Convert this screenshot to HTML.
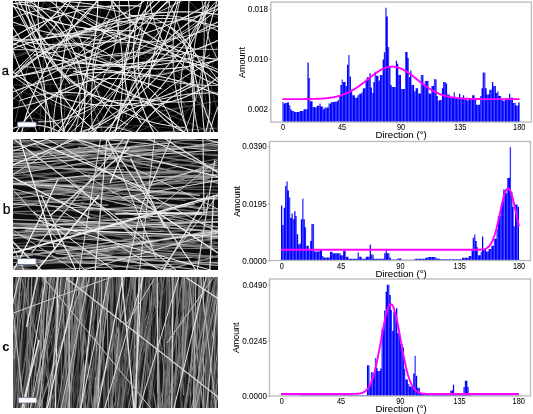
<!DOCTYPE html><html><head><meta charset="utf-8"><style>html,body{margin:0;padding:0;background:#fff;width:533px;height:414px;overflow:hidden;position:relative}.lbl{position:absolute;font-family:"Liberation Sans", sans-serif;font-size:13px;color:#000;line-height:1}svg{display:block}</style></head><body>
<svg style="position:absolute;left:13px;top:1px" width="205" height="131" viewBox="0 0 205 131"><defs><filter id="blr" x="-5%" y="-5%" width="110%" height="110%"><feGaussianBlur stdDeviation="0.7"/></filter><filter id="blr2" x="-5%" y="-5%" width="110%" height="110%"><feGaussianBlur stdDeviation="0.35"/></filter></defs><rect width="205" height="131" fill="#030303"/>
<g filter="url(#blr)">
<line x1="127.7" y1="64.9" x2="57.8" y2="81.8" stroke="rgb(77,77,77)" stroke-width="0.9"/>
<line x1="35.7" y1="62.8" x2="42.2" y2="147.8" stroke="rgb(56,56,56)" stroke-width="0.6"/>
<line x1="100.4" y1="-14.1" x2="24" y2="37.9" stroke="rgb(47,47,47)" stroke-width="0.8"/>
<line x1="111.4" y1="27" x2="51" y2="91.7" stroke="rgb(84,84,84)" stroke-width="0.6"/>
<line x1="86.9" y1="-6.8" x2="129.7" y2="22.4" stroke="rgb(46,46,46)" stroke-width="0.9"/>
<line x1="46" y1="62.7" x2="87.7" y2="92.1" stroke="rgb(63,63,63)" stroke-width="0.8"/>
<line x1="97.4" y1="14" x2="174.2" y2="105.8" stroke="rgb(98,98,98)" stroke-width="0.6"/>
<line x1="52.7" y1="83" x2="51.4" y2="115.6" stroke="rgb(81,81,81)" stroke-width="0.9"/>
<line x1="61.8" y1="56.4" x2="102.4" y2="165.4" stroke="rgb(99,99,99)" stroke-width="0.9"/>
<line x1="12.3" y1="116.2" x2="75.2" y2="126.7" stroke="rgb(90,90,90)" stroke-width="0.8"/>
<line x1="35.8" y1="65.1" x2="-5.9" y2="99.9" stroke="rgb(50,50,50)" stroke-width="0.7"/>
<line x1="23.5" y1="48.7" x2="-17.3" y2="58.8" stroke="rgb(90,90,90)" stroke-width="0.6"/>
<line x1="-21.8" y1="83.1" x2="46.3" y2="125.7" stroke="rgb(73,73,73)" stroke-width="0.8"/>
<line x1="193.9" y1="69.6" x2="210.1" y2="132" stroke="rgb(70,70,70)" stroke-width="0.8"/>
<line x1="94.6" y1="30.7" x2="-7.3" y2="40" stroke="rgb(64,64,64)" stroke-width="1.0"/>
<line x1="46.1" y1="24" x2="-38.1" y2="25.1" stroke="rgb(81,81,81)" stroke-width="0.6"/>
<line x1="168.5" y1="-8.2" x2="237.1" y2="64" stroke="rgb(66,66,66)" stroke-width="0.9"/>
<line x1="44.6" y1="-16.9" x2="113.8" y2="36.3" stroke="rgb(45,45,45)" stroke-width="0.8"/>
<line x1="112.7" y1="54.7" x2="39.7" y2="64.1" stroke="rgb(81,81,81)" stroke-width="0.7"/>
<line x1="65" y1="61.2" x2="93.3" y2="103.1" stroke="rgb(84,84,84)" stroke-width="0.7"/>
<line x1="62.3" y1="92.4" x2="15.5" y2="101.3" stroke="rgb(69,69,69)" stroke-width="1.0"/>
<line x1="107.9" y1="49.8" x2="139.6" y2="60.6" stroke="rgb(61,61,61)" stroke-width="0.7"/>
<line x1="180" y1="11.7" x2="108.9" y2="55.7" stroke="rgb(63,63,63)" stroke-width="0.8"/>
<line x1="156.8" y1="113.9" x2="224.2" y2="142.2" stroke="rgb(86,86,86)" stroke-width="0.9"/>
<line x1="149.3" y1="30.5" x2="102.6" y2="42.9" stroke="rgb(46,46,46)" stroke-width="0.6"/>
<line x1="57" y1="28.6" x2="111.7" y2="36.7" stroke="rgb(78,78,78)" stroke-width="0.8"/>
<line x1="82.7" y1="27.6" x2="-28.7" y2="67.3" stroke="rgb(87,87,87)" stroke-width="0.9"/>
<line x1="122.8" y1="69.7" x2="91.2" y2="178.4" stroke="rgb(75,75,75)" stroke-width="1.0"/>
<line x1="100.2" y1="123.2" x2="187.2" y2="129" stroke="rgb(75,75,75)" stroke-width="0.6"/>
<line x1="29.3" y1="9.9" x2="98.2" y2="25.9" stroke="rgb(68,68,68)" stroke-width="0.9"/>
<line x1="214.8" y1="55.9" x2="154.3" y2="137.2" stroke="rgb(66,66,66)" stroke-width="0.7"/>
<line x1="171.5" y1="104.7" x2="109.4" y2="131.3" stroke="rgb(95,95,95)" stroke-width="0.6"/>
<line x1="118.1" y1="-26.1" x2="86.8" y2="29.9" stroke="rgb(45,45,45)" stroke-width="0.8"/>
<line x1="71" y1="82.6" x2="-38.1" y2="84.9" stroke="rgb(91,91,91)" stroke-width="0.7"/>
<line x1="186.8" y1="55.4" x2="196.3" y2="126.4" stroke="rgb(79,79,79)" stroke-width="0.6"/>
<line x1="165.3" y1="-30.9" x2="142.3" y2="38.7" stroke="rgb(59,59,59)" stroke-width="1.0"/>
<line x1="40.9" y1="69.9" x2="5.4" y2="134.5" stroke="rgb(45,45,45)" stroke-width="0.7"/>
<line x1="32.2" y1="31.3" x2="26.5" y2="129" stroke="rgb(66,66,66)" stroke-width="0.9"/>
<line x1="67.3" y1="78.3" x2="113.9" y2="155.3" stroke="rgb(57,57,57)" stroke-width="0.9"/>
<line x1="144.8" y1="84.4" x2="184.7" y2="113.4" stroke="rgb(59,59,59)" stroke-width="0.8"/>
<line x1="64.3" y1="-34.8" x2="65.5" y2="70.5" stroke="rgb(99,99,99)" stroke-width="0.6"/>
<line x1="30.2" y1="117.8" x2="-3.9" y2="139.1" stroke="rgb(75,75,75)" stroke-width="0.7"/>
<line x1="58.2" y1="19.9" x2="29.6" y2="88.6" stroke="rgb(65,65,65)" stroke-width="0.9"/>
<line x1="144.6" y1="37.7" x2="200.6" y2="126" stroke="rgb(62,62,62)" stroke-width="0.9"/>
<line x1="14.9" y1="64.6" x2="2.1" y2="121" stroke="rgb(95,95,95)" stroke-width="0.8"/>
<line x1="90.4" y1="25.2" x2="172.4" y2="81" stroke="rgb(62,62,62)" stroke-width="0.7"/>
<line x1="42.7" y1="-26.1" x2="15" y2="38.4" stroke="rgb(85,85,85)" stroke-width="0.8"/>
<line x1="108" y1="42.5" x2="154.4" y2="54.1" stroke="rgb(97,97,97)" stroke-width="0.8"/>
<line x1="32.5" y1="-45.5" x2="40.7" y2="48.4" stroke="rgb(56,56,56)" stroke-width="0.7"/>
<line x1="196.6" y1="64.5" x2="122.6" y2="76.9" stroke="rgb(93,93,93)" stroke-width="0.7"/>
<line x1="148.5" y1="70" x2="199.5" y2="113.3" stroke="rgb(91,91,91)" stroke-width="0.8"/>
<line x1="106.7" y1="20.5" x2="78" y2="31.1" stroke="rgb(80,80,80)" stroke-width="0.8"/>
<line x1="215.6" y1="98.1" x2="144.9" y2="110.6" stroke="rgb(86,86,86)" stroke-width="1.0"/>
<line x1="65.9" y1="80" x2="-25.3" y2="147" stroke="rgb(52,52,52)" stroke-width="0.7"/>
<line x1="223.6" y1="125.7" x2="145.4" y2="131.2" stroke="rgb(95,95,95)" stroke-width="1.0"/>
<line x1="16" y1="92.2" x2="91.4" y2="95.9" stroke="rgb(47,47,47)" stroke-width="0.8"/>
<line x1="112.2" y1="84.4" x2="113.5" y2="116.9" stroke="rgb(96,96,96)" stroke-width="0.9"/>
<line x1="92.7" y1="-41" x2="83.2" y2="50.2" stroke="rgb(53,53,53)" stroke-width="0.8"/>
<line x1="207.6" y1="72.5" x2="202.4" y2="163.4" stroke="rgb(73,73,73)" stroke-width="1.0"/>
<line x1="76.9" y1="117.7" x2="125" y2="131" stroke="rgb(78,78,78)" stroke-width="0.8"/>
<line x1="137.2" y1="54.7" x2="203.6" y2="92.4" stroke="rgb(80,80,80)" stroke-width="0.7"/>
<line x1="176.6" y1="108.2" x2="98.7" y2="141.9" stroke="rgb(64,64,64)" stroke-width="0.9"/>
<line x1="204" y1="45.3" x2="193.1" y2="92.1" stroke="rgb(79,79,79)" stroke-width="0.6"/>
<line x1="3.1" y1="32.5" x2="-1" y2="66.2" stroke="rgb(70,70,70)" stroke-width="0.8"/>
<line x1="181.3" y1="9.5" x2="224.4" y2="22.5" stroke="rgb(79,79,79)" stroke-width="0.8"/>
<line x1="181" y1="79.9" x2="196.5" y2="129.8" stroke="rgb(76,76,76)" stroke-width="0.7"/>
<line x1="123.6" y1="95.7" x2="54.2" y2="118.1" stroke="rgb(65,65,65)" stroke-width="0.6"/>
<line x1="54.1" y1="-30.1" x2="117.9" y2="37.8" stroke="rgb(46,46,46)" stroke-width="0.6"/>
<line x1="2" y1="-35.5" x2="61.7" y2="38.6" stroke="rgb(60,60,60)" stroke-width="0.8"/>
<line x1="-13.7" y1="81.5" x2="56.7" y2="110" stroke="rgb(61,61,61)" stroke-width="0.9"/>
</g>
<path d="M11.9 -9.4 13.1 -3.7 14.4 1.9 16 7.5 17.7 13 19.5 18.5 21.6 23.9 23.7 29.2 26 34.5 28.5 39.7 31.1 44.9 33.9 49.9 36.8 54.9 39.9 59.8 43.1 64.6 46.4 69.4 49.9 74 53.5 78.5 57.2 82.9" fill="none" stroke="rgb(217,217,217)" stroke-width="1.14"/>
<path d="M214.1 -49.2 212.6 -43.4 210.9 -37.7 209.1 -32 207.2 -26.3 205.2 -20.7 203 -15.1 200.7 -9.5 198.3 -4 195.8 1.4 193.2 6.8 190.5 12.1 187.6 17.4 184.7 22.6 181.6 27.7 178.4 32.8 175.1 37.8 171.7 42.8 168.3 47.6 164.6 52.4 160.9 57.1 157.1 61.7 153.2 66.3 149.2 70.7 145.2 75.1 141 79.4 136.7 83.6 132.3 87.7 127.9 91.7 123.4 95.6 118.7 99.4 114 103.1 109.3 106.8 104.4 110.3 99.5 113.7 94.5 117 89.4 120.2 84.3 123.3 79.1 126.2 73.9 129.1 68.5 131.9 63.2 134.5 57.7 137 52.2 139.4 46.7 141.7 41.1 143.9 35.5 145.9 29.8 147.8" fill="none" stroke="rgb(221,221,221)" stroke-width="1.01"/>
<path d="M73.7 -26.5 70.6 -21.5 67.4 -16.7 64 -11.9 60.5 -7.3 56.9 -2.7 53.1 1.7 49.2 6 45.2 10.2 41 14.3 36.7 18.3 32.3 22.1 27.8 25.7 23.2 29.3 18.4 32.7 13.6 35.9 8.7 39 3.7 42 -1.4 44.8 -6.6 47.4 -11.9 49.9 -17.2 52.3 -22.7 54.4 -28.1 56.4 -33.7 58.3 -39.2 59.9 -44.9 61.4 -50.5 62.7" fill="none" stroke="rgb(252,252,252)" stroke-width="1.19"/>
<path d="M208.3 14 202.3 13.1 196.4 12.4 190.4 11.8 184.5 11.3 178.5 11 172.5 10.9 166.5 10.8 160.5 10.9 154.5 11.2 148.5 11.6 142.6 12.1 136.6 12.8 130.7 13.6 124.8 14.6 118.9 15.7 113 16.9 107.2 18.3 101.4 19.8 95.6 21.4 89.9 23.2 84.2 25.1 78.6 27.2 73 29.4 67.5 31.7 62 34.1 56.6 36.7 51.3 39.4 46 42.2 40.8 45.2 35.6 48.3 30.6 51.5 25.6 54.8 20.6 58.2 15.8 61.7 11.1 65.4 6.4 69.2 1.8 73" fill="none" stroke="rgb(236,236,236)" stroke-width="1.15"/>
<path d="M129.3 26.2 128.7 32.1 127.8 38 126.5 43.9 124.9 49.6 122.9 55.3 120.6 60.8 118 66.2 115.1 71.4 111.9 76.4 108.4 81.3 104.6 85.9 100.5 90.3 96.2 94.4 91.7 98.3 86.9 101.9 82 105.3 76.8 108.3 71.5 111 66 113.4 60.4 115.5 54.7 117.3 48.9 118.7 43 119.7 37.1 120.5 31.1 120.8 25.1 120.8" fill="none" stroke="rgb(236,236,236)" stroke-width="0.92"/>
<path d="M255.2 141.2 256 135.3 256.6 129.4 256.8 123.4 256.7 117.4 256.2 111.4 255.4 105.5 254.3 99.6 252.9 93.8 251.1 88 249.1 82.4 246.7 76.9 244 71.6 241 66.4 237.8 61.3 234.3 56.5 230.5 51.9 226.4 47.4 222.1 43.2 217.6 39.3 212.9 35.6 208 32.2 202.9 29 197.6 26.2 192.2 23.6 186.7 21.4 181 19.4 175.2 17.8 169.4 16.5 163.5 15.5 157.5 14.9 151.6 14.5 145.6 14.5 139.6 14.9 133.6 15.6 127.7 16.6 121.9 17.9 116.1 19.5 110.5 21.5 104.9 23.8 99.5 26.4 94.3 29.2 89.2 32.4 84.3 35.8 79.6 39.6 75.1 43.5 70.8 47.7 66.8 52.2 63 56.8 59.5 61.7 56.3 66.7 53.3 71.9 50.7 77.3 48.3 82.8 46.3 88.4 44.5 94.2 43.1 100 42 105.9 41.3 111.8 40.8 117.8 40.7 123.8 41 129.8 41.5 135.7 42.4 141.6 43.7 147.5" fill="none" stroke="rgb(234,234,234)" stroke-width="0.94"/>
<path d="M86.4 -76.4 89.7 -71.4 92.7 -66.4 95.6 -61.2 98.4 -55.9 100.9 -50.5 103.3 -45.1 105.5 -39.6 107.5 -34 109.3 -28.4 110.9 -22.6 112.4 -16.9 113.6 -11.1 114.7 -5.2 115.5 0.6 116.2 6.5 116.6 12.4 116.9 18.4 117 24.3 116.9 30.2 116.5 36.2 116 42.1 115.3 48 114.4 53.8 113.3 59.7 112 65.5 110.5 71.2 108.8 76.9 107 82.5 104.9 88.1 102.7 93.6 100.3 99 97.7 104.4 94.9 109.6 92 114.8 88.8 119.8 85.6 124.8 82.1 129.6 78.5 134.3 74.8 138.9 70.9 143.4 66.8 147.7 62.6 151.9" fill="none" stroke="rgb(228,228,228)" stroke-width="1.08"/>
<path d="M12.6 42.5 18 45 23.4 47.4 28.8 49.6 34.3 51.7 39.9 53.6 45.5 55.4 51.2 57.1 56.9 58.6 62.6 60 68.4 61.2 74.2 62.3 80 63.2 85.9 64 91.7 64.7 97.6 65.2 103.5 65.5 109.4 65.7 115.3 65.8 121.2 65.7 127.1 65.4 133 65 138.9 64.5 144.7 63.8 150.6 63 156.4 62 162.2 60.9 167.9 59.6 173.6 58.2 179.3 56.6 185 54.9" fill="none" stroke="rgb(240,240,240)" stroke-width="1.00"/>
<path d="M42.7 177.4 42.6 171.4 42.8 165.4 43.3 159.4 44.2 153.5 45.3 147.6 46.8 141.8 48.6 136.1 50.7 130.4 53 124.9 55.7 119.6 58.7 114.3 61.9 109.3 65.4 104.4 69.1 99.7 73.1 95.3 77.3 91 81.8 87 86.4 83.2 91.2 79.6 96.3 76.4 101.4 73.4 106.8 70.6 112.3 68.2 117.9 66.1 123.6 64.2 129.4 62.7 135.2 61.5 141.2 60.6 147.1 60 153.1 59.7 159.1 59.7 165.1 60.1 171 60.8 177 61.8 182.8 63.1 188.6 64.7 194.3 66.6 199.8 68.8 205.3 71.4 210.6 74.2 215.7 77.2 220.7 80.6 225.5 84.2 230.1 88 234.4 92.1 238.6 96.5 242.5 101 246.2 105.7 249.6 110.7 252.8 115.8 255.6 121 258.2 126.4 260.5 132 262.5 137.6 264.2 143.4 265.6 149.2 266.7 155.1 267.4 161 267.9 167 268 173 267.8 179 267.3 185" fill="none" stroke="rgb(250,250,250)" stroke-width="1.02"/>
<path d="M215.8 29 210.2 27.2 204.5 25.5 198.8 23.9 193 22.5 187.3 21.3 181.4 20.2 175.6 19.3 169.7 18.6 163.9 18 158 17.6 152 17.4 146.1 17.4 140.2 17.5 134.3 17.7 128.4 18.2 122.5 18.8 116.7 19.5 110.8 20.4 105 21.5 99.3 22.8 93.5 24.2 87.8 25.8 82.2 27.5 76.6 29.4 71 31.5 65.6 33.7 60.1 36.1 54.8 38.6 49.5 41.3 44.3 44.1 39.2 47.1 34.2 50.2 29.2 53.4 24.4 56.8 19.6 60.3 15 64 10.5 67.7 6 71.7 1.7 75.7 -2.5 79.8 -6.6 84.1 -10.6 88.5 -14.4 93 -18.1 97.6 -21.7 102.3 -25.1 107.1 -28.5 112 -31.6 117 -34.7 122.1 -37.5 127.2 -40.3 132.4 -42.9 137.8 -45.3 143.1 -47.6 148.6 -49.7 154.1 -51.7 159.7 -53.5 165.3 -55.2 171" fill="none" stroke="rgb(219,219,219)" stroke-width="1.02"/>
<path d="M89.6 -107.9 84.8 -104.5 80.1 -100.9 75.5 -97.1 71.1 -93.1 66.9 -89 62.8 -84.6 58.9 -80.2 55.2 -75.5 51.7 -70.8 48.4 -65.9 45.3 -60.8 42.4 -55.7 39.7 -50.4 37.2 -45 35 -39.5 32.9 -34 31.1 -28.3 29.5 -22.6 28.2 -16.8 27.1 -11 26.2 -5.2 25.5 0.7 25.1 6.6 25 12.5 25.1 18.5 25.4 24.4 25.9 30.3 26.7 36.2 27.8 42 29 47.8 30.5 53.5 32.2 59.2 34.2 64.8 36.4 70.3 38.8 75.7 41.4 81 44.2 86.2 47.3 91.3 50.5 96.3 54 101.1 57.6 105.8 61.4 110.3 65.4 114.7 69.6 118.9 73.9 122.9 78.4 126.7 83.1 130.4 87.9 133.9 92.8 137.2 97.9 140.3 103 143.1 108.3 145.8 113.7 148.2 119.2 150.5 124.8 152.5 130.5 154.2 136.2 155.8 142 157.1 147.8 158.2 153.6 159 159.5 159.6 165.4 160 171.4 160.1 177.3 160 183.2 159.6 189.1 159" fill="none" stroke="rgb(246,246,246)" stroke-width="1.02"/>
<path d="M-20.5 -20.1 -16.4 -15.9 -12.4 -11.5 -8.6 -6.9 -4.9 -2.3 -1.3 2.5 2.1 7.4 5.3 12.4 8.4 17.5 11.2 22.7 14 27.9 16.5 33.3 18.9 38.8 21.1 44.3 23.1 49.9 24.9 55.5 26.5 61.3 28 67 29.2 72.8 30.3 78.7 31.2 84.6 31.9 90.5 32.4 96.4 32.7 102.3 32.8 108.3 32.7 114.2 32.4 120.1 31.9 126.1 31.2 132 30.4 137.8 29.3 143.7 28 149.5 26.6 155.3 25 161 23.2 166.6 21.2 172.2 19 177.8 16.6 183.2 14.1 188.6 11.4 193.9 8.5 199.1 5.5 204.2 2.2 209.2 -1.1 214.1 -4.7 218.9 -8.4 223.5 -12.2 228.1 -16.2 232.5" fill="none" stroke="rgb(238,238,238)" stroke-width="1.01"/>
<path d="M99.7 -58.5 105.6 -58.2 111.4 -57.3 117.2 -55.8 122.7 -53.7 128 -51.1 133 -47.9 137.6 -44.2 141.8 -40 145.6 -35.4 148.9 -30.5 151.6 -25.2 153.7 -19.7 155.3 -14 156.3 -8.2 156.7 -2.3 156.4 3.6 155.5 9.5 154 15.2 152 20.8 149.3 26.1 146.2 31.1 142.5 35.7 138.3 39.9 133.8 43.7 128.9 47 123.6 49.8 118.1 51.9 112.4 53.5 106.6 54.5 100.7 54.9 94.7 54.7 88.9 53.8 83.1 52.4 77.6 50.3 72.3 47.7 67.3 44.6 62.6 40.9 58.4 36.8 54.6 32.2 51.3 27.3 48.5 22.1 46.3 16.6 44.7 10.9 43.6 5.1 43.2 -0.8 43.4 -6.8 44.3 -12.6 45.7 -18.4 47.7 -23.9 50.3 -29.3 53.5 -34.3 57.1 -38.9 61.2 -43.2 65.7 -47 70.6 -50.3 75.9 -53.1" fill="none" stroke="rgb(252,252,252)" stroke-width="0.82"/>
<path d="M141.4 -22.5 144.5 -17.7 147.5 -12.8 150.4 -7.8 153.2 -2.8 155.8 2.3 158.4 7.5 160.8 12.7 163.1 18 165.2 23.3 167.2 28.7 169.1 34.2 170.8 39.6 172.5 45.2 173.9 50.7 175.3 56.3 176.5 61.9 177.6 67.6 178.5 73.3 179.3 79 180 84.7" fill="none" stroke="rgb(235,235,235)" stroke-width="0.83"/>
<path d="M107.4 17.1 102.6 20.6 98.2 24.5 94.2 28.8 90.7 33.5 87.6 38.5 85 43.8 82.9 49.3 81.4 55 80.4 60.8 79.9 66.6 80.1 72.5 80.8 78.4 82 84.1 83.8 89.7 86.1 95.1 89 100.3 92.3 105.2 96 109.7 100.2 113.8 104.8 117.6 109.7 120.8 114.9 123.6" fill="none" stroke="rgb(244,244,244)" stroke-width="0.86"/>
<path d="M216.1 16.6 210.6 18.7 205.1 21 199.7 23.4 194.4 26 189.1 28.7 184 31.5 178.9 34.6 173.9 37.7 169 41 164.2 44.5 159.4 48 154.8 51.8 150.3 55.6 145.9 59.6 141.7 63.7 137.5 67.9 133.5 72.2 129.6 76.7 125.8 81.2 122.2 85.9 118.7 90.7 115.3 95.5 112.1 100.5 109 105.5 106.1 110.7 103.3 115.9 100.6 121.2 98.2 126.6 95.8 132 93.7 137.5 91.6 143.1 89.8 148.7 88.1 154.4 86.6 160.1 85.2 165.8 84 171.6 83 177.5 82.1 183.3 81.4 189.2 80.9 195.1" fill="none" stroke="rgb(228,228,228)" stroke-width="1.14"/>
<path d="M-10.9 -47.4 -11.5 -41.5 -12 -35.6 -12.3 -29.7 -12.4 -23.8 -12.3 -17.9 -12.1 -12 -11.8 -6.1 -11.3 -0.2 -10.6 5.7 -9.7 11.6 -8.7 17.4 -7.6 23.2 -6.2 29 -4.8 34.7 -3.1 40.4 -1.3 46 0.6 51.6 2.7 57.1 4.9 62.6 7.3 68 9.8 73.4 12.5 78.7 15.4 83.9 18.3 89 21.4 94 24.7 99 28 103.8 31.5 108.6 35.2 113.3 38.9 117.8 42.8 122.3 46.8 126.6 50.9 130.9 55.2 135 59.5 139 64 142.9 68.5 146.7 73.2 150.4 77.9 153.9 82.8 157.3" fill="none" stroke="rgb(231,231,231)" stroke-width="1.06"/>
<path d="M253.1 41.1 247.4 42.6 241.7 44.3 236 46 230.4 47.9 224.8 49.9 219.3 52 213.8 54.2 208.3 56.5 202.9 59 197.6 61.5 192.3 64.2 187 66.9 181.8 69.8 176.7 72.8 171.6 75.9 166.6 79.1 161.7 82.4 156.8 85.8 152 89.3 147.3 92.8 142.7 96.5 138.1 100.3 133.6 104.2 129.2 108.2 124.9 112.2 120.6 116.4 116.5 120.6 112.4 124.9 108.4 129.3 104.5 133.8 100.8 138.3 97.1 143 93.5 147.7 89.9 152.5 86.5 157.3 83.2 162.3 80 167.2 76.9 172.3 73.9 177.4 71 182.6 68.3 187.8 65.6 193.1 63 198.5 60.6 203.9 58.2 209.3 56 214.8 53.9 220.4 51.9 225.9 50 231.6 48.2 237.2 46.6 242.9 45 248.7 43.6 254.4 42.3 260.2" fill="none" stroke="rgb(230,230,230)" stroke-width="0.99"/>
<path d="M-0.4 -8.7 5 -6.2 10.2 -3.5 15.3 -0.6 20.2 2.6 25 6.1 29.6 9.8 34 13.7 38.2 17.8 42.2 22.1 46 26.7 49.6 31.4 52.9 36.2 56 41.3 58.8 46.4 61.3 51.7 63.6 57.2 65.6 62.7 67.4 68.3 68.8 74.1 70 79.8 70.9 85.7 71.5 91.5 71.8 97.4 71.8 103.3 71.5 109.2 71 115.1 70.1 120.9 68.9 126.7 67.5 132.4 65.8 138 63.8 143.6 61.5 149 59 154.3 56.2 159.5 53.1 164.6 49.8 169.4 46.3 174.1 42.5 178.7 38.5 183 34.3 187.2 29.9 191.1 25.3 194.8 20.6 198.2 15.6 201.5 10.5 204.5 5.3 207.2 -0 209.6 -5.5 211.8" fill="none" stroke="rgb(251,251,251)" stroke-width="1.08"/>
<path d="M-10.7 -78.7 -10.7 -72.8 -10.5 -66.9 -10.2 -61 -9.6 -55.1 -8.9 -49.2 -7.9 -43.4 -6.8 -37.6 -5.4 -31.8 -3.9 -26.1 -2.2 -20.5 -0.3 -14.9 1.8 -9.3 4.1 -3.9 6.6 1.5 9.3 6.8 12.1 12 15.1 17.1 18.3 22.1 21.6 27 25.1 31.8 28.8 36.4 32.6 40.9 36.5 45.3 40.6 49.6 44.9 53.7 49.3 57.7 53.8 61.5 58.4 65.1 63.2 68.6 68.1 72 73.1 75.2 78.2 78.2 83.4 81 88.7 83.7 94 86.1 99.5 88.4 105 90.5 110.6 92.5 116.3 94.2 122 95.7 127.8 97.1 133.6 98.2 139.4 99.2 145.3 100 151.2 100.5 157.1 100.9 163 101 168.9 101 174.8 100.8 180.7 100.3" fill="none" stroke="rgb(227,227,227)" stroke-width="1.15"/>
<path d="M114.7 14.9 120.6 14.4 126.4 14.6 132.3 15.3 138 16.7 143.5 18.6 148.8 21.1 153.8 24.1 158.5 27.6 162.8 31.6 166.7 36 170.1 40.8 172.9 45.9 175.3 51.3 177 56.9 178.2 62.6 178.8 68.4 178.8 74.3 178.2 80.1 176.9 85.8" fill="none" stroke="rgb(229,229,229)" stroke-width="1.02"/>
<path d="M159.3 43.7 154.2 46.6 149.2 49.7 144.3 52.9 139.4 56.2 134.7 59.7 130.1 63.4 125.5 67.1 121.1 71 116.8 75 112.6 79.1 108.5 83.4 104.5 87.7 100.7 92.2 97 96.8 93.4 101.4 90 106.2 86.7 111.1 83.5 116 80.5 121.1 77.6 126.2 74.8 131.4 72.3 136.7 69.8 142.1 67.5 147.5 65.4 153 63.4 158.6 61.6 164.2 60 169.8 58.5 175.5 57.2 181.2 56 187 55 192.8 54.2 198.6 53.5 204.5 53 210.4 52.6 216.2" fill="none" stroke="rgb(245,245,245)" stroke-width="0.94"/>
<path d="M-85.3 -62.4 -81.5 -57.9 -77.6 -53.5 -73.7 -49.2 -69.6 -44.9 -65.5 -40.8 -61.2 -36.8 -56.9 -32.9 -52.4 -29.1 -47.9 -25.3 -43.3 -21.7 -38.6 -18.2 -33.8 -14.8 -29 -11.6 -24.1 -8.4 -19.1 -5.3 -14 -2.4 -8.8 0.4 -3.6 3.1 1.6 5.7 6.9 8.1 12.3 10.4 17.7 12.6 23.2 14.7 28.7 16.6 34.3 18.4 39.9 20.1 45.6 21.6 51.2 23.1 57 24.3 62.7 25.5 68.5 26.5 74.3 27.4 80.1 28.1 85.9 28.7 91.7 29.2 97.6 29.5 103.4 29.7 109.3 29.8 115.1 29.7 121 29.5" fill="none" stroke="rgb(254,254,254)" stroke-width="1.14"/>
<path d="M72.1 -31.7 69.9 -26.3 67.7 -20.9 65.3 -15.5 62.8 -10.2 60.2 -5 57.5 0.2 54.6 5.3 51.6 10.3 48.5 15.3 45.3 20.2 42 25 38.6 29.7 35 34.4 31.4 39 27.6 43.5 23.8 47.9 19.8 52.2 15.8 56.4 11.6 60.5 7.4 64.6 3 68.5 -1.4 72.3 -5.9 76 -10.5 79.6 -15.2 83.2 -20 86.6 -24.8 89.8 -29.7 93 -34.7 96.1 -39.8 99 -44.9 101.9 -50.1 104.6 -55.3 107.1 -60.6 109.6 -66 112 -71.4 114.2" fill="none" stroke="rgb(253,253,253)" stroke-width="0.93"/>
<path d="M309.2 -11.4 305.4 -6.8 301.4 -2.3 297.4 2.1 293.2 6.3 288.9 10.4 284.5 14.4 280 18.3 275.3 22.1 270.6 25.7 265.8 29.2 260.9 32.6 255.8 35.8 250.7 38.8 245.5 41.8 240.3 44.6 234.9 47.2 229.5 49.7 224 52 218.5 54.2 212.9 56.2 207.2 58.1 201.5 59.8 195.7 61.3 189.9 62.7 184.1 64 178.3 65 172.4 65.9 166.4 66.6 160.5 67.2 154.6 67.6 148.6 67.8 142.6 67.9 136.7 67.8 130.7 67.5 124.8 67.1 118.9 66.5 112.9 65.8 107.1 64.8 101.2 63.7 95.4 62.5 89.6 61.1 83.8 59.5 78.1 57.8 72.5 55.9 66.9 53.8 61.4 51.6" fill="none" stroke="rgb(244,244,244)" stroke-width="1.15"/>
<path d="M182.1 -35.1 183.6 -29.3 185 -23.5 186.3 -17.7 187.4 -11.8 188.4 -5.9 189.2 0 189.9 5.9 190.4 11.9 190.8 17.8 191.1 23.8 191.2 29.8 191.2 35.8 191.1 41.7 190.8 47.7 190.4 53.7 189.8 59.6 189.1 65.6 188.2 71.5 187.2 77.4 186.1 83.2 184.8 89.1 183.4 94.9 181.9 100.7 180.2 106.4 178.4 112.1 176.5 117.7 174.4 123.3 172.2 128.9 169.8 134.4 167.4 139.8 164.8 145.2 162.1 150.5 159.2 155.8 156.3 161 153.2 166.1 150 171.1 146.6 176.1 143.2 181 139.6 185.8 136 190.5" fill="none" stroke="rgb(215,215,215)" stroke-width="0.83"/>
<path d="M-47.9 45 -43.3 41.3 -38.5 37.7 -33.5 34.3 -28.5 31.1 -23.3 28 -18.1 25.1 -12.8 22.4 -7.3 19.9 -1.8 17.6 3.8 15.5 9.5 13.5 15.2 11.8 21 10.3 26.8 8.9 32.7 7.8 38.6 6.8 44.5 6.1 50.5 5.6 56.5 5.3 62.5 5.2 68.4 5.2 74.4 5.5 80.4 6 86.3 6.8 92.3 7.7 98.1 8.8 104 10.1 109.8 11.6 115.5 13.3 121.2 15.3 126.8 17.4 132.3 19.7 137.7 22.2 143.1 24.8 148.4 27.7 153.5 30.7 158.6 33.9 163.5 37.3 168.3 40.9 173 44.6 177.6 48.5 182 52.5 186.3 56.7 190.4 61 194.4 65.5 198.2 70.1 201.9 74.8 205.4 79.7 208.7 84.7 211.9 89.7 214.9 94.9 217.7 100.2 220.3 105.6 222.7 111.1 224.9 116.6" fill="none" stroke="rgb(235,235,235)" stroke-width="0.91"/>
<path d="M196.1 3.4 193.9 9 191.7 14.5 189.3 20 186.8 25.4 184.2 30.8 181.5 36.1 178.7 41.3 175.8 46.5 172.7 51.6 169.5 56.7 166.3 61.7 162.9 66.6 159.4 71.4 155.8 76.2 152.1 80.9 148.4 85.5 144.5 90 140.5 94.4 136.4 98.8 132.2 103 128 107.2 123.6 111.3 119.2 115.3 114.7 119.1 110.1 122.9 105.4 126.6 100.6 130.2 95.8 133.7 90.9 137.1 85.9 140.3 80.8 143.5 75.7 146.6 70.5 149.5" fill="none" stroke="rgb(243,243,243)" stroke-width="1.03"/>
<path d="M312.3 -122.5 311 -116.7 309.5 -111 307.8 -105.3 305.9 -99.7 303.8 -94.1 301.6 -88.6 299.2 -83.2 296.6 -77.9 293.8 -72.6 290.9 -67.4 287.7 -62.4 284.5 -57.4 281 -52.6 277.5 -47.9 273.7 -43.2 269.8 -38.8 265.8 -34.4 261.6 -30.2 257.3 -26.1 252.9 -22.1 248.3 -18.3 243.7 -14.7 238.9 -11.2 234 -7.8 229 -4.7 223.8 -1.7 218.6 1.2 213.3 3.9 207.9 6.4 202.5 8.7 196.9 10.8 191.3 12.8 185.7 14.6 180 16.2 174.2 17.6 168.4 18.8 162.5 19.8 156.7 20.7 150.8 21.3 144.9 21.8 138.9 22 133 22.1 127.1 22 121.1 21.7 115.2 21.2 109.3 20.5 103.4 19.6 97.6 18.5 91.8 17.2 86.1 15.8 80.4 14.1 74.7 12.3 69.1 10.3 63.6 8.1 58.2 5.7 52.8 3.2 47.5 0.5 42.3 -2.4 37.3 -5.5 32.3 -8.7 27.4 -12.1 22.6 -15.6 18 -19.3 13.4 -23.2 9 -27.1 4.8 -31.3 0.6 -35.5" fill="none" stroke="rgb(244,244,244)" stroke-width="0.93"/>
<path d="M153.3 234.3 156.2 229.2 158.7 223.8 160.6 218.2 162.2 212.5 163.2 206.7 163.7 200.8 163.8 194.9 163.4 189 162.5 183.2 161.1 177.5 159.2 171.9 156.9 166.4 154.1 161.2 150.9 156.3 147.3 151.6 143.3 147.2 139 143.2 134.4 139.5 129.4 136.3 124.3 133.4 118.9 131 113.3 129.1 107.6 127.6 101.7 126.6 95.8 126.1 89.9 126.1 84.1 126.6 78.2 127.6 72.5 129 66.9 130.9 61.5 133.3 56.3 136.1 51.4 139.4 46.7 143 42.4 147 38.4 151.4 34.8 156 31.6 161 28.8 166.2 26.4 171.6 24.5 177.2 23.1 183 22.2 188.8 21.7 194.7 21.8 200.6 22.3 206.5 23.3 212.3 24.8 218 26.8 223.6 29.2 229 32.1 234.1 35.4 239 39 243.7 43.1 248 47.5 251.9 52.2 255.5 57.2 258.7 62.4 261.4 67.8 263.7" fill="none" stroke="rgb(216,216,216)" stroke-width="0.95"/>
<path d="M70.9 27.5 76.8 28.1 82.7 28.8 88.6 29.7 94.5 30.7 100.3 31.8 106.1 33.1 111.9 34.5 117.7 36.1 123.4 37.8 129.1 39.6 134.7 41.6 140.2 43.7 145.8 46 151.2 48.3 156.6 50.8 162 53.5 167.3 56.2 172.5 59.1 177.6 62.1 182.7 65.2 187.7 68.5 192.6 71.8 197.4 75.3 202.2 78.9 206.9 82.6 211.4 86.5 215.9 90.4 220.3 94.4 224.6 98.6 228.8 102.8 232.8 107.1 236.8 111.6 240.7 116.1 244.5 120.7 248.1 125.4 251.6 130.2 255.1 135.1 258.4 140.1 261.6 145.1 264.6 150.2 267.6 155.4 270.4 160.6 273.1 166 275.6 171.3" fill="none" stroke="rgb(252,252,252)" stroke-width="1.03"/>
<path d="M115.7 51.8 111.1 55.6 106.5 59.3 101.7 62.9 96.9 66.3 92 69.7 87 72.9 81.9 76 76.8 79 71.6 81.8 66.3 84.6 61 87.2 55.6 89.7 50.1 92.1 44.6 94.3 39.1 96.4 33.5 98.4 27.8 100.2 22.1 101.9 16.4 103.5 10.6 105 4.8 106.3 -1 107.4 -6.8 108.5 -12.7 109.4 -18.6 110.1 -24.5 110.7 -30.4 111.2 -36.4 111.5" fill="none" stroke="rgb(218,218,218)" stroke-width="1.02"/>
<path d="M38 -80.3 43.8 -79.8 49.6 -78.7 55.2 -77.2 60.7 -75.1 66 -72.6 71.1 -69.6 75.8 -66.2 80.3 -62.4 84.3 -58.1 88 -53.6 91.3 -48.7 94.1 -43.6 96.5 -38.2 98.4 -32.6 99.7 -26.9 100.6 -21.1 100.9 -15.3 100.8 -9.4 100.1 -3.6 98.8 2.1 97.1 7.8 94.9 13.2 92.2 18.4 89.1 23.4 85.5 28 81.6 32.3 77.2 36.3 72.6 39.9 67.6 43 62.4 45.7 57 47.9 51.3 49.6 45.6 50.8 39.8 51.5 33.9 51.6 28.1 51.3 22.3 50.4 16.6 49 11 47.2 5.6 44.8 0.5 42 -4.4 38.7 -8.9 35 -13.1 30.9 -17 26.5" fill="none" stroke="rgb(249,249,249)" stroke-width="0.83"/>
<path d="M61.3 218.1 65 213.5 68.2 208.6 70.9 203.3 73 197.8 74.6 192.1 75.5 186.2 75.8 180.3 75.5 174.4 74.5 168.6 73 162.8 70.9 157.3 68.2 152 64.9 147.1 61.2 142.5 57 138.3 52.4 134.6 47.4 131.4 42.1 128.7 36.6 126.6 30.9 125.1 25.1 124.2 19.1 123.9 13.2 124.2 7.4 125.1 1.7 126.7 -3.8 128.8 -9.1 131.5 -14.1 134.8 -18.7 138.5 -22.8 142.7 -26.5 147.3 -29.7 152.3 -32.4 157.6 -34.5 163.1 -36 168.8 -36.9 174.7 -37.2 180.6 -36.9 186.5 -35.9 192.4 -34.4 198.1 -32.2 203.6 -29.5 208.8 -26.3 213.8 -22.5 218.4 -18.3 222.5 -13.7 226.2 -8.7 229.4 -3.4 232.1 2.1 234.2 7.8 235.7" fill="none" stroke="rgb(221,221,221)" stroke-width="1.10"/>
<path d="M60.1 70 65.8 71.5 71.5 73.1 77.2 74.8 82.7 76.7 88.3 78.7 93.8 80.9 99.2 83.2 104.6 85.6 109.9 88.2 115.2 90.8 120.4 93.7 125.5 96.6 130.5 99.7 135.5 102.8 140.4 106.2 145.2 109.6 149.9 113.1 154.5 116.8 159.1 120.5 163.5 124.4 167.9 128.4 172.1 132.5 176.3 136.7 180.3 141 184.3 145.4 188.1 149.9 191.8 154.4 195.4 159.1 198.9 163.9 202.3 168.7 205.5 173.6 208.7 178.6 211.7 183.7 214.6 188.8 217.3 194.1 220 199.3 222.5 204.7" fill="none" stroke="rgb(236,236,236)" stroke-width="1.12"/>
<path d="M114.4 -68.9 110.3 -64.6 106.3 -60.3 102.3 -55.8 98.5 -51.2 94.8 -46.6 91.3 -41.8 87.8 -37 84.5 -32 81.3 -27 78.3 -21.9 75.4 -16.7 72.6 -11.5 70 -6.1 67.5 -0.7 65.1 4.7 62.9 10.2 60.8 15.8 58.9 21.4 57.1 27.1 55.5 32.8 54 38.6 52.7 44.4 51.5 50.2 50.5 56.1 49.7 61.9 49 67.8 48.4 73.8 48 79.7 47.8 85.6 47.7 91.6 47.7 97.5 48 103.5 48.3 109.4 48.9 115.3 49.6 121.2 50.4 127.1 51.4 133 52.5 138.8 53.8 144.6 55.3 150.4 56.9 156.1 58.7 161.8 60.6 167.4 62.6 173 64.8 178.5 67.1 184 69.6 189.4 72.2 194.7 75 200 77.9 205.2 80.9 210.3 84.1 215.3 87.4 220.2 90.8 225.1 94.4 229.9 98 234.5 101.8 239.1 105.7 243.6 109.8 248 113.9 252.2 118.2 256.4 122.5 260.4 127 264.4" fill="none" stroke="rgb(241,241,241)" stroke-width="1.10"/>
<path d="M-66.9 131.5 -62.3 127.7 -57.6 124.1 -52.9 120.6 -48 117.2 -43.1 113.8 -38.2 110.6 -33.1 107.6 -28 104.6 -22.8 101.8 -17.6 99 -12.3 96.4 -6.9 93.9 -1.5 91.6 4 89.3 9.5 87.2 15.1 85.2 20.7 83.4 26.3 81.6 32 80 37.8 78.6 43.5 77.2 49.3 76 55.1 75 61 74 66.8 73.2 72.7 72.5 78.6 72 84.5 71.6 90.4 71.3 96.3 71.2 102.2 71.2 108.1 71.4 114 71.6 119.9 72 125.8 72.6 131.7 73.3 137.5 74.1 143.4 75 149.2 76.1 155 77.3 160.7 78.7 166.5 80.1 172.1 81.7 177.8 83.5 183.4 85.3 189 87.3 194.5 89.5 200 91.7 205.4 94.1 210.7 96.6 216 99.2 221.3 101.9 226.5 104.8 231.6 107.8 236.6 110.8 241.6 114 246.5 117.4 251.3 120.8 256 124.3 260.7 128 265.3 131.7 269.8 135.6" fill="none" stroke="rgb(249,249,249)" stroke-width="1.06"/>
<path d="M219.5 -122.1 217.8 -116.4 215.9 -110.7 214 -105.1 211.9 -99.5 209.7 -94 207.4 -88.5 205 -83.1 202.4 -77.7 199.8 -72.4 197 -67.1 194.1 -61.9 191.1 -56.8 188.1 -51.7 184.9 -46.7 181.5 -41.8 178.1 -36.9 174.6 -32.1 171 -27.4 167.3 -22.7 163.5 -18.1 159.6 -13.7 155.6 -9.3 151.5 -5 147.3 -0.7 143 3.4 138.7 7.5 134.2 11.4 129.7 15.3 125.1 19 120.4 22.7 115.6 26.3 110.8 29.7 105.9 33.1 100.9 36.3 95.9 39.5 90.8 42.5 85.6 45.5 80.4 48.3 75.1 51 69.7 53.6 64.3 56.1 58.9 58.4 53.4 60.7 47.8 62.8 42.2 64.8 36.6 66.7 30.9 68.5 25.2 70.2 19.4 71.7 13.7 73.1 7.9 74.4 2 75.6 -3.8 76.6 -9.7 77.5 -15.6 78.3 -21.5 79 -27.4 79.6 -33.4 80 -39.3 80.3 -45.2 80.4 -51.2 80.5 -57.1 80.4 -63.1 80.2" fill="none" stroke="rgb(230,230,230)" stroke-width="1.10"/>
<path d="M72.1 -64.1 73.2 -58.3 74.5 -52.6 76 -46.9 77.8 -41.3 79.8 -35.8 82 -30.3 84.4 -25 87.1 -19.7 89.9 -14.6 93 -9.6 96.2 -4.7 99.6 0.1 103.3 4.7 107.1 9.2 111.1 13.5 115.2 17.7 119.5 21.7 124 25.5 128.6 29.1 133.4 32.6 138.3 35.8 143.3 38.9 148.5 41.8 153.7 44.4 159.1 46.8 164.5 49.1 170 51.1 175.6 52.8 181.3 54.4 187 55.7 192.8 56.8 198.6 57.7 204.5 58.3 210.3 58.7 216.2 58.9 222.1 58.8 228 58.5 233.8 57.9 239.7 57.2 245.4 56.2 251.2 54.9 256.9 53.5 262.5 51.8 268.1 49.9" fill="none" stroke="rgb(232,232,232)" stroke-width="1.19"/>
<path d="M-65.3 -16.5 -60.7 -12.9 -55.9 -9.3 -51.1 -5.9 -46.2 -2.6 -41.2 0.5 -36.1 3.6 -31 6.5 -25.8 9.3 -20.5 12 -15.2 14.6 -9.8 17 -4.3 19.3 1.2 21.4 6.8 23.4 12.4 25.3 18 27.1 23.7 28.7 29.5 30.2 35.2 31.5 41 32.7 46.8 33.7 52.7 34.7 58.6 35.4 64.4 36 70.3 36.5 76.2 36.9" fill="none" stroke="rgb(218,218,218)" stroke-width="1.10"/>
<path d="M93.6 -43.1 93.7 -37.1 93.4 -31.1 92.6 -25.2 91.4 -19.4 89.7 -13.6 87.6 -8.1 85.1 -2.7 82.1 2.5 78.7 7.5 75 12.2 70.9 16.5 66.6 20.6 61.9 24.3 56.9 27.6 51.7 30.5 46.2 33 40.7 35.1 34.9 36.7 29.1 37.9 23.1 38.7 17.2 38.9 11.2 38.7 5.2 38.1 -0.6 37 -6.4 35.4 -12 33.4" fill="none" stroke="rgb(228,228,228)" stroke-width="1.04"/>
<path d="M158.1 26.2 162.7 29.9 167.2 33.9 171.3 38.1 175.2 42.6 178.8 47.3 182.1 52.3 185.1 57.4 187.8 62.7 190.2 68.2 192.2 73.8 193.8 79.5 195.1 85.3 196.1 91.1 196.6 97.1 196.8 103 196.7 108.9 196.1 114.9 195.3 120.7 194 126.6 192.4 132.3 190.4 137.9 188.1 143.4 185.5 148.7 182.5 153.9 179.3 158.8 175.7 163.6 171.8 168.1 167.7 172.4 163.3 176.4 158.7 180.1 153.8 183.6" fill="none" stroke="rgb(226,226,226)" stroke-width="1.16"/>
<path d="M253.5 10.3 248.7 13.9 243.8 17.3 238.8 20.7 233.8 23.9 228.7 27 223.5 30 218.2 32.9 212.9 35.6 207.5 38.3 202.1 40.8 196.6 43.1 191.1 45.4 185.5 47.5 179.8 49.5 174.1 51.4 168.4 53.2 162.6 54.8 156.8 56.3 151 57.6 145.2 58.8 139.3 59.9 133.4 60.9 127.4 61.7 121.5 62.4 115.5 62.9 109.5 63.3 103.6 63.6 97.6 63.7 91.6 63.7 85.6 63.6 79.6 63.3 73.7 62.9 67.7 62.4 61.8 61.7 55.8 60.9 49.9 59.9 44 58.9 38.2 57.7 32.3 56.3 26.5 54.8 20.8 53.2" fill="none" stroke="rgb(240,240,240)" stroke-width="1.17"/>
<path d="M191.8 5.1 186.7 8.2 181.6 11.1 176.3 13.9 171 16.6 165.7 19.2 160.3 21.6 154.8 24 149.3 26.2 143.7 28.3 138.1 30.2 132.5 32 126.8 33.8 121 35.3 115.3 36.8 109.5 38.1 103.7 39.3 97.8 40.4 92 41.3 86.1 42.1 80.2 42.8 74.2 43.3 68.3 43.7 62.4 44 56.4 44.1 50.5 44.1 44.6 44 38.6 43.7 32.7 43.3 26.8 42.8 20.9 42.2 15 41.4 9.1 40.4 3.3 39.4 -2.5 38.2 -8.3 36.9 -14.1 35.4 -19.8 33.9" fill="none" stroke="rgb(228,228,228)" stroke-width="1.18"/>
<path d="M178.5 62.4 179.4 68.2 180 74 180.6 79.9 181 85.7 181.2 91.6 181.3 97.5 181.3 103.3 181.2 109.2 180.9 115.1 180.4 120.9 179.9 126.8 179.1 132.6 178.3 138.4 177.3 144.2 176.2 149.9 174.9 155.7 173.5 161.4 172 167 170.3 172.7 168.5 178.2" fill="none" stroke="rgb(230,230,230)" stroke-width="1.16"/>
<path d="M202.9 -24 200.3 -18.6 197.8 -13.1 195.5 -7.6 193.4 -2 191.3 3.6 189.5 9.3 187.8 15.1 186.2 20.9 184.8 26.7 183.5 32.6 182.4 38.5 181.5 44.4 180.7 50.3 180.1 56.3 179.6 62.3 179.3 68.3 179.1 74.2 179.1 80.2 179.3 86.2 179.6 92.2 180.1 98.2 180.7 104.2 181.5 110.1 182.4 116 183.5 121.9 184.7 127.8 186.1 133.6 187.7 139.4 189.4 145.2 191.3 150.9 193.3 156.5 195.4 162.1 197.7 167.6 200.2 173.1 202.7 178.5 205.5 183.9 208.3 189.1 211.3 194.3 214.5 199.4 217.8 204.5 221.2 209.4 224.7 214.2 228.3 219 232.1 223.7 236 228.2 240 232.7 244.2 237" fill="none" stroke="rgb(225,225,225)" stroke-width="0.97"/>
<path d="M327 136.2 322.3 132.6 317.5 129.2 312.5 125.8 307.5 122.7 302.4 119.6 297.2 116.8 291.9 114 286.6 111.5 281.2 109 275.7 106.8 270.1 104.6 264.5 102.7 258.9 100.9 253.2 99.3 247.4 97.8 241.6 96.5 235.8 95.3 229.9 94.4 224 93.5 218.1 92.9 212.2 92.4 206.3 92.1 200.4 92 194.4 92 188.5 92.2 182.5 92.6 176.6 93.1 170.7 93.8 164.9 94.7 159 95.7 153.2 96.9 147.4 98.3 141.7 99.8 136 101.5 130.3 103.3 124.8 105.3 119.2 107.5 113.8 109.8 108.4 112.3 103 115 97.8 117.7 92.6 120.7 87.5 123.7 82.5 127 77.7 130.3 72.8 133.8 68.1 137.4 63.6 141.2 59.1 145.1 54.7 149.1 50.4 153.3 46.3 157.5 42.3 161.9 38.4 166.4 34.6 171 31 175.7 27.5 180.5 24.1 185.4 20.9 190.4 17.8 195.4 14.9 200.6 12.1 205.9 9.5 211.2 7 216.6 4.7 222 2.5 227.6 0.5 233.2" fill="none" stroke="rgb(232,232,232)" stroke-width="1.01"/>
<path d="M-44.3 -127.2 -42.4 -121.5 -40.3 -115.9 -38.1 -110.3 -35.8 -104.8 -33.3 -99.3 -30.7 -93.9 -28 -88.6 -25.1 -83.3 -22.2 -78.1 -19.1 -72.9 -15.9 -67.9 -12.5 -62.9 -9.1 -57.9 -5.6 -53.1 -1.9 -48.4 1.9 -43.7 5.8 -39.2 9.8 -34.7 13.9 -30.3 18.1 -26 22.4 -21.8 26.8 -17.8 31.3 -13.8 35.8 -9.9 40.5 -6.2 45.3 -2.5 50.1 1 55 4.5 60.1 7.8 65.1 10.9 70.3 14 75.5 17 80.8 19.8 86.2 22.5 91.6 25 97.1 27.5 102.6 29.8 108.2 32 113.8 34 119.5 35.9 125.2 37.7 131 39.4 136.8 40.9 142.6 42.3 148.5 43.5 154.4 44.6 160.3 45.6 166.3 46.4 172.2 47.1 178.2 47.6 184.2 48 190.2 48.3 196.2 48.4 202.2 48.4 208.2 48.2 214.1 47.9 220.1 47.4 226.1 46.9 232 46.1" fill="none" stroke="rgb(223,223,223)" stroke-width="0.83"/>
<path d="M-14.8 1.5 -8.9 1.7 -3 2.1 3 2.7 8.9 3.4 14.7 4.2 20.6 5.2 26.4 6.4 32.2 7.7 38 9.2 43.7 10.9 49.4 12.6 55 14.6 60.6 16.7 66.1 18.9 71.5 21.3 76.9 23.8 82.2 26.5 87.4 29.3 92.6 32.2 97.7 35.3 102.7 38.5" fill="none" stroke="rgb(252,252,252)" stroke-width="1.02"/>
<path d="M-38 41.1 -34 45.3 -30 49.4 -25.8 53.4 -21.5 57.3 -17.2 61.1 -12.8 64.9 -8.3 68.5 -3.7 72.1 0.9 75.6 5.6 78.9 10.4 82.2 15.2 85.4 20.1 88.4 25.1 91.4 30.1 94.2 35.2 97 40.3 99.7 45.5 102.2 50.8 104.6 56.1 107 61.4 109.2 66.8 111.3" fill="none" stroke="rgb(243,243,243)" stroke-width="0.88"/>
<path d="M6.4 99.8 12.1 97.8 17.8 96.1 23.6 94.6 29.5 93.4 35.4 92.5 41.4 91.8 47.3 91.5 53.3 91.4 59.3 91.6 65.3 92 71.2 92.8 77.1 93.8 83 95.1 88.8 96.6 94.5 98.4 100.1 100.5 105.6 102.9 111 105.5 116.3 108.3 121.4 111.4 126.4 114.7 131.2 118.3 135.9 122 140.3 126 144.6 130.2 148.7 134.6 152.6 139.1 156.2 143.9 159.7 148.8 162.9 153.8 165.9 159.1 168.6 164.4 171.1 169.8 173.3 175.4 175.2 181.1 176.9 186.8 178.4 192.6" fill="none" stroke="rgb(250,250,250)" stroke-width="0.92"/>
<path d="M159.6 -2.8 154.8 0.6 150.3 4.4 146.1 8.6 142.2 13 138.7 17.7 135.5 22.7 132.8 27.9 130.4 33.4 128.5 38.9 127 44.6 126 50.5 125.4 56.3 125.3 62.2 125.6 68.1 126.4 74 127.6 79.7 129.3 85.4 131.4 90.9 133.9 96.2 136.8 101.4 140.1 106.2 143.8 110.9 147.8 115.2 152.1 119.2 156.8 122.8 161.7 126.1 166.8 129 172.2 131.5 177.7 133.5 183.4 135.2 189.1 136.4 195 137.1 200.9 137.4 206.8 137.2 212.6 136.6 218.4 135.6 224.1 134.1" fill="none" stroke="rgb(244,244,244)" stroke-width="1.10"/>
<path d="M-14.2 8.1 -10.5 12.6 -6.8 17.3 -3.3 22 0.1 26.9 3.4 31.8 6.5 36.8 9.6 41.9 12.4 47.1 15.2 52.3 17.8 57.6 20.3 63 22.6 68.4 24.8 73.9 26.8 79.5 28.8 85.1 30.5 90.7 32.1 96.4 33.6 102.1 34.9 107.9 36.1 113.7 37.1 119.5 37.9 125.4 38.6 131.3 39.2 137.2 39.6 143.1 39.8 149 39.9 154.9 39.9 160.8 39.7 166.7 39.3 172.6 38.8 178.5 38.1 184.4 37.3 190.3 36.3 196.1 35.2 201.9 33.9 207.7 32.5 213.4 30.9 219.1 29.2 224.8 27.3 230.4 25.3 236" fill="none" stroke="rgb(233,233,233)" stroke-width="1.03"/>
<path d="M102.1 7.8 96.4 6.5 90.7 5.3 85 4.3 79.2 3.3 73.5 2.5 67.7 1.8 61.9 1.2 56.1 0.7 50.3 0.4 44.5 0.2 38.6 0.1 32.8 0.1 27 0.3 21.2 0.5 15.3 0.9 9.5 1.5 3.8 2.1 -2 2.9 -7.8 3.8 -13.5 4.8 -19.2 5.9 -24.9 7.2 -30.6 8.5 -36.2 10 -41.8 11.6" fill="none" stroke="rgb(255,255,255)" stroke-width="0.95"/>
<path d="M-28.3 54.3 -24.1 58.1 -19.9 62.1 -16 66.2 -12.1 70.5 -8.4 74.8 -4.8 79.3 -1.3 83.9 2 88.5 5.2 93.3 8.2 98.2 11.1 103.1 13.8 108.2 16.4 113.3 18.8 118.5 21 123.8 23.1 129.1 25.1 134.5 26.8 139.9 28.4 145.4 29.9 151 31.1 156.6 32.2 162.2" fill="none" stroke="rgb(227,227,227)" stroke-width="0.88"/>
<path d="M250.1 0.6 245.2 3.9 240.3 7.1 235.2 10.1 230.1 13 225 15.7 219.7 18.4 214.4 20.9 209 23.2 203.6 25.5 198.1 27.5 192.6 29.5 187 31.3 181.4 32.9 175.7 34.5 170 35.8 164.3 37.1 158.5 38.1 152.7 39.1 146.9 39.9 141.1 40.5 135.2 41 129.4 41.3 123.5 41.5 117.6 41.6 111.8 41.5 105.9 41.2 100 40.8 94.2 40.3 88.4 39.6 82.6 38.7 76.8 37.7 71 36.6 65.3 35.3 59.6 33.9" fill="none" stroke="rgb(239,239,239)" stroke-width="0.84"/>
<path d="M220.6 -25.7 214.6 -26.4 208.7 -26.7 202.7 -26.7 196.8 -26.3 190.9 -25.5 185 -24.3 179.3 -22.8 173.6 -20.9 168.1 -18.6 162.7 -16.1 157.5 -13.2 152.5 -9.9 147.7 -6.4 143.1 -2.5 138.8 1.6 134.7 5.9 131 10.6 127.5 15.4 124.3 20.5 121.5 25.7 119 31.1 116.9 36.7 115.1 42.4 113.6 48.2 112.5 54 111.8 60 111.5 65.9 111.5 71.9 112 77.8 112.7 83.7 113.9 89.6 115.4 95.3 117.3 101 119.5 106.5 122.1 111.9 125 117.1 128.3 122.1" fill="none" stroke="rgb(244,244,244)" stroke-width="1.04"/>
<path d="M-61 -48.9 -60.7 -43 -60.1 -37.1 -59.4 -31.3 -58.5 -25.4 -57.3 -19.6 -55.9 -13.9 -54.3 -8.2 -52.5 -2.6 -50.4 3 -48.2 8.5 -45.8 13.9 -43.2 19.2 -40.3 24.4 -37.3 29.5 -34.1 34.4 -30.7 39.3 -27.1 44 -23.4 48.6 -19.5 53 -15.4 57.3 -11.2 61.4 -6.8 65.4 -2.3 69.2 2.4 72.9 7.2 76.3 12.1 79.6 17.2 82.7 22.3 85.6 27.6 88.3 33 90.8 38.4 93.1 43.9 95.2 49.6 97.1 55.2 98.8 61 100.2 66.7 101.5 72.6 102.5 78.4 103.4 84.3 104 90.2 104.3 96.1 104.5 102.1 104.4 108 104.1 113.9 103.6 119.7 102.9 125.6 102 131.4 100.8 137.1 99.4 142.8 97.8 148.5 96 154 94 159.5 91.8 164.9 89.4 170.2 86.8 175.4 84 180.5 80.9" fill="none" stroke="rgb(236,236,236)" stroke-width="1.17"/>
<path d="M96.1 -9.8 91.5 -6 87 -2 82.6 2.1 78.3 6.2 74.1 10.5 69.9 14.8 65.9 19.3 62 23.9 58.2 28.5 54.5 33.2 51 38 47.5 42.9 44.2 47.9 40.9 53 37.8 58.1 34.9 63.3 32 68.5 29.3 73.9 26.6 79.3 24.2 84.7 21.8 90.2 19.6 95.8 17.5 101.4 15.5 107.1 13.7 112.8 12 118.5 10.4 124.3 9 130.2 7.7 136 6.6 141.9 5.6 147.8 4.7 153.7 4 159.7 3.4 165.6 2.9 171.6 2.6 177.6" fill="none" stroke="rgb(236,236,236)" stroke-width="1.17"/>
<path d="M167.9 -137.5 169.1 -131.7 170.2 -125.9 171.2 -120.1 172 -114.2 172.8 -108.3 173.4 -102.5 173.9 -96.6 174.3 -90.7 174.5 -84.8 174.7 -78.9 174.7 -73 174.6 -67.1 174.4 -61.1 174.1 -55.2 173.7 -49.3 173.1 -43.5 172.4 -37.6 171.6 -31.7 170.7 -25.9 169.7 -20.1 168.5 -14.3 167.3 -8.5 165.9 -2.8 164.4 3 162.8 8.6 161.1 14.3 159.2 19.9 157.3 25.5 155.2 31 153.1 36.5 150.8 42 148.4 47.4 145.9 52.8 143.3 58.1 140.6 63.3 137.8 68.5 134.9 73.7 131.9 78.8 128.8 83.8 125.5 88.7 122.2 93.6 118.8 98.5 115.3 103.2 111.7 107.9 108 112.5 104.2 117.1 100.3 121.5 96.4 125.9 92.3 130.2 88.2 134.4 84 138.6 79.7 142.6 75.3 146.6 70.8 150.5 66.3 154.2 61.7 157.9 57 161.5" fill="none" stroke="rgb(253,253,253)" stroke-width="1.01"/>
<path d="M54.1 75.4 59.6 73.1 65.2 71.3 71 69.9 76.8 69 82.7 68.5 88.7 68.5 94.6 68.9 100.4 69.8 106.2 71.2 111.8 73 117.3 75.2 122.6 77.8 127.7 80.8 132.6 84.3 137.1 88 141.4 92.2 145.3 96.6 148.8 101.3 152 106.3 154.8 111.6 157.2 117 159.2 122.6 160.7 128.3 161.7 134.1 162.4 140 162.5 145.9 162.2 151.9 161.5 157.7 160.3 163.5 158.6 169.2 156.5 174.8 154 180.1 151.1 185.3 147.8 190.2 144.1 194.8 140.1 199.2" fill="none" stroke="rgb(247,247,247)" stroke-width="0.93"/>
<path d="M139.2 -73.6 139.7 -67.7 140.1 -61.7 140.3 -55.7 140.3 -49.7 140.2 -43.7 140 -37.8 139.6 -31.8 139.1 -25.8 138.4 -19.9 137.6 -14 136.6 -8.1 135.5 -2.2 134.2 3.7 132.8 9.5 131.3 15.3 129.6 21 127.8 26.7 125.8 32.3 123.7 37.9 121.4 43.5 119 49 116.5 54.4 113.9 59.7 111.1 65 108.2 70.3 105.1 75.4 101.9 80.5 98.6 85.5 95.2 90.4 91.7 95.2 88 99.9 84.2 104.6 80.4 109.1 76.4 113.6 72.2 117.9 68 122.2 63.7 126.3 59.3 130.3 54.8 134.2 50.2 138.1 45.4 141.7 40.7 145.3 35.8 148.8 30.8 152.1 25.8 155.3 20.6 158.4 15.4 161.4 10.1 164.2 4.8 166.9 -0.6 169.4 -6.1 171.9 -11.6 174.1 -17.2 176.3 -22.8 178.3 -28.5 180.2 -34.2 181.9 -40 183.5 -45.8 185 -51.6 186.3 -57.5 187.4 -63.4 188.4 -69.3 189.3" fill="none" stroke="rgb(250,250,250)" stroke-width="0.89"/>
<path d="M251.8 -89.2 248.2 -84.5 244.7 -79.7 241.3 -74.9 238 -69.9 234.7 -65 231.6 -59.9 228.6 -54.8 225.7 -49.6 222.9 -44.4 220.2 -39.1 217.6 -33.8 215.1 -28.4 212.8 -23 210.5 -17.5 208.3 -12 206.3 -6.5 204.4 -0.9 202.5 4.8 200.8 10.5 199.2 16.2 197.7 21.9 196.4 27.7 195.1 33.5 194 39.3 193 45.1 192.1 51 191.3 56.8 190.6 62.7 190.1 68.6 189.6 74.5 189.3 80.5 189.1 86.4 189 92.3 189.1 98.2 189.2 104.2 189.5 110.1 189.9 116 190.4 121.9 191 127.8 191.8 133.7 192.7 139.5 193.6 145.4 194.7 151.2" fill="none" stroke="rgb(227,227,227)" stroke-width="1.03"/>
<path d="M169.1 114.2 163.9 111.3 158.6 108.8 153.1 106.5 147.5 104.5 141.8 102.9 136 101.5 130.2 100.4 124.3 99.7 118.4 99.3 112.4 99.2 106.5 99.4 100.6 99.9 94.7 100.7 88.9 101.9 83.2 103.3 77.5 105.1 71.9 107.1 66.5 109.5 61.2 112.1 56 115.1 51 118.3 46.2 121.7 41.5 125.4 37.1 129.4 32.9 133.6 28.9 138 25.2 142.6 21.7 147.4 18.5 152.3 15.5 157.5 12.8 162.8 10.4 168.2 8.3 173.7 6.5 179.4 5 185.1 3.9 191 3 196.8 2.4 202.7 2.2 208.7 2.2 214.6 2.6 220.5 3.3 226.4 4.3 232.2 5.7 238 7.3 243.7 9.2 249.3" fill="none" stroke="rgb(236,236,236)" stroke-width="0.93"/>
<path d="M177.3 -71.3 172.9 -67.3 168.7 -63.2 164.5 -59 160.6 -54.6 156.8 -50.1 153.2 -45.4 149.7 -40.7 146.4 -35.8 143.3 -30.7 140.4 -25.6 137.6 -20.4 135.1 -15 132.7 -9.6 130.6 -4.1 128.6 1.5 126.9 7.1 125.4 12.8 124 18.6 122.9 24.3 122 30.2 121.3 36 120.8 41.9 120.5 47.8 120.5 53.7 120.6 59.6 121 65.5 121.5 71.4 122.3 77.3 123.3 83.1 124.5 88.9 126 94.6 127.6 100.3 129.4 105.9 131.5 111.4 133.7 116.9 136.1 122.3 138.7 127.6 141.6 132.8 144.6 137.9 147.7 142.8 151.1 147.7 154.6 152.4 158.3 157 162.2 161.5 166.2 165.8 170.4 170 174.7 174 179.2 177.9 183.8 181.6 188.6 185.1 193.4 188.4 198.4 191.6 203.5 194.6 208.7 197.4" fill="none" stroke="rgb(230,230,230)" stroke-width="1.16"/>
<path d="M-17.5 -18.4 -11.5 -18.2 -5.6 -17.6 0.4 -16.6 6.2 -15.3 11.9 -13.5 17.5 -11.4 23 -8.9 28.3 -6.1 33.4 -2.9 38.2 0.6 42.9 4.4 47.2 8.5 51.3 12.9 55.2 17.5 58.7 22.3 61.8 27.4 64.7 32.7 67.2 38.2 69.3 43.8 71.1 49.5 72.4 55.3 73.4 61.2 74.1 67.2 74.3 73.2 74.1 79.2 73.6 85.1 72.6 91.1 71.3 96.9 69.6 102.7 67.6 108.3 65.1 113.8 62.3 119.1 59.2 124.2 55.8 129.1 52 133.8 48 138.2 43.6 142.3 39 146.2 34.2 149.7 29.2 152.9 23.9 155.8 18.5 158.4 12.9 160.5 7.2 162.4 1.4 163.8 -4.5 164.9 -10.5 165.5 -16.5 165.8 -22.5 165.7 -28.4 165.2 -34.4 164.3 -40.2 163.1 -46 161.4 -51.6 159.4" fill="none" stroke="rgb(236,236,236)" stroke-width="1.04"/>
<path d="M-78.7 -6.5 -73.1 -8.3 -67.4 -9.7 -61.6 -10.9 -55.7 -11.7 -49.8 -12.2 -43.9 -12.4 -38 -12.3 -32.1 -11.8 -26.2 -11.1 -20.4 -10 -14.7 -8.6 -9 -6.9 -3.4 -4.9 2 -2.7 7.4 -0.1 12.5 2.8 17.6 5.9 22.4 9.3 27.1 13 31.5 16.8 35.7 21 39.7 25.3 43.5 29.9 47 34.6 50.3 39.6 53.3 44.7 56 49.9 58.4 55.3 60.6 60.8 62.4 66.5 63.9 72.2 65.1 78 66 83.8 66.6 89.7 66.9 95.6 66.9 101.5 66.5 107.4 65.9 113.3 64.9 119.1 63.6 124.9 62 130.6 60.1 136.2 57.9 141.7 55.4 147 52.6 152.2 49.5 157.3" fill="none" stroke="rgb(225,225,225)" stroke-width="0.87"/>
<path d="M11.8 -3.2 15.7 1.2 19.7 5.6 23.7 9.9 27.9 14.1 32.2 18.2 36.6 22.2 41 26.1 45.6 29.9 50.3 33.5 55 37.1 59.8 40.5 64.7 43.8 69.7 47 74.8 50.1 79.9 53.1 85.1 55.9 90.4 58.6 95.7 61.2 101.1 63.6 106.5 65.9 112 68.1 117.6 70.2 123.2 72.1 128.8 73.9 134.5 75.5 140.3 77 146 78.4 151.8 79.6 157.6 80.7 163.5 81.7 169.3 82.5 175.2 83.1 181.1 83.6 187 84 193 84.3 198.9 84.4 204.8 84.3 210.7 84.1 216.6 83.8 222.5 83.3 228.4 82.7 234.3 81.9 240.1 81 246 80 251.8 78.8 257.5 77.5 263.3 76 269 74.5 274.6 72.7 280.3 70.9 285.8 68.8 291.4 66.7 296.8 64.4 302.2 62 307.6 59.5 312.9 56.8 318.1 54.1 323.3 51.1 328.4 48.1 333.4 45 338.3 41.7 343.1 38.3 347.9 34.8 352.6 31.2" fill="none" stroke="rgb(223,223,223)" stroke-width="0.92"/>
<path d="M224.3 -56.6 220 -52.6 215.8 -48.5 212 -44 208.4 -39.3 205.2 -34.4 202.3 -29.3 199.8 -24 197.6 -18.5 195.7 -12.9 194.3 -7.2 193.2 -1.4 192.5 4.4 192.2 10.3 192.2 16.2 192.7 22 193.5 27.9 194.7 33.6 196.3 39.3 198.3 44.8 200.6 50.2 203.2 55.5 206.2 60.5 209.6 65.4 213.2 70 217.2 74.4 221.4 78.5 225.8 82.3 230.6 85.8 235.5 89 240.6 91.9 245.9 94.4 251.4 96.6 257 98.4 262.7 99.8 268.5 100.9 274.3 101.6 280.2 101.9 286.1 101.8" fill="none" stroke="rgb(217,217,217)" stroke-width="0.86"/>
<path d="M14.8 -57 14.1 -51.1 13.8 -45.2 13.7 -39.4 13.9 -33.5 14.4 -27.6 15.2 -21.8 16.3 -16 17.7 -10.3 19.4 -4.7 21.3 0.8 23.6 6.3 26.1 11.6 28.9 16.8 31.9 21.8 35.2 26.7 38.7 31.4 42.5 35.9 46.5 40.2 50.7 44.3 55.1 48.2 59.7 51.9 64.5 55.3 69.4 58.5 74.5 61.4 79.8 64 85.1 66.4 90.6 68.5 96.2 70.4 101.9 71.9 107.6 73.2 113.4 74.2 119.2 74.8 125.1 75.2 131 75.3 136.9 75.1 142.7 74.5 148.5 73.7 154.3 72.6 160 71.2 165.7 69.5 171.2 67.6 176.6 65.3 181.9 62.8 187.1 60 192.1 57 197 53.7" fill="none" stroke="rgb(236,236,236)" stroke-width="0.82"/>
<path d="M285.8 -97.6 283.3 -92.2 280.7 -86.8 278 -81.5 275.2 -76.2 272.2 -71 269.2 -65.9 266.1 -60.9 262.8 -55.8 259.5 -50.9 256.1 -46 252.5 -41.3 248.9 -36.5 245.2 -31.9 241.3 -27.3 237.4 -22.8 233.4 -18.4 229.3 -14.1 225.1 -9.9 220.8 -5.7 216.5 -1.7 212 2.3 207.5 6.2 202.9 10 198.2 13.6 193.5 17.2 188.6 20.7 183.7 24.1 178.8 27.4 173.7 30.6 168.6 33.7 163.5 36.7 158.3 39.5 153 42.3 147.7 45 142.3 47.5 136.8 49.9 131.3 52.3 125.8 54.5 120.2 56.6 114.6 58.5 109 60.4 103.3 62.2 97.5 63.8 91.8 65.3 86 66.7 80.2 68 74.3 69.1" fill="none" stroke="rgb(245,245,245)" stroke-width="0.94"/>
<path d="M73.2 -73.6 75 -67.9 76.6 -62.1 78.1 -56.3 79.5 -50.5 80.6 -44.6 81.7 -38.7 82.6 -32.8 83.3 -26.8 83.9 -20.9 84.3 -14.9 84.6 -8.9 84.8 -2.9 84.8 3.1 84.6 9.1 84.3 15.1 83.8 21 83.2 27 82.4 32.9 81.5 38.9 80.5 44.8 79.3 50.6 77.9 56.5 76.4 62.3 74.7 68 72.9 73.8 71 79.4 68.9 85 66.7 90.6 64.3 96.1 61.8 101.6 59.2 106.9 56.4 112.3 53.5 117.5 50.5 122.7 47.3 127.8 44 132.8 40.6 137.7 37.1 142.5 33.4 147.3 29.6 151.9 25.8 156.5" fill="none" stroke="rgb(244,244,244)" stroke-width="1.14"/>
<path d="M184.8 -55.5 183.3 -49.7 182 -43.8 180.8 -38 179.7 -32.1 178.7 -26.2 177.9 -20.2 177.2 -14.3 176.6 -8.3 176.2 -2.3 175.8 3.7 175.7 9.7 175.6 15.7 175.7 21.6 175.9 27.6 176.2 33.6 176.7 39.6 177.3 45.6 178 51.5 178.8 57.5 179.8 63.4 180.9 69.3 182.2 75.1 183.5 81 185 86.8 186.6 92.5 188.4 98.3 190.2 104 192.2 109.6 194.3 115.3 196.6 120.8 198.9 126.3 201.4 131.8 204 137.2 206.7 142.6 209.5 147.8 212.4 153.1 215.5 158.2 218.6 163.3 221.9 168.4 225.3 173.3 228.7 178.2 232.3 183 236 187.7" fill="none" stroke="rgb(248,248,248)" stroke-width="1.01"/>
<path d="M188.4 -48.9 185.6 -43.7 182.6 -38.5 179.5 -33.4 176.3 -28.4 173 -23.4 169.5 -18.6 165.9 -13.8 162.2 -9.1 158.3 -4.6 154.4 -0.1 150.3 4.3 146.1 8.5 141.8 12.7 137.4 16.7 132.9 20.6 128.3 24.4 123.6 28.1 118.8 31.7 114 35.1 109 38.4 104 41.6 98.8 44.7 93.6 47.6 88.3 50.4 83 53 77.6 55.5 72.1 57.9 66.6 60.1 61 62.2 55.3 64.1 49.6 65.9 43.9 67.5 38.1 69 32.3 70.4 26.4 71.6 20.6 72.6 14.7 73.5 8.7 74.2 2.8 74.8 -3.2 75.2 -9.1 75.5 -15.1 75.6 -21.1 75.6 -27 75.4 -33 75.1 -38.9 74.6 -44.9 73.9 -50.8 73.1 -56.7 72.2 -62.5 71.1 -68.4 69.8 -74.2 68.4 -79.9 66.9 -85.7 65.2 -91.3 63.3 -97 61.3 -102.5 59.2 -108 56.9 -113.5 54.5 -118.9 51.9 -124.2 49.2 -129.5 46.4" fill="none" stroke="rgb(239,239,239)" stroke-width="1.04"/>
<path d="M340.5 46.1 334.7 44.4 328.9 43 323 41.9 317 41.2 311.1 40.8 305.1 40.7 299.1 40.9 293.1 41.4 287.2 42.3 281.3 43.5 275.6 45 269.8 46.8 264.2 48.9 258.8 51.3 253.4 54 248.2 57 243.2 60.3 238.4 63.8 233.7 67.6 229.3 71.6 225.1 75.9 221.1 80.4 217.4 85.1 213.9 90 210.7 95 207.8 100.2 205.2 105.6 202.9 111.1 200.8 116.8 199.1 122.5 197.7 128.3 196.6 134.2 195.8 140.1 195.3 146.1 195.2 152.1 195.3 158.1 195.8 164 196.7 170 197.8 175.8 199.3 181.7 201 187.4 203.1 193 205.5 198.5 208.1 203.9 211.1 209.1 214.3 214.1 217.8 219 221.6 223.6 225.5 228.1 229.8 232.3 234.2 236.3 238.9 240.1 243.8 243.6 248.8 246.8 254 249.8 259.4 252.5 264.9 254.8 270.5 256.9 276.2 258.7" fill="none" stroke="rgb(230,230,230)" stroke-width="1.00"/>
<path d="M253.7 -10.4 247.8 -9.4 242 -8.2 236.3 -6.7 230.5 -5.1 224.9 -3.4 219.3 -1.4 213.7 0.7 208.2 3.1 202.9 5.5 197.5 8.2 192.3 11 187.2 14 182.1 17.2 177.2 20.5 172.4 24 167.7 27.6 163.1 31.3 158.6 35.3 154.3 39.3 150.1 43.5 146 47.8 142.1 52.3 138.3 56.9 134.6 61.5 131.1 66.4 127.8 71.3 124.6 76.3 121.6 81.4 118.8 86.6 116.1 91.9 113.6 97.3 111.2 102.8 109 108.3 107.1 113.9 105.3 119.5 103.6 125.3 102.2 131 100.9 136.8 99.8 142.7 99 148.5 98.3 154.4 97.8 160.4 97.4 166.3 97.3 172.2 97.4 178.2 97.6 184.1 98 190 98.7 195.9 99.5 201.8 100.5 207.7" fill="none" stroke="rgb(230,230,230)" stroke-width="1.15"/>
<path d="M235.2 -53 231.1 -48.6 226.9 -44.4 222.7 -40.2 218.3 -36.1 213.9 -32.2 209.3 -28.3 204.7 -24.6 200 -20.9 195.2 -17.3 190.4 -13.9 185.4 -10.6 180.4 -7.3 175.3 -4.2 170.2 -1.2 165 1.6 159.7 4.4 154.3 7 148.9 9.6 143.5 12 138 14.2 132.4 16.4 126.8 18.4 121.2 20.3 115.5 22.1 109.8 23.8 104 25.3 98.2 26.7 92.4 28 86.5 29.1 80.7 30.1 74.8 31 68.9 31.7 62.9 32.3 57 32.8 51 33.1 45.1 33.3 39.1 33.4 33.2 33.4" fill="none" stroke="rgb(225,225,225)" stroke-width="0.89"/>
<path d="M83.9 34.4 78.2 34 72.4 33.8 66.6 33.8 60.8 34 55 34.4 49.3 34.9 43.5 35.6 37.8 36.6 32.1 37.6 26.5 38.9 20.9 40.4 15.3 42 9.8 43.9 4.4 45.8 -1 48 -6.3 50.4 -11.5 52.9 -16.6 55.5 -21.7 58.4 -26.6 61.4 -31.5 64.5 -36.2 67.9 -40.9 71.3 -45.4 74.9" fill="none" stroke="rgb(249,249,249)" stroke-width="1.03"/>
<path d="M180 84.9 174.5 87.3 169.2 90 164.1 92.9 159 96.1 154.2 99.5 149.4 103.1 144.9 106.9 140.5 110.9 136.3 115.1 132.3 119.5 128.5 124 124.9 128.8 121.5 133.7 118.4 138.7 115.5 143.9 112.8 149.2 110.4 154.6 108.2 160.1 106.2 165.7 104.6 171.4" fill="none" stroke="rgb(243,243,243)" stroke-width="1.13"/>
<path d="M248.6 -29.5 243.2 -27.3 237.8 -24.8 232.6 -22 227.5 -19 222.5 -15.8 217.8 -12.3 213.1 -8.7 208.7 -4.8 204.4 -0.7 200.3 3.6 196.5 8.1 192.8 12.7 189.4 17.6 186.2 22.5 183.2 27.6 180.5 32.9 178 38.2 175.8 43.7 173.8 49.3 172.1 55 170.7 60.7 169.5 66.5 168.6 72.3 168 78.2 167.7 84.1 167.6 90 167.8 95.9 168.3 101.8 169.1 107.7 170.1 113.5 171.4 119.3 173 125 174.8 130.6 176.9 136.1 179.2 141.5 181.8 146.9 184.7 152 187.8 157.1 191.1 162 194.6 166.7" fill="none" stroke="rgb(235,235,235)" stroke-width="0.92"/>
<path d="M108.9 30.5 103.3 32.6 97.7 34.6 92 36.4 86.3 38.1 80.6 39.7 74.8 41.2 69 42.5 63.2 43.7 57.3 44.8 51.4 45.8 45.5 46.6 39.6 47.3 33.7 47.8 27.7 48.2 21.8 48.5 15.8 48.7 9.9 48.7 3.9 48.6 -2 48.4 -8 48 -13.9 47.5 -19.8 46.9 -25.7 46.2 -31.6 45.3 -37.5 44.2 -43.3 43.1 -49.1 41.8" fill="none" stroke="rgb(218,218,218)" stroke-width="0.88"/>
<path d="M203 -73.8 199.5 -69.1 196.1 -64.2 192.8 -59.2 189.6 -54.2 186.7 -49 183.8 -43.8 181.1 -38.5 178.6 -33.1 176.2 -27.6 174 -22.1 171.9 -16.6 170 -10.9 168.3 -5.2 166.7 0.5 165.3 6.3 164 12.1 162.9 17.9 162 23.8 161.2 29.7 160.6 35.6 160.2 41.6 160 47.5 159.9 53.5 160 59.4 160.2 65.4 160.7 71.3 161.3 77.2 162 83.1 163 89 164.1 94.8 165.3 100.7 166.8 106.4 168.4 112.2 170.1 117.8 172.1 123.5 174.1 129 176.4 134.6 178.8 140 181.3 145.4 184 150.7 186.9 155.9 189.9 161 193 166.1 196.3 171.1 199.7 175.9 203.3 180.7 207 185.3 210.8 189.9 214.7 194.3 218.8 198.7 223 202.9 227.4 207" fill="none" stroke="rgb(250,250,250)" stroke-width="0.88"/>
<path d="M127.5 5.2 121.5 4.9 115.5 4.7 109.5 4.6 103.5 4.8 97.5 5.1 91.6 5.6 85.6 6.2 79.7 7 73.8 8 67.9 9.2 62 10.5 56.2 12 50.4 13.6 44.7 15.4 39.1 17.4 33.5 19.5 27.9 21.8 22.4 24.2 17 26.8 11.7 29.6 6.5 32.5 1.3 35.5 -3.8 38.7 -8.8 42 -13.7 45.5 -18.5 49.1 -23.1 52.8 -27.7 56.7 -32.2 60.7 -36.6 64.8 -40.8 69 -44.9 73.4" fill="none" stroke="rgb(235,235,235)" stroke-width="1.18"/>
<path d="M215.7 -110.2 213.7 -104.6 211.4 -99 209.1 -93.6 206.6 -88.2 204 -82.8 201.2 -77.6 198.3 -72.4 195.2 -67.2 192 -62.2 188.7 -57.3 185.2 -52.4 181.6 -47.7 177.9 -43 174.1 -38.4 170.1 -34 166.1 -29.6 161.9 -25.4 157.6 -21.2 153.2 -17.2 148.7 -13.3 144.1 -9.6 139.4 -5.9 134.6 -2.4 129.7 1 124.7 4.3 119.6 7.4 114.5 10.4 109.2 13.3 103.9 16 98.6 18.5 93.1 21 87.6 23.3 82.1 25.4 76.4 27.4 70.8 29.2 65.1 30.9 59.3 32.4 53.5 33.8 47.7 35.1 41.8 36.1 35.9 37 30 37.8 24.1 38.4 18.1 38.8 12.2 39.1 6.2 39.2 0.3 39.2 -5.7 39 -11.6 38.7 -17.6 38.2 -23.5 37.5 -29.4 36.7 -35.3 35.7 -41.1 34.6 -46.9 33.3 -52.7 31.8 -58.5 30.2 -64.1 28.5 -69.8 26.6 -75.4 24.5 -80.9 22.3 -86.4 20 -91.8 17.5 -97.2 14.9" fill="none" stroke="rgb(243,243,243)" stroke-width="0.97"/>
<path d="M13 -31.2 12.3 -25.3 11.8 -19.3 11.6 -13.3 11.7 -7.4 12.2 -1.4 12.9 4.5 14 10.3 15.3 16.2 16.9 21.9 18.8 27.5 21 33.1 23.5 38.5 26.3 43.8 29.3 48.9 32.5 53.9 36.1 58.7 39.8 63.4 43.8 67.8 48 72 52.5 76 57.1 79.8 61.9 83.3 66.9 86.6 72 89.6 77.3 92.4 82.7 94.8 88.3 97.1 93.9 99 99.6 100.6 105.4 101.9 111.3 103 117.2 103.7 123.2 104.2 129.1 104.3 135.1 104.1 141 103.7 147 102.9 152.8 101.8 158.6 100.5 164.4 98.8 170 96.9 175.5 94.6 180.9 92.1 186.2 89.3 191.3 86.3 196.3 83 201.1 79.4 205.7 75.6 210.1 71.6 214.3 67.4 218.2 62.9 222 58.3 225.5 53.5" fill="none" stroke="rgb(247,247,247)" stroke-width="1.07"/>
<path d="M215.1 -56.7 210.4 -53.2 205.9 -49.5 201.5 -45.7 197.2 -41.8 193 -37.8 188.9 -33.6 185 -29.4 181.2 -25 177.5 -20.5 173.9 -15.8 170.5 -11.1 167.3 -6.3 164.1 -1.4 161.1 3.6 158.3 8.7 155.6 13.8 153.1 19 150.7 24.4 148.5 29.7 146.4 35.2 144.5 40.7 142.8 46.2 141.2 51.8 139.8 57.5 138.6 63.2 137.5 68.9 136.6 74.6 135.9 80.4 135.3 86.2" fill="none" stroke="rgb(234,234,234)" stroke-width="1.16"/>
<path d="M55.8 1.9 60 5.9 64.4 9.9 68.9 13.6 73.5 17.2 78.2 20.7 83.1 23.9 88 27 93.1 30 98.3 32.7 103.5 35.2 108.9 37.6 114.3 39.8 119.8 41.8 125.4 43.6 131 45.1 136.7 46.5 142.4 47.7 148.2 48.7 154 49.5 159.8 50.1 165.7 50.4" fill="none" stroke="rgb(248,248,248)" stroke-width="0.83"/>
<path d="M79.5 -80.1 82.7 -75.2 85.7 -70.1 88.5 -65 91.1 -59.7 93.6 -54.4 95.8 -48.9 97.8 -43.4 99.6 -37.8 101.2 -32.2 102.6 -26.4 103.8 -20.7 104.7 -14.9 105.5 -9 106 -3.2 106.3 2.7 106.3 8.6 106.2 14.5 105.8 20.3 105.2 26.2 104.4 32 103.3 37.8 102.1 43.5 100.6 49.2 98.9 54.9 97 60.4 94.9 65.9 92.6 71.3 90.1 76.7 87.4 81.9 84.5 87 81.4 92 78.1 96.9 74.6 101.6 71 106.2 67.2 110.7 63.2 115 59 119.2 54.7 123.2 50.3 127.1 45.7 130.8 41 134.3 36.1 137.6 31.1 140.7 26.1 143.7 20.9 146.4 15.6 149" fill="none" stroke="rgb(225,225,225)" stroke-width="0.91"/>
<path d="M199.8 -99.2 194.2 -97 188.9 -94.4 183.7 -91.5 178.7 -88.3 173.8 -84.8 169.3 -81 164.9 -76.9 160.9 -72.6 157.1 -68 153.5 -63.2 150.3 -58.2 147.4 -53 144.9 -47.6 142.6 -42.1 140.7 -36.5 139.2 -30.7 138 -24.9 137.2 -19 136.8 -13 136.7 -7.1 136.9 -1.1 137.6 4.8 138.6 10.6 140 16.4 141.7 22.1 143.8 27.7 146.2 33.2 148.9 38.4 152 43.6 155.3 48.5 159 53.2 162.9 57.6 167.2 61.8 171.6 65.7 176.3 69.4 181.2 72.8 186.3 75.8 191.6 78.5 197.1 80.9 202.7 83 208.4 84.7 214.2 86.1 220 87.1 225.9 87.7 231.9 88 237.8 87.9 243.8 87.4 249.7 86.6 255.5 85.4 261.3 83.8 266.9 81.9 272.4 79.7 277.8 77.1 283 74.2 288 71 292.8 67.4 297.3 63.6 301.7 59.5 305.7 55.2 309.5 50.6 313 45.8 316.2 40.8" fill="none" stroke="rgb(217,217,217)" stroke-width="1.05"/>
<path d="M8 67.3 11.8 62.8 16.1 58.7 20.8 54.9 25.7 51.6 31 48.8 36.4 46.5 42.1 44.6 47.9 43.3 53.8 42.6 59.8 42.3 65.7 42.7 71.6 43.5 77.4 44.9 83.1 46.8 88.5 49.3 93.7 52.2 98.6 55.6 103.2 59.4 107.4 63.6 111.2 68.2" fill="none" stroke="rgb(238,238,238)" stroke-width="0.93"/>
<path d="M-7.5 -106.7 -8.5 -100.9 -9.3 -95 -9.9 -89.2 -10.3 -83.3 -10.6 -77.3 -10.7 -71.4 -10.6 -65.5 -10.3 -59.6 -9.9 -53.7 -9.3 -47.8 -8.5 -41.9 -7.5 -36.1 -6.4 -30.3 -5.1 -24.5 -3.6 -18.8 -2 -13.1 -0.2 -7.5 1.8 -1.9 4 3.6 6.3 9 8.8 14.4 11.4 19.7 14.2 24.9 17.1 30.1 20.2 35.1 23.5 40.1 26.9 44.9 30.4 49.6 34.1 54.3 37.9 58.8 41.8 63.2 45.9 67.5 50.1 71.7 54.4 75.7 58.9 79.6 63.4 83.4 68.1 87 72.9 90.5 77.8 93.9 82.7 97.1 87.8 100.2 92.9 103.1 98.2 105.8 103.5 108.4 108.9 110.8 114.4 113.1 119.9 115.2 125.5 117.2 131.1 118.9 136.8 120.5 142.6 122 148.3 123.2 154.2 124.3 160 125.2 165.9 126 171.8 126.5" fill="none" stroke="rgb(222,222,222)" stroke-width="1.04"/>
<path d="M148.6 88 143.2 85.7 137.5 83.6 131.8 81.8 126 80.3 120.2 79.2 114.2 78.3 108.3 77.7 102.3 77.5 96.3 77.5 90.4 77.9 84.4 78.6 78.5 79.6 72.7 80.9 66.9 82.5 61.2 84.4 55.7 86.6 50.2 89 44.9 91.8 39.8 94.8 34.8 98.1 29.9 101.7 25.3 105.5 20.9 109.5 16.7 113.7 12.7 118.2 9 122.9 5.5 127.7 2.3 132.8 -0.7 138 -3.4 143.3 -5.8 148.8 -8 154.4 -9.8 160.1 -11.3 165.8 -12.5 171.7 -13.5 177.6 -14.1 183.6 -14.4 189.5 -14.4 195.5 -14.1 201.5 -13.4 207.4 -12.5 213.4 -11.2 219.2 -9.7 225" fill="none" stroke="rgb(252,252,252)" stroke-width="1.04"/>
<path d="M270.1 116.5 266.1 112.1 261.9 107.9 257.6 103.8 253.3 99.8 248.7 95.9 244.1 92.2 239.4 88.6 234.5 85.2 229.6 82 224.5 78.8 219.4 75.9 214.1 73.1 208.8 70.4 203.4 68 198 65.7 192.4 63.5 186.8 61.6 181.2 59.8 175.5 58.2 169.7 56.7 163.9 55.5 158.1 54.4 152.2 53.5 146.4 52.7 140.4 52.2 134.5 51.8 128.6 51.6 122.7 51.6 116.7 51.8 110.8 52.2 104.9 52.7 99 53.5 93.2 54.4 87.3 55.5 81.5 56.7 75.8 58.2 70.1 59.8 64.4 61.6 58.8 63.6 53.3 65.7 47.8 68 42.4 70.5 37.1 73.1 31.9 75.9 26.7 78.9 21.7 82 16.7 85.2 11.9 88.7 7.2 92.2 2.5 95.9 -2 99.8 -6.4 103.8 -10.6 107.9 -14.8 112.2 -18.8 116.5 -22.7 121 -26.4 125.6 -30 130.4 -33.4 135.2 -36.7 140.1 -39.8 145.2" fill="none" stroke="rgb(226,226,226)" stroke-width="0.93"/>
<path d="M271.2 -119.7 270 -113.9 268.6 -108.1 267.1 -102.3 265.5 -96.6 263.7 -91 261.8 -85.3 259.7 -79.7 257.5 -74.2 255.1 -68.8 252.7 -63.4 250 -58 247.2 -52.8 244.3 -47.6 241.3 -42.5 238.1 -37.4 234.8 -32.5 231.4 -27.6 227.8 -22.8 224.2 -18.2 220.4 -13.6 216.5 -9.1 212.4 -4.7 208.3 -0.4 204.1 3.7 199.7 7.8 195.3 11.7 190.7 15.6 186.1 19.3 181.3 22.9 176.5 26.3 171.5 29.7 166.5 32.9 161.4 36 156.3 38.9 151 41.7 145.7 44.4 140.3 47 134.9 49.4 129.4 51.6 123.8 53.7 118.2 55.7 112.6 57.5 106.9 59.2 101.1 60.8 95.3 62.1 89.5 63.4 83.7 64.5 77.8 65.4 71.9 66.2 66 66.8 60 67.3 54.1 67.6 48.1 67.8 42.2 67.8 36.2 67.7 30.3 67.4 24.4 66.9 18.4 66.3 12.5 65.6 6.7 64.7" fill="none" stroke="rgb(216,216,216)" stroke-width="0.83"/>
<path d="M95.9 19.1 93.7 24.5 91.5 29.9 89.5 35.3 87.7 40.8 86 46.4 84.5 52 83.2 57.7 82 63.4 81 69.1 80.1 74.8 79.4 80.6 78.9 86.4 78.5 92.2 78.3 98 78.2 103.8 78.3 109.6 78.6 115.4 79 121.2 79.6 127 80.4 132.7" fill="none" stroke="rgb(242,242,242)" stroke-width="0.82"/>
<path d="M87 -29.4 89.5 -23.9 91.8 -18.5 94 -12.9 96 -7.4 97.9 -1.7 99.7 3.9 101.3 9.6 102.8 15.4 104.1 21.2 105.3 27 106.4 32.8 107.3 38.7 108.1 44.6 108.7 50.5 109.2 56.4 109.5 62.4 109.7 68.3 109.7 74.2 109.6 80.2 109.3 86.1 108.9 92 108.4 98 107.7 103.9 106.9 109.7 105.9 115.6 104.8 121.4 103.5 127.2 102.1 133 100.5 138.7 98.8 144.4 97 150.1 95 155.7 92.9 161.2 90.7 166.7 88.3 172.2 85.8 177.6 83.1 182.9 80.4 188.1 77.4 193.3 74.4 198.4 71.3 203.5 68 208.4" fill="none" stroke="rgb(247,247,247)" stroke-width="0.87"/><rect x="4.4" y="121" width="18.8" height="5.1" rx="1" fill="#fff" stroke="#5a6a90" stroke-width="0.8"/></svg>
<svg style="position:absolute;left:13px;top:139px" width="205" height="131" viewBox="0 0 205 131"><defs><filter id="blr" x="-5%" y="-5%" width="110%" height="110%"><feGaussianBlur stdDeviation="0.7"/></filter><filter id="blr2" x="-5%" y="-5%" width="110%" height="110%"><feGaussianBlur stdDeviation="0.35"/></filter></defs><rect width="205" height="131" fill="#0e0e0e"/>
<g filter="url(#blr2)">
<line x1="-11.9" y1="65.2" x2="70.4" y2="58.1" stroke="rgb(127,127,127)" stroke-width="1.2"/>
<line x1="-48.2" y1="105.7" x2="236.9" y2="68.6" stroke="rgb(109,109,109)" stroke-width="1.3"/>
<line x1="-115.1" y1="79.6" x2="181.6" y2="100.1" stroke="rgb(87,87,87)" stroke-width="1.3"/>
<line x1="-32.5" y1="7.8" x2="243" y2="32.5" stroke="rgb(167,167,167)" stroke-width="1.2"/>
<line x1="86.6" y1="113.5" x2="288.6" y2="120.9" stroke="rgb(91,91,91)" stroke-width="1.6"/>
<line x1="-28.3" y1="53.5" x2="210.3" y2="54.5" stroke="rgb(97,97,97)" stroke-width="1.3"/>
<line x1="78.7" y1="151.4" x2="284.4" y2="95" stroke="rgb(144,144,144)" stroke-width="1.5"/>
<line x1="-25.1" y1="61.9" x2="196.8" y2="39.1" stroke="rgb(141,141,141)" stroke-width="1.3"/>
<line x1="-95.1" y1="75.4" x2="173.8" y2="68" stroke="rgb(113,113,113)" stroke-width="1.1"/>
<line x1="20.7" y1="48.9" x2="262.3" y2="40.8" stroke="rgb(94,94,94)" stroke-width="1.1"/>
<line x1="95.6" y1="46.4" x2="218.1" y2="34.8" stroke="rgb(128,128,128)" stroke-width="1.5"/>
<line x1="40.1" y1="48.4" x2="172.7" y2="61.5" stroke="rgb(134,134,134)" stroke-width="0.9"/>
<line x1="-3.7" y1="27.6" x2="94.1" y2="14.1" stroke="rgb(115,115,115)" stroke-width="0.9"/>
<line x1="-45.2" y1="44.5" x2="186.3" y2="19.1" stroke="rgb(86,86,86)" stroke-width="1.3"/>
<line x1="0.5" y1="54.4" x2="285.3" y2="36.8" stroke="rgb(110,110,110)" stroke-width="1.6"/>
<line x1="106.2" y1="7.1" x2="272.8" y2="23.5" stroke="rgb(104,104,104)" stroke-width="1.4"/>
<line x1="54.2" y1="50.1" x2="321.1" y2="-3.7" stroke="rgb(102,102,102)" stroke-width="1.1"/>
<line x1="-104.7" y1="9.3" x2="121.1" y2="-26.7" stroke="rgb(126,126,126)" stroke-width="1.6"/>
<line x1="22.2" y1="53.3" x2="300.7" y2="78.8" stroke="rgb(161,161,161)" stroke-width="1.0"/>
<line x1="4.2" y1="107" x2="201.7" y2="109.8" stroke="rgb(125,125,125)" stroke-width="1.1"/>
<line x1="-84.9" y1="125.8" x2="204.3" y2="140" stroke="rgb(115,115,115)" stroke-width="1.1"/>
<line x1="37.9" y1="123.8" x2="224.6" y2="116.6" stroke="rgb(181,181,181)" stroke-width="1.0"/>
<line x1="86.5" y1="33.3" x2="198.1" y2="32.8" stroke="rgb(193,193,193)" stroke-width="1.1"/>
<line x1="-54.3" y1="-4.4" x2="136.5" y2="26.2" stroke="rgb(87,87,87)" stroke-width="1.3"/>
<line x1="68.2" y1="63.4" x2="243.5" y2="105.3" stroke="rgb(155,155,155)" stroke-width="1.0"/>
<line x1="-65.1" y1="64.9" x2="146.7" y2="37.4" stroke="rgb(127,127,127)" stroke-width="1.3"/>
<line x1="-11.7" y1="44.4" x2="75.4" y2="51.8" stroke="rgb(84,84,84)" stroke-width="1.5"/>
<line x1="-23.8" y1="109.3" x2="243.1" y2="145.7" stroke="rgb(128,128,128)" stroke-width="1.5"/>
<line x1="40.2" y1="93.4" x2="284.9" y2="101.1" stroke="rgb(142,142,142)" stroke-width="1.3"/>
<line x1="-14.2" y1="-0.7" x2="233.2" y2="18.4" stroke="rgb(130,130,130)" stroke-width="1.3"/>
<line x1="-54.2" y1="4.1" x2="190.5" y2="-2.4" stroke="rgb(172,172,172)" stroke-width="1.1"/>
<line x1="36.7" y1="91" x2="274.8" y2="99.1" stroke="rgb(135,135,135)" stroke-width="1.2"/>
<line x1="-82.5" y1="8" x2="156.1" y2="-19.1" stroke="rgb(123,123,123)" stroke-width="1.2"/>
<line x1="-47.1" y1="122.9" x2="86.8" y2="124.1" stroke="rgb(126,126,126)" stroke-width="1.2"/>
<line x1="48.3" y1="120.1" x2="163.4" y2="116.3" stroke="rgb(195,195,195)" stroke-width="1.4"/>
<line x1="-17.2" y1="23.7" x2="207.7" y2="5.4" stroke="rgb(187,187,187)" stroke-width="1.4"/>
<line x1="69.4" y1="58.8" x2="247.2" y2="60.1" stroke="rgb(169,169,169)" stroke-width="1.4"/>
<line x1="18.5" y1="53.6" x2="257.6" y2="45.8" stroke="rgb(93,93,93)" stroke-width="1.3"/>
<line x1="-33.4" y1="102.8" x2="165.6" y2="82.8" stroke="rgb(126,126,126)" stroke-width="1.3"/>
<line x1="-37" y1="-2.9" x2="232.6" y2="34.4" stroke="rgb(97,97,97)" stroke-width="1.1"/>
<line x1="80.1" y1="-6.2" x2="303.7" y2="0.1" stroke="rgb(129,129,129)" stroke-width="1.5"/>
<line x1="66.9" y1="113.9" x2="182.1" y2="104.5" stroke="rgb(113,113,113)" stroke-width="1.3"/>
<line x1="-28.4" y1="133.4" x2="197.5" y2="101" stroke="rgb(113,113,113)" stroke-width="1.1"/>
<line x1="-50.8" y1="123.7" x2="252.7" y2="88.4" stroke="rgb(184,184,184)" stroke-width="1.5"/>
<line x1="96.4" y1="13.3" x2="301.8" y2="17.9" stroke="rgb(86,86,86)" stroke-width="1.5"/>
<line x1="26.6" y1="78.9" x2="277.6" y2="98.3" stroke="rgb(174,174,174)" stroke-width="1.5"/>
<line x1="49.2" y1="99" x2="308.6" y2="113.8" stroke="rgb(190,190,190)" stroke-width="0.9"/>
<line x1="-57.7" y1="40.8" x2="63" y2="32.3" stroke="rgb(100,100,100)" stroke-width="1.0"/>
<line x1="56.7" y1="84.4" x2="260.4" y2="139.8" stroke="rgb(82,82,82)" stroke-width="1.3"/>
<line x1="37" y1="19.1" x2="243.9" y2="-8.2" stroke="rgb(137,137,137)" stroke-width="1.0"/>
<line x1="24.7" y1="-14.6" x2="174.7" y2="-3.6" stroke="rgb(125,125,125)" stroke-width="1.3"/>
<line x1="-16.7" y1="41" x2="186.8" y2="56.3" stroke="rgb(171,171,171)" stroke-width="1.5"/>
<line x1="23" y1="-12.1" x2="127.2" y2="-1.7" stroke="rgb(187,187,187)" stroke-width="1.4"/>
<line x1="-28.5" y1="38.1" x2="194.9" y2="70.9" stroke="rgb(176,176,176)" stroke-width="1.0"/>
<line x1="-49.8" y1="134.5" x2="223.3" y2="122.4" stroke="rgb(187,187,187)" stroke-width="0.9"/>
<line x1="-98.8" y1="20.1" x2="145.2" y2="35.2" stroke="rgb(158,158,158)" stroke-width="1.5"/>
<line x1="90" y1="112.7" x2="310.8" y2="86.4" stroke="rgb(155,155,155)" stroke-width="1.5"/>
<line x1="-86.7" y1="83.2" x2="171.4" y2="40.4" stroke="rgb(134,134,134)" stroke-width="1.4"/>
<line x1="54" y1="112.8" x2="214.9" y2="118" stroke="rgb(87,87,87)" stroke-width="1.6"/>
<line x1="108.3" y1="113.8" x2="274.4" y2="97.3" stroke="rgb(118,118,118)" stroke-width="1.0"/>
<line x1="-14.2" y1="60.3" x2="95.2" y2="66.3" stroke="rgb(135,135,135)" stroke-width="1.4"/>
<line x1="74.6" y1="109.5" x2="235.8" y2="119.9" stroke="rgb(128,128,128)" stroke-width="1.4"/>
<line x1="66.1" y1="119" x2="298.5" y2="127.3" stroke="rgb(159,159,159)" stroke-width="1.2"/>
<line x1="-34" y1="34.9" x2="192" y2="14.7" stroke="rgb(96,96,96)" stroke-width="1.5"/>
<line x1="-88" y1="103.1" x2="228.8" y2="78.1" stroke="rgb(95,95,95)" stroke-width="1.4"/>
<line x1="-70.3" y1="82.1" x2="141.1" y2="88.7" stroke="rgb(156,156,156)" stroke-width="1.3"/>
<line x1="36.2" y1="39.5" x2="335.6" y2="23.9" stroke="rgb(144,144,144)" stroke-width="1.3"/>
<line x1="-18.1" y1="-12" x2="274.2" y2="13.5" stroke="rgb(121,121,121)" stroke-width="1.3"/>
<line x1="-90" y1="77.2" x2="227.8" y2="88.8" stroke="rgb(162,162,162)" stroke-width="1.2"/>
<line x1="84" y1="70.1" x2="181.5" y2="65.7" stroke="rgb(165,165,165)" stroke-width="1.3"/>
<line x1="-58.6" y1="115.9" x2="95.7" y2="125.5" stroke="rgb(181,181,181)" stroke-width="1.2"/>
<line x1="104.8" y1="25.7" x2="240.1" y2="39.7" stroke="rgb(105,105,105)" stroke-width="1.1"/>
<line x1="75.2" y1="7.2" x2="229.6" y2="9.6" stroke="rgb(96,96,96)" stroke-width="1.6"/>
<line x1="12.4" y1="43.8" x2="178.4" y2="54.5" stroke="rgb(171,171,171)" stroke-width="1.5"/>
<line x1="-18.3" y1="38" x2="217.1" y2="1.3" stroke="rgb(171,171,171)" stroke-width="1.3"/>
<line x1="-3.6" y1="105.4" x2="149.2" y2="90.3" stroke="rgb(83,83,83)" stroke-width="1.0"/>
<line x1="-38.2" y1="95.1" x2="157" y2="87.1" stroke="rgb(168,168,168)" stroke-width="1.5"/>
<line x1="-5.9" y1="42.9" x2="134.7" y2="64.2" stroke="rgb(132,132,132)" stroke-width="1.5"/>
<line x1="-14.4" y1="19.5" x2="115.2" y2="3.4" stroke="rgb(179,179,179)" stroke-width="1.5"/>
<line x1="-11.6" y1="43.1" x2="212.6" y2="51.5" stroke="rgb(104,104,104)" stroke-width="1.0"/>
<line x1="88.7" y1="9.3" x2="293.3" y2="39.6" stroke="rgb(126,126,126)" stroke-width="1.4"/>
<line x1="-96.6" y1="33.8" x2="181.6" y2="-15.8" stroke="rgb(93,93,93)" stroke-width="1.5"/>
<line x1="-89" y1="54.6" x2="133.5" y2="4.1" stroke="rgb(103,103,103)" stroke-width="1.6"/>
<line x1="126.7" y1="78" x2="220.4" y2="73.5" stroke="rgb(118,118,118)" stroke-width="0.9"/>
<line x1="-134.2" y1="74.7" x2="166" y2="54.5" stroke="rgb(146,146,146)" stroke-width="1.2"/>
<line x1="68.7" y1="98.4" x2="329.6" y2="119.8" stroke="rgb(131,131,131)" stroke-width="1.3"/>
<line x1="-128.9" y1="139" x2="138.9" y2="96.8" stroke="rgb(147,147,147)" stroke-width="1.4"/>
<line x1="-11.1" y1="19.6" x2="138.8" y2="44" stroke="rgb(115,115,115)" stroke-width="1.5"/>
<line x1="-3.1" y1="128.5" x2="280.8" y2="77" stroke="rgb(163,163,163)" stroke-width="1.6"/>
<line x1="-47.4" y1="97.8" x2="189.5" y2="91.3" stroke="rgb(185,185,185)" stroke-width="0.9"/>
<line x1="-127.8" y1="123.3" x2="182.8" y2="151.4" stroke="rgb(148,148,148)" stroke-width="1.0"/>
<line x1="102.1" y1="63.7" x2="265.8" y2="81.8" stroke="rgb(108,108,108)" stroke-width="1.5"/>
<line x1="14.5" y1="-12.7" x2="172.4" y2="-1.4" stroke="rgb(101,101,101)" stroke-width="1.5"/>
<line x1="-71.6" y1="91.5" x2="188.6" y2="115.3" stroke="rgb(135,135,135)" stroke-width="1.0"/>
<line x1="-53.1" y1="124" x2="173.1" y2="144.2" stroke="rgb(127,127,127)" stroke-width="1.2"/>
<line x1="11.5" y1="43.4" x2="220.6" y2="34.8" stroke="rgb(147,147,147)" stroke-width="1.3"/>
<line x1="58.5" y1="65.5" x2="170.8" y2="82" stroke="rgb(187,187,187)" stroke-width="0.9"/>
<line x1="71.7" y1="37" x2="310.4" y2="39.1" stroke="rgb(170,170,170)" stroke-width="1.5"/>
<line x1="-0.9" y1="94.7" x2="250.9" y2="152.4" stroke="rgb(184,184,184)" stroke-width="1.6"/>
<line x1="9.9" y1="35.2" x2="99.8" y2="47.7" stroke="rgb(108,108,108)" stroke-width="1.5"/>
<line x1="65.2" y1="8.2" x2="296.1" y2="67.5" stroke="rgb(141,141,141)" stroke-width="1.5"/>
<line x1="-11.3" y1="108.2" x2="266" y2="131.6" stroke="rgb(165,165,165)" stroke-width="1.2"/>
<line x1="42.6" y1="114.3" x2="233.6" y2="136.3" stroke="rgb(179,179,179)" stroke-width="1.2"/>
<line x1="-111" y1="48.6" x2="189.3" y2="33" stroke="rgb(97,97,97)" stroke-width="1.3"/>
<line x1="-32.2" y1="22.7" x2="95.4" y2="8.3" stroke="rgb(132,132,132)" stroke-width="1.0"/>
<line x1="-81.9" y1="26.8" x2="110.8" y2="30.7" stroke="rgb(167,167,167)" stroke-width="1.2"/>
<line x1="-105.7" y1="21.8" x2="174.9" y2="-14.4" stroke="rgb(153,153,153)" stroke-width="1.4"/>
<line x1="-73.6" y1="107.9" x2="132.6" y2="68.4" stroke="rgb(101,101,101)" stroke-width="1.4"/>
<line x1="-45.5" y1="86.9" x2="238.9" y2="82.2" stroke="rgb(174,174,174)" stroke-width="1.5"/>
<line x1="-134.4" y1="18.1" x2="170.7" y2="10" stroke="rgb(157,157,157)" stroke-width="1.6"/>
<line x1="63.7" y1="70.7" x2="334" y2="79" stroke="rgb(98,98,98)" stroke-width="1.5"/>
<line x1="21.8" y1="43.7" x2="221.9" y2="92.3" stroke="rgb(160,160,160)" stroke-width="1.1"/>
<line x1="49" y1="-4.4" x2="339.6" y2="8.2" stroke="rgb(165,165,165)" stroke-width="0.9"/>
<line x1="-9.8" y1="73.3" x2="194.6" y2="87.9" stroke="rgb(105,105,105)" stroke-width="1.3"/>
<line x1="96.1" y1="112.2" x2="179.6" y2="99.9" stroke="rgb(95,95,95)" stroke-width="1.4"/>
<line x1="-3.5" y1="14.8" x2="126.1" y2="7.7" stroke="rgb(136,136,136)" stroke-width="1.4"/>
<line x1="-29.8" y1="83.2" x2="239.1" y2="110.9" stroke="rgb(88,88,88)" stroke-width="1.5"/>
<line x1="-73.8" y1="141.3" x2="84.3" y2="115.3" stroke="rgb(81,81,81)" stroke-width="1.0"/>
<line x1="-72.6" y1="4.8" x2="180.5" y2="-0.7" stroke="rgb(95,95,95)" stroke-width="1.5"/>
<line x1="-42.5" y1="48.9" x2="222.4" y2="107.7" stroke="rgb(92,92,92)" stroke-width="1.5"/>
</g>
<path d="M-8 29 62.8 0" fill="none" stroke="rgb(233,233,233)" stroke-width="1.35"/>
<path d="M6.7 0 28 66.2 42 111" fill="none" stroke="rgb(245,245,245)" stroke-width="1.22"/>
<path d="M17.4 0 102 36.7 137 52" fill="none" stroke="rgb(250,250,250)" stroke-width="1.18"/>
<path d="M37 76.7 117 8.5" fill="none" stroke="rgb(231,231,231)" stroke-width="1.40"/>
<path d="M93.8 0 82.2 131" fill="none" stroke="rgb(223,223,223)" stroke-width="1.20"/>
<path d="M62.8 0 102 11.6 205 37.7" fill="none" stroke="rgb(227,227,227)" stroke-width="1.31"/>
<path d="M-8 34 37.7 58 77 78.6" fill="none" stroke="rgb(248,248,248)" stroke-width="1.38"/>
<path d="M97 44 115.5 0" fill="none" stroke="rgb(244,244,244)" stroke-width="1.33"/>
<path d="M152.3 0 205 33.8" fill="none" stroke="rgb(235,235,235)" stroke-width="1.20"/>
<path d="M190 0 191 76" fill="none" stroke="rgb(223,223,223)" stroke-width="1.13"/>
<path d="M113.6 131 129 66 158 0" fill="none" stroke="rgb(220,220,220)" stroke-width="1.15"/>
<path d="M117.5 19.3 152 89" fill="none" stroke="rgb(234,234,234)" stroke-width="1.38"/>
<path d="M-1 134 6.7 119.8 26.1 81.1 37.7 56 45 40" fill="none" stroke="rgb(241,241,241)" stroke-width="1.26"/>
<path d="M24.1 131 86 56" fill="none" stroke="rgb(247,247,247)" stroke-width="1.37"/>
<path d="M-8 95 28 131" fill="none" stroke="rgb(232,232,232)" stroke-width="1.37"/>
<path d="M-8 116 102 85 205 56" fill="none" stroke="rgb(244,244,244)" stroke-width="1.30"/>
<path d="M28 56 62.8 131" fill="none" stroke="rgb(242,242,242)" stroke-width="1.12"/>
<path d="M117.5 56 162 85 205 114" fill="none" stroke="rgb(248,248,248)" stroke-width="1.37"/>
<path d="M150.4 131 194.8 56" fill="none" stroke="rgb(225,225,225)" stroke-width="1.28"/>
<path d="M200.6 56 196.8 131" fill="none" stroke="rgb(225,225,225)" stroke-width="1.31"/>
<path d="M102 75 189 74" fill="none" stroke="rgb(243,243,243)" stroke-width="1.35"/>
<line x1="54.9" y1="38.2" x2="129.2" y2="106.2" stroke="rgb(217,217,217)" stroke-width="0.9"/>
<line x1="20.4" y1="4.5" x2="140.5" y2="77.5" stroke="rgb(209,209,209)" stroke-width="0.9"/>
<line x1="-44.8" y1="50.3" x2="77.1" y2="36" stroke="rgb(226,226,226)" stroke-width="0.9"/>
<line x1="-34.9" y1="40.7" x2="79.2" y2="70.4" stroke="rgb(213,213,213)" stroke-width="0.9"/>
<line x1="88" y1="69.2" x2="232.2" y2="188.2" stroke="rgb(208,208,208)" stroke-width="1.1"/>
<line x1="-28.3" y1="87.4" x2="308.9" y2="102" stroke="rgb(239,239,239)" stroke-width="1.1"/>
<line x1="-89.9" y1="-67.6" x2="240.7" y2="112.8" stroke="rgb(240,240,240)" stroke-width="0.9"/>
<line x1="-14" y1="-36.6" x2="210" y2="72.5" stroke="rgb(232,232,232)" stroke-width="0.8"/>
<line x1="203.9" y1="26.1" x2="99" y2="53.8" stroke="rgb(208,208,208)" stroke-width="0.8"/>
<line x1="224.5" y1="89.2" x2="76.5" y2="112" stroke="rgb(231,231,231)" stroke-width="1.0"/>
<line x1="126.2" y1="83.5" x2="227.9" y2="2.5" stroke="rgb(208,208,208)" stroke-width="0.9"/>
<line x1="58.6" y1="-51.6" x2="204.2" y2="162.2" stroke="rgb(236,236,236)" stroke-width="1.1"/>
<line x1="-25.4" y1="63.5" x2="262.6" y2="79.9" stroke="rgb(242,242,242)" stroke-width="0.8"/>
<line x1="20.9" y1="73.2" x2="170" y2="181.5" stroke="rgb(243,243,243)" stroke-width="1.0"/>
<line x1="-127.3" y1="34.3" x2="157" y2="4.1" stroke="rgb(215,215,215)" stroke-width="0.9"/>
<line x1="320.8" y1="77.8" x2="12.1" y2="91.2" stroke="rgb(232,232,232)" stroke-width="0.8"/>
<line x1="201.9" y1="20.4" x2="171.3" y2="213.5" stroke="rgb(216,216,216)" stroke-width="1.1"/>
<line x1="19.4" y1="-58.6" x2="384" y2="64.2" stroke="rgb(243,243,243)" stroke-width="0.9"/>
<line x1="3.4" y1="113.3" x2="289.9" y2="34.2" stroke="rgb(244,244,244)" stroke-width="0.8"/>
<line x1="145.8" y1="-38" x2="116.2" y2="222.7" stroke="rgb(214,214,214)" stroke-width="1.0"/>
<line x1="-60.7" y1="168.2" x2="279.1" y2="72" stroke="rgb(232,232,232)" stroke-width="0.9"/>
<line x1="51.6" y1="-3.9" x2="203.6" y2="11.8" stroke="rgb(208,208,208)" stroke-width="0.9"/>
<line x1="98.7" y1="-70" x2="64.9" y2="140.6" stroke="rgb(217,217,217)" stroke-width="1.0"/>
<line x1="-55.3" y1="-42.8" x2="140.6" y2="106.9" stroke="rgb(234,234,234)" stroke-width="1.1"/>
<line x1="136.1" y1="46.9" x2="263.2" y2="3.6" stroke="rgb(208,208,208)" stroke-width="0.8"/>
<line x1="91.8" y1="-6.5" x2="143.6" y2="119.9" stroke="rgb(229,229,229)" stroke-width="1.0"/>
<line x1="-58.2" y1="94.4" x2="283.8" y2="65.4" stroke="rgb(233,233,233)" stroke-width="0.8"/>
<line x1="109.2" y1="58.4" x2="278.5" y2="28.3" stroke="rgb(237,237,237)" stroke-width="0.9"/>
<line x1="-63.3" y1="29.4" x2="315.3" y2="3.5" stroke="rgb(222,222,222)" stroke-width="0.9"/>
<line x1="140.6" y1="-38.2" x2="-79.6" y2="40.8" stroke="rgb(243,243,243)" stroke-width="1.0"/>
<line x1="-42.6" y1="43" x2="60.4" y2="47.7" stroke="rgb(222,222,222)" stroke-width="1.0"/>
<line x1="25.6" y1="81.8" x2="229.6" y2="140.3" stroke="rgb(241,241,241)" stroke-width="1.0"/>
<line x1="-62.1" y1="-26.7" x2="76.6" y2="273.2" stroke="rgb(230,230,230)" stroke-width="0.9"/>
<line x1="250" y1="-2.9" x2="131.9" y2="151.4" stroke="rgb(219,219,219)" stroke-width="0.9"/>
<line x1="-51.9" y1="57.1" x2="107.5" y2="161" stroke="rgb(214,214,214)" stroke-width="0.8"/>
<line x1="51.8" y1="-38.7" x2="256.5" y2="56.2" stroke="rgb(224,224,224)" stroke-width="1.1"/>
<line x1="-58.5" y1="-15.2" x2="103.9" y2="167.2" stroke="rgb(214,214,214)" stroke-width="1.0"/>
<line x1="114.1" y1="-4.7" x2="18.6" y2="113.8" stroke="rgb(216,216,216)" stroke-width="1.1"/>
<line x1="43.4" y1="68.9" x2="203.3" y2="165.5" stroke="rgb(234,234,234)" stroke-width="0.9"/>
<line x1="93.6" y1="-22.7" x2="-41.7" y2="61.5" stroke="rgb(219,219,219)" stroke-width="0.9"/><rect x="4.4" y="119.5" width="18.8" height="6" rx="1" fill="#fff" stroke="#5a6a90" stroke-width="0.8"/></svg>
<svg style="position:absolute;left:13px;top:277px" width="205" height="131" viewBox="0 0 205 131"><defs><filter id="blr" x="-5%" y="-5%" width="110%" height="110%"><feGaussianBlur stdDeviation="0.7"/></filter><filter id="blr2" x="-5%" y="-5%" width="110%" height="110%"><feGaussianBlur stdDeviation="0.35"/></filter></defs><rect width="205" height="131" fill="#181818"/>
<g filter="url(#blr)">
<line x1="-15.8" y1="1.2" x2="-13.7" y2="178.3" stroke="rgb(84,84,84)" stroke-width="1.3"/>
<line x1="-23.6" y1="-4.2" x2="-3" y2="172.1" stroke="rgb(64,64,64)" stroke-width="1.2"/>
<line x1="-27.6" y1="-91.4" x2="1.6" y2="168.6" stroke="rgb(56,56,56)" stroke-width="1.5"/>
<line x1="11.2" y1="-136.5" x2="-34.3" y2="158.8" stroke="rgb(158,158,158)" stroke-width="1.0"/>
<line x1="10.7" y1="-46.1" x2="-32.7" y2="160.5" stroke="rgb(84,84,84)" stroke-width="1.1"/>
<line x1="16.5" y1="-36" x2="-36.1" y2="183.8" stroke="rgb(101,101,101)" stroke-width="1.4"/>
<line x1="-10.3" y1="-47.5" x2="-7.7" y2="219.2" stroke="rgb(88,88,88)" stroke-width="1.3"/>
<line x1="7.2" y1="16" x2="-23.6" y2="180.1" stroke="rgb(141,141,141)" stroke-width="1.3"/>
<line x1="4.7" y1="-68" x2="-19.3" y2="144.9" stroke="rgb(88,88,88)" stroke-width="1.2"/>
<line x1="12.3" y1="-100.5" x2="-25.3" y2="134.7" stroke="rgb(85,85,85)" stroke-width="1.2"/>
<line x1="14.1" y1="-39.6" x2="-24.4" y2="223.4" stroke="rgb(114,114,114)" stroke-width="1.1"/>
<line x1="6.8" y1="48.7" x2="-15.6" y2="195.7" stroke="rgb(73,73,73)" stroke-width="1.1"/>
<line x1="5.9" y1="-85" x2="-13" y2="201.6" stroke="rgb(87,87,87)" stroke-width="1.4"/>
<line x1="34.4" y1="-124.3" x2="-39.5" y2="177.5" stroke="rgb(102,102,102)" stroke-width="1.2"/>
<line x1="4" y1="-1.4" x2="-7.5" y2="237.6" stroke="rgb(134,134,134)" stroke-width="0.8"/>
<line x1="-1.3" y1="-123.2" x2="-0.3" y2="133.4" stroke="rgb(127,127,127)" stroke-width="1.0"/>
<line x1="4.3" y1="-70.9" x2="-4.8" y2="114" stroke="rgb(63,63,63)" stroke-width="1.1"/>
<line x1="4.1" y1="-33.8" x2="-2.3" y2="245.2" stroke="rgb(111,111,111)" stroke-width="1.4"/>
<line x1="16.6" y1="-40.8" x2="-12.8" y2="178.8" stroke="rgb(89,89,89)" stroke-width="1.2"/>
<line x1="19.2" y1="1.8" x2="-13.6" y2="244" stroke="rgb(59,59,59)" stroke-width="0.8"/>
<line x1="26" y1="-50.2" x2="-19.2" y2="180.3" stroke="rgb(140,140,140)" stroke-width="0.9"/>
<line x1="11.2" y1="-92" x2="-1.8" y2="190.6" stroke="rgb(75,75,75)" stroke-width="1.3"/>
<line x1="20.2" y1="-38.3" x2="-9.9" y2="217.5" stroke="rgb(100,100,100)" stroke-width="1.3"/>
<line x1="6.9" y1="-78" x2="5.8" y2="190.1" stroke="rgb(109,109,109)" stroke-width="0.8"/>
<line x1="12.5" y1="-58.8" x2="1.6" y2="81.6" stroke="rgb(154,154,154)" stroke-width="1.0"/>
<line x1="0.2" y1="21.2" x2="15.8" y2="238.6" stroke="rgb(62,62,62)" stroke-width="1.0"/>
<line x1="24.6" y1="-133.6" x2="-6.8" y2="169.5" stroke="rgb(82,82,82)" stroke-width="1.0"/>
<line x1="13.2" y1="-66.6" x2="6.7" y2="142.8" stroke="rgb(67,67,67)" stroke-width="1.1"/>
<line x1="23.2" y1="-8.1" x2="-1.7" y2="237.7" stroke="rgb(71,71,71)" stroke-width="1.5"/>
<line x1="22" y1="-136.5" x2="0.5" y2="180.2" stroke="rgb(149,149,149)" stroke-width="0.9"/>
<line x1="25.1" y1="-84.7" x2="-0.8" y2="149.7" stroke="rgb(102,102,102)" stroke-width="0.8"/>
<line x1="15.2" y1="32.9" x2="11.3" y2="182.3" stroke="rgb(85,85,85)" stroke-width="1.3"/>
<line x1="36.2" y1="-57.4" x2="-6.6" y2="193.6" stroke="rgb(134,134,134)" stroke-width="0.8"/>
<line x1="17.4" y1="-124.5" x2="13.3" y2="138.1" stroke="rgb(123,123,123)" stroke-width="1.3"/>
<line x1="30.2" y1="-43.1" x2="1.9" y2="147" stroke="rgb(102,102,102)" stroke-width="0.8"/>
<line x1="30.8" y1="15.8" x2="2.6" y2="174.7" stroke="rgb(146,146,146)" stroke-width="1.0"/>
<line x1="22.1" y1="-124.2" x2="13.1" y2="211.6" stroke="rgb(141,141,141)" stroke-width="1.3"/>
<line x1="20.8" y1="18.9" x2="16.7" y2="180.7" stroke="rgb(94,94,94)" stroke-width="1.1"/>
<line x1="30.1" y1="-48.4" x2="9.2" y2="150.6" stroke="rgb(122,122,122)" stroke-width="0.8"/>
<line x1="39.8" y1="-119.1" x2="1.2" y2="206.1" stroke="rgb(86,86,86)" stroke-width="1.5"/>
<line x1="48.9" y1="-98.5" x2="-4.9" y2="196.8" stroke="rgb(107,107,107)" stroke-width="1.0"/>
<line x1="51.3" y1="-2.1" x2="-6.4" y2="238.4" stroke="rgb(79,79,79)" stroke-width="1.3"/>
<line x1="57.8" y1="-4.2" x2="-10.6" y2="222" stroke="rgb(119,119,119)" stroke-width="0.9"/>
<line x1="35.1" y1="-23" x2="12.8" y2="177.2" stroke="rgb(118,118,118)" stroke-width="1.2"/>
<line x1="26.3" y1="-131.9" x2="24.6" y2="146.4" stroke="rgb(58,58,58)" stroke-width="1.5"/>
<line x1="13" y1="29.6" x2="38.4" y2="196.3" stroke="rgb(134,134,134)" stroke-width="0.9"/>
<line x1="43.4" y1="-51.9" x2="9.8" y2="183" stroke="rgb(132,132,132)" stroke-width="0.9"/>
<line x1="32" y1="-61" x2="23.5" y2="193.1" stroke="rgb(152,152,152)" stroke-width="1.4"/>
<line x1="5.5" y1="-10.9" x2="52.5" y2="170.2" stroke="rgb(120,120,120)" stroke-width="1.3"/>
<line x1="32.5" y1="-43.4" x2="26.2" y2="282.9" stroke="rgb(159,159,159)" stroke-width="1.0"/>
<line x1="36.8" y1="-33.9" x2="23.8" y2="124.2" stroke="rgb(146,146,146)" stroke-width="0.9"/>
<line x1="43.4" y1="3.4" x2="20.1" y2="152.9" stroke="rgb(137,137,137)" stroke-width="0.9"/>
<line x1="29.4" y1="-124.4" x2="35.9" y2="131.2" stroke="rgb(128,128,128)" stroke-width="1.1"/>
<line x1="48.6" y1="-108.4" x2="18.2" y2="216.8" stroke="rgb(111,111,111)" stroke-width="1.2"/>
<line x1="46.4" y1="-52.3" x2="21.7" y2="151.7" stroke="rgb(129,129,129)" stroke-width="0.9"/>
<line x1="53.3" y1="-96" x2="17" y2="204.6" stroke="rgb(155,155,155)" stroke-width="0.8"/>
<line x1="24.8" y1="-24.2" x2="47.7" y2="126.3" stroke="rgb(87,87,87)" stroke-width="1.0"/>
<line x1="46.2" y1="-57" x2="27.1" y2="142.1" stroke="rgb(122,122,122)" stroke-width="0.9"/>
<line x1="50.1" y1="-39.4" x2="26.4" y2="116.6" stroke="rgb(69,69,69)" stroke-width="1.3"/>
<line x1="83.7" y1="-52.5" x2="-5.3" y2="197.8" stroke="rgb(95,95,95)" stroke-width="0.9"/>
<line x1="57.2" y1="-33.8" x2="21.3" y2="216.7" stroke="rgb(77,77,77)" stroke-width="1.3"/>
<line x1="54.7" y1="-57.3" x2="26.9" y2="240.8" stroke="rgb(120,120,120)" stroke-width="0.9"/>
<line x1="32.7" y1="-66.6" x2="49.4" y2="229.3" stroke="rgb(77,77,77)" stroke-width="0.9"/>
<line x1="48.1" y1="-59.7" x2="37.2" y2="139.5" stroke="rgb(88,88,88)" stroke-width="1.0"/>
<line x1="63.2" y1="-67.6" x2="23.5" y2="212.7" stroke="rgb(67,67,67)" stroke-width="1.4"/>
<line x1="45.7" y1="-75.8" x2="42" y2="88.1" stroke="rgb(151,151,151)" stroke-width="1.0"/>
<line x1="51.4" y1="-85.2" x2="39.3" y2="142.8" stroke="rgb(68,68,68)" stroke-width="0.8"/>
<line x1="56" y1="-11.7" x2="36.7" y2="154.5" stroke="rgb(116,116,116)" stroke-width="1.0"/>
<line x1="69.2" y1="-27.9" x2="24.3" y2="123.2" stroke="rgb(67,67,67)" stroke-width="1.3"/>
<line x1="53.3" y1="-36.1" x2="42.9" y2="106.6" stroke="rgb(72,72,72)" stroke-width="1.3"/>
<line x1="49.5" y1="-95.3" x2="48.2" y2="132" stroke="rgb(100,100,100)" stroke-width="1.1"/>
<line x1="62.7" y1="18.2" x2="37" y2="177.5" stroke="rgb(149,149,149)" stroke-width="0.9"/>
<line x1="85.4" y1="-51.6" x2="15.1" y2="163.6" stroke="rgb(70,70,70)" stroke-width="1.1"/>
<line x1="72.7" y1="-23.1" x2="30.3" y2="237.3" stroke="rgb(103,103,103)" stroke-width="1.4"/>
<line x1="64.7" y1="-25.5" x2="39.8" y2="128.6" stroke="rgb(86,86,86)" stroke-width="1.1"/>
<line x1="55.3" y1="-48" x2="51.8" y2="203.7" stroke="rgb(155,155,155)" stroke-width="1.1"/>
<line x1="50" y1="27.5" x2="57.6" y2="195.9" stroke="rgb(154,154,154)" stroke-width="1.2"/>
<line x1="60.8" y1="-69.3" x2="49.4" y2="118.6" stroke="rgb(110,110,110)" stroke-width="0.8"/>
<line x1="68.7" y1="-104.7" x2="42.8" y2="215.9" stroke="rgb(106,106,106)" stroke-width="1.4"/>
<line x1="56.8" y1="-12.1" x2="56.3" y2="214.1" stroke="rgb(127,127,127)" stroke-width="1.1"/>
<line x1="63" y1="-128.8" x2="52.3" y2="186.9" stroke="rgb(81,81,81)" stroke-width="0.8"/>
<line x1="60.5" y1="-83.9" x2="57.2" y2="200.9" stroke="rgb(133,133,133)" stroke-width="1.1"/>
<line x1="77.3" y1="-51.9" x2="42.6" y2="184.1" stroke="rgb(117,117,117)" stroke-width="1.2"/>
<line x1="58.5" y1="1.4" x2="62.4" y2="243.8" stroke="rgb(120,120,120)" stroke-width="0.8"/>
<line x1="72" y1="-7.9" x2="51.1" y2="136.1" stroke="rgb(144,144,144)" stroke-width="1.5"/>
<line x1="78.7" y1="-10.8" x2="46.5" y2="132.8" stroke="rgb(60,60,60)" stroke-width="0.9"/>
<line x1="82.4" y1="-82.7" x2="44.4" y2="213.6" stroke="rgb(147,147,147)" stroke-width="1.5"/>
<line x1="68.7" y1="-78" x2="58.9" y2="95.5" stroke="rgb(115,115,115)" stroke-width="1.5"/>
<line x1="65.9" y1="-52" x2="64.3" y2="181.5" stroke="rgb(69,69,69)" stroke-width="0.8"/>
<line x1="69" y1="-88.9" x2="62.9" y2="190.5" stroke="rgb(79,79,79)" stroke-width="1.2"/>
<line x1="58.7" y1="-155" x2="74.1" y2="162.2" stroke="rgb(141,141,141)" stroke-width="1.4"/>
<line x1="61.3" y1="-71.2" x2="73.8" y2="188.6" stroke="rgb(153,153,153)" stroke-width="0.9"/>
<line x1="52.5" y1="-108.7" x2="84.1" y2="171.7" stroke="rgb(128,128,128)" stroke-width="1.3"/>
<line x1="76" y1="-94.8" x2="63" y2="207.4" stroke="rgb(106,106,106)" stroke-width="1.2"/>
<line x1="62.4" y1="-39.9" x2="78" y2="120.8" stroke="rgb(111,111,111)" stroke-width="1.1"/>
<line x1="82.3" y1="17.7" x2="60.7" y2="193.5" stroke="rgb(57,57,57)" stroke-width="1.3"/>
<line x1="79.6" y1="-122" x2="64.8" y2="179" stroke="rgb(132,132,132)" stroke-width="1.4"/>
<line x1="89.6" y1="39.4" x2="57" y2="201.7" stroke="rgb(97,97,97)" stroke-width="1.0"/>
<line x1="83.8" y1="-66.9" x2="64.2" y2="248.2" stroke="rgb(111,111,111)" stroke-width="0.8"/>
<line x1="95.9" y1="-152.5" x2="54.6" y2="172.3" stroke="rgb(65,65,65)" stroke-width="1.2"/>
<line x1="96.6" y1="-38.8" x2="55.4" y2="274.4" stroke="rgb(114,114,114)" stroke-width="1.2"/>
<line x1="89.9" y1="-3.5" x2="62.6" y2="137.5" stroke="rgb(134,134,134)" stroke-width="1.0"/>
<line x1="109.6" y1="-107.3" x2="46.1" y2="197.7" stroke="rgb(65,65,65)" stroke-width="1.2"/>
<line x1="73.1" y1="-106.9" x2="84.8" y2="147.6" stroke="rgb(64,64,64)" stroke-width="1.1"/>
<line x1="89" y1="-86.3" x2="69.5" y2="216.2" stroke="rgb(118,118,118)" stroke-width="0.9"/>
<line x1="74" y1="-24.1" x2="86.8" y2="124.7" stroke="rgb(94,94,94)" stroke-width="1.1"/>
<line x1="103.3" y1="-114.1" x2="58.7" y2="116.3" stroke="rgb(94,94,94)" stroke-width="0.9"/>
<line x1="96.5" y1="-55.9" x2="67.1" y2="217.6" stroke="rgb(56,56,56)" stroke-width="1.0"/>
<line x1="87.1" y1="-14.1" x2="79" y2="184.1" stroke="rgb(155,155,155)" stroke-width="1.3"/>
<line x1="89.3" y1="36.3" x2="78.5" y2="202.6" stroke="rgb(109,109,109)" stroke-width="0.8"/>
<line x1="93" y1="3.9" x2="76.1" y2="192.8" stroke="rgb(147,147,147)" stroke-width="1.2"/>
<line x1="71.1" y1="-155.6" x2="99.9" y2="180.9" stroke="rgb(62,62,62)" stroke-width="1.0"/>
<line x1="84.3" y1="-18" x2="88.7" y2="225.9" stroke="rgb(91,91,91)" stroke-width="0.8"/>
<line x1="89.6" y1="-139.8" x2="86" y2="189.7" stroke="rgb(63,63,63)" stroke-width="1.2"/>
<line x1="85.5" y1="-133.4" x2="91.9" y2="169.6" stroke="rgb(95,95,95)" stroke-width="1.2"/>
<line x1="105.4" y1="-78.4" x2="72.6" y2="189.5" stroke="rgb(110,110,110)" stroke-width="0.9"/>
<line x1="98.9" y1="-72.7" x2="82.4" y2="100.3" stroke="rgb(66,66,66)" stroke-width="1.5"/>
<line x1="111.7" y1="-95.1" x2="70.4" y2="160" stroke="rgb(95,95,95)" stroke-width="0.9"/>
<line x1="88.2" y1="16.5" x2="96.4" y2="236.1" stroke="rgb(101,101,101)" stroke-width="1.2"/>
<line x1="106.7" y1="-113.3" x2="79.4" y2="181.8" stroke="rgb(103,103,103)" stroke-width="1.1"/>
<line x1="112.2" y1="-132.8" x2="74.8" y2="170.9" stroke="rgb(133,133,133)" stroke-width="0.8"/>
<line x1="92.7" y1="-103.6" x2="96.6" y2="213" stroke="rgb(150,150,150)" stroke-width="1.2"/>
<line x1="115.8" y1="-147.4" x2="76.5" y2="175.6" stroke="rgb(159,159,159)" stroke-width="1.2"/>
<line x1="122.6" y1="-7.3" x2="70.7" y2="166.3" stroke="rgb(140,140,140)" stroke-width="1.4"/>
<line x1="97.3" y1="-62.6" x2="97.5" y2="190.7" stroke="rgb(89,89,89)" stroke-width="1.1"/>
<line x1="103.8" y1="-40.9" x2="93" y2="136.9" stroke="rgb(91,91,91)" stroke-width="1.1"/>
<line x1="99.2" y1="-133.1" x2="99.1" y2="180.6" stroke="rgb(153,153,153)" stroke-width="1.0"/>
<line x1="93.5" y1="-37.1" x2="106.5" y2="119.7" stroke="rgb(73,73,73)" stroke-width="1.5"/>
<line x1="140.4" y1="-37.9" x2="62.4" y2="264.7" stroke="rgb(101,101,101)" stroke-width="0.8"/>
<line x1="93.8" y1="-41.1" x2="109.6" y2="191.3" stroke="rgb(99,99,99)" stroke-width="1.5"/>
<line x1="153.9" y1="-16.1" x2="51.3" y2="264.4" stroke="rgb(159,159,159)" stroke-width="0.8"/>
<line x1="105.2" y1="-138.4" x2="101.8" y2="200.7" stroke="rgb(113,113,113)" stroke-width="1.3"/>
<line x1="105.9" y1="13.3" x2="104.5" y2="239.6" stroke="rgb(65,65,65)" stroke-width="0.9"/>
<line x1="133.8" y1="-32.9" x2="77.7" y2="268.2" stroke="rgb(61,61,61)" stroke-width="1.1"/>
<line x1="105.9" y1="-43.1" x2="106.8" y2="277.7" stroke="rgb(116,116,116)" stroke-width="1.5"/>
<line x1="110.6" y1="-94.6" x2="103.6" y2="104.2" stroke="rgb(136,136,136)" stroke-width="1.1"/>
<line x1="130.8" y1="-54.5" x2="85.7" y2="256.8" stroke="rgb(122,122,122)" stroke-width="1.4"/>
<line x1="104" y1="4.8" x2="115" y2="219.5" stroke="rgb(96,96,96)" stroke-width="1.4"/>
<line x1="125" y1="-139" x2="95.5" y2="160.8" stroke="rgb(160,160,160)" stroke-width="1.3"/>
<line x1="139.8" y1="-106.2" x2="82" y2="218.1" stroke="rgb(104,104,104)" stroke-width="1.2"/>
<line x1="98" y1="-26.1" x2="126.7" y2="225.7" stroke="rgb(56,56,56)" stroke-width="1.3"/>
<line x1="143.4" y1="-44.3" x2="82.1" y2="272.9" stroke="rgb(64,64,64)" stroke-width="1.2"/>
<line x1="121.2" y1="-130.9" x2="105.7" y2="144.8" stroke="rgb(64,64,64)" stroke-width="1.2"/>
<line x1="100.1" y1="-105.3" x2="128.4" y2="226.3" stroke="rgb(55,55,55)" stroke-width="0.8"/>
<line x1="135" y1="-130.4" x2="97" y2="178.3" stroke="rgb(59,59,59)" stroke-width="1.3"/>
<line x1="128" y1="-80.2" x2="105.1" y2="197.1" stroke="rgb(67,67,67)" stroke-width="1.0"/>
<line x1="137.6" y1="-127.1" x2="96.8" y2="136.5" stroke="rgb(116,116,116)" stroke-width="1.2"/>
<line x1="128.4" y1="-123.1" x2="107.5" y2="150.4" stroke="rgb(98,98,98)" stroke-width="1.2"/>
<line x1="134.4" y1="-97.3" x2="103.2" y2="168.1" stroke="rgb(104,104,104)" stroke-width="1.0"/>
<line x1="135.1" y1="-27.9" x2="104.7" y2="175.1" stroke="rgb(64,64,64)" stroke-width="1.1"/>
<line x1="95.4" y1="-117" x2="147.3" y2="151.7" stroke="rgb(114,114,114)" stroke-width="1.5"/>
<line x1="123.1" y1="-45" x2="120.7" y2="111.8" stroke="rgb(134,134,134)" stroke-width="1.3"/>
<line x1="114.9" y1="-125" x2="130" y2="195" stroke="rgb(133,133,133)" stroke-width="1.5"/>
<line x1="130" y1="49.7" x2="117" y2="194.3" stroke="rgb(130,130,130)" stroke-width="0.9"/>
<line x1="130.6" y1="-73.7" x2="119.4" y2="149.8" stroke="rgb(123,123,123)" stroke-width="1.1"/>
<line x1="142.4" y1="-93.4" x2="108.1" y2="137.6" stroke="rgb(121,121,121)" stroke-width="1.4"/>
<line x1="147.5" y1="-85.2" x2="104.8" y2="251.3" stroke="rgb(98,98,98)" stroke-width="1.4"/>
<line x1="147.7" y1="-22.8" x2="107.3" y2="256.4" stroke="rgb(112,112,112)" stroke-width="1.5"/>
<line x1="143.5" y1="-95.9" x2="113.1" y2="191.3" stroke="rgb(119,119,119)" stroke-width="1.0"/>
<line x1="143.7" y1="-4.7" x2="114" y2="139.6" stroke="rgb(61,61,61)" stroke-width="1.2"/>
<line x1="142" y1="-88.7" x2="118.5" y2="173.7" stroke="rgb(115,115,115)" stroke-width="1.3"/>
<line x1="142.2" y1="1.9" x2="120.1" y2="223.2" stroke="rgb(109,109,109)" stroke-width="1.2"/>
<line x1="141.1" y1="-107.4" x2="123.1" y2="163.2" stroke="rgb(55,55,55)" stroke-width="0.8"/>
<line x1="124.7" y1="-80" x2="140.4" y2="202.5" stroke="rgb(85,85,85)" stroke-width="1.3"/>
<line x1="149.3" y1="-81.8" x2="117.7" y2="220.1" stroke="rgb(136,136,136)" stroke-width="1.3"/>
<line x1="154" y1="-89" x2="114.8" y2="118.6" stroke="rgb(96,96,96)" stroke-width="1.3"/>
<line x1="167.9" y1="-102.4" x2="103" y2="185.4" stroke="rgb(138,138,138)" stroke-width="1.0"/>
<line x1="159.6" y1="-51.4" x2="112.6" y2="151.7" stroke="rgb(98,98,98)" stroke-width="1.1"/>
<line x1="136.1" y1="-26.1" x2="138.7" y2="254.9" stroke="rgb(105,105,105)" stroke-width="1.2"/>
<line x1="159.8" y1="-43.8" x2="116.8" y2="277.4" stroke="rgb(60,60,60)" stroke-width="0.9"/>
<line x1="139.8" y1="-11.1" x2="139.3" y2="148.3" stroke="rgb(60,60,60)" stroke-width="0.9"/>
<line x1="117.7" y1="-156.9" x2="162.6" y2="179.6" stroke="rgb(124,124,124)" stroke-width="1.0"/>
<line x1="156.7" y1="-95.9" x2="124.3" y2="241.7" stroke="rgb(124,124,124)" stroke-width="1.0"/>
<line x1="166.4" y1="-112.4" x2="116.9" y2="144.4" stroke="rgb(77,77,77)" stroke-width="1.2"/>
<line x1="152.3" y1="-11" x2="133.8" y2="153.7" stroke="rgb(128,128,128)" stroke-width="1.3"/>
<line x1="140.4" y1="-95.1" x2="147.5" y2="161.5" stroke="rgb(121,121,121)" stroke-width="1.1"/>
<line x1="152.4" y1="-16.9" x2="136.3" y2="134" stroke="rgb(97,97,97)" stroke-width="1.0"/>
<line x1="161.4" y1="-142.5" x2="129.7" y2="172.7" stroke="rgb(58,58,58)" stroke-width="1.2"/>
<line x1="168.2" y1="-11.2" x2="125.1" y2="181" stroke="rgb(69,69,69)" stroke-width="1.0"/>
<line x1="143.4" y1="29" x2="150.3" y2="197.7" stroke="rgb(141,141,141)" stroke-width="0.8"/>
<line x1="151.8" y1="-91.9" x2="144.5" y2="115.7" stroke="rgb(128,128,128)" stroke-width="1.0"/>
<line x1="134.7" y1="-69.3" x2="163.5" y2="178" stroke="rgb(93,93,93)" stroke-width="1.0"/>
<line x1="159.5" y1="42.8" x2="141.3" y2="181.8" stroke="rgb(129,129,129)" stroke-width="0.8"/>
<line x1="181.7" y1="-59.1" x2="120.7" y2="87.4" stroke="rgb(87,87,87)" stroke-width="0.9"/>
<line x1="158.1" y1="-95.5" x2="145.8" y2="219.4" stroke="rgb(157,157,157)" stroke-width="0.9"/>
<line x1="169.8" y1="16.7" x2="136.4" y2="223.2" stroke="rgb(67,67,67)" stroke-width="1.1"/>
<line x1="154.2" y1="46.3" x2="153.3" y2="196.8" stroke="rgb(114,114,114)" stroke-width="1.5"/>
<line x1="153.6" y1="-38.2" x2="155.3" y2="234" stroke="rgb(86,86,86)" stroke-width="1.0"/>
<line x1="160.2" y1="-34.8" x2="150.5" y2="161.1" stroke="rgb(148,148,148)" stroke-width="0.8"/>
<line x1="155.7" y1="-112.5" x2="156.8" y2="195.6" stroke="rgb(130,130,130)" stroke-width="1.4"/>
<line x1="176.6" y1="46.8" x2="137.2" y2="184.8" stroke="rgb(120,120,120)" stroke-width="1.5"/>
<line x1="166.1" y1="-92.9" x2="149.4" y2="147.7" stroke="rgb(70,70,70)" stroke-width="1.0"/>
<line x1="199" y1="-15" x2="119.7" y2="220.8" stroke="rgb(90,90,90)" stroke-width="1.2"/>
<line x1="159.7" y1="-75.4" x2="159.8" y2="184.1" stroke="rgb(103,103,103)" stroke-width="1.0"/>
<line x1="171.7" y1="-110.3" x2="150.5" y2="140" stroke="rgb(116,116,116)" stroke-width="1.2"/>
<line x1="170.7" y1="-93.7" x2="152" y2="147.8" stroke="rgb(104,104,104)" stroke-width="0.9"/>
<line x1="168.6" y1="39.3" x2="156.1" y2="179" stroke="rgb(101,101,101)" stroke-width="1.5"/>
<line x1="165" y1="-5" x2="161.6" y2="144.4" stroke="rgb(120,120,120)" stroke-width="1.4"/>
<line x1="156.4" y1="-124.2" x2="171.6" y2="181.6" stroke="rgb(113,113,113)" stroke-width="1.2"/>
<line x1="181.5" y1="3.1" x2="150" y2="185.7" stroke="rgb(87,87,87)" stroke-width="1.2"/>
<line x1="180.6" y1="-78.9" x2="152.7" y2="115.7" stroke="rgb(123,123,123)" stroke-width="1.4"/>
<line x1="157.8" y1="-60.9" x2="177.2" y2="106.6" stroke="rgb(89,89,89)" stroke-width="1.0"/>
<line x1="171.1" y1="-21.2" x2="164.5" y2="265.8" stroke="rgb(120,120,120)" stroke-width="1.1"/>
<line x1="198.8" y1="-74.3" x2="139.6" y2="236.9" stroke="rgb(66,66,66)" stroke-width="1.1"/>
<line x1="168.8" y1="-84.7" x2="170.6" y2="118.4" stroke="rgb(119,119,119)" stroke-width="1.1"/>
<line x1="173.5" y1="-86.3" x2="168.9" y2="111.2" stroke="rgb(154,154,154)" stroke-width="1.2"/>
<line x1="189.8" y1="-64.6" x2="154.2" y2="243.6" stroke="rgb(55,55,55)" stroke-width="1.2"/>
<line x1="173.2" y1="-53.4" x2="172.2" y2="99.7" stroke="rgb(144,144,144)" stroke-width="0.9"/>
<line x1="178.3" y1="-72.7" x2="169" y2="108.7" stroke="rgb(105,105,105)" stroke-width="1.5"/>
<line x1="177.6" y1="-64.4" x2="171" y2="152.1" stroke="rgb(58,58,58)" stroke-width="1.5"/>
<line x1="193.9" y1="1.3" x2="156.5" y2="215.2" stroke="rgb(137,137,137)" stroke-width="0.9"/>
<line x1="211" y1="-122.8" x2="141.6" y2="144.8" stroke="rgb(109,109,109)" stroke-width="1.2"/>
<line x1="184.7" y1="-60.2" x2="169.5" y2="96.5" stroke="rgb(153,153,153)" stroke-width="1.4"/>
<line x1="196.8" y1="-113.6" x2="158.7" y2="123.6" stroke="rgb(133,133,133)" stroke-width="0.8"/>
<line x1="173.3" y1="-90.7" x2="184" y2="157.4" stroke="rgb(75,75,75)" stroke-width="1.4"/>
<line x1="178.9" y1="-67.6" x2="181.3" y2="168.6" stroke="rgb(97,97,97)" stroke-width="1.1"/>
<line x1="185.7" y1="-144.5" x2="176.3" y2="156.3" stroke="rgb(141,141,141)" stroke-width="0.9"/>
<line x1="188.1" y1="-43.5" x2="175.4" y2="269.9" stroke="rgb(129,129,129)" stroke-width="1.3"/>
<line x1="206" y1="4.6" x2="159.5" y2="218.9" stroke="rgb(130,130,130)" stroke-width="1.4"/>
<line x1="196" y1="-65.1" x2="171.6" y2="140.1" stroke="rgb(154,154,154)" stroke-width="1.2"/>
<line x1="174" y1="-16.3" x2="194.5" y2="170.6" stroke="rgb(158,158,158)" stroke-width="1.2"/>
<line x1="191.7" y1="-30.3" x2="179.6" y2="245.6" stroke="rgb(77,77,77)" stroke-width="1.1"/>
<line x1="188.2" y1="-78.9" x2="184.6" y2="232.7" stroke="rgb(99,99,99)" stroke-width="1.1"/>
<line x1="189.4" y1="-67.3" x2="184.6" y2="137.3" stroke="rgb(119,119,119)" stroke-width="0.9"/>
<line x1="198.5" y1="-56.4" x2="177.4" y2="267.4" stroke="rgb(111,111,111)" stroke-width="1.2"/>
<line x1="198" y1="3" x2="180.4" y2="154.1" stroke="rgb(104,104,104)" stroke-width="1.3"/>
<line x1="215.7" y1="-13.5" x2="163.3" y2="216" stroke="rgb(160,160,160)" stroke-width="1.4"/>
<line x1="190.2" y1="-147" x2="190.6" y2="165.7" stroke="rgb(156,156,156)" stroke-width="1.2"/>
<line x1="185.5" y1="-57.8" x2="197.8" y2="193.5" stroke="rgb(81,81,81)" stroke-width="1.0"/>
<line x1="223.7" y1="-130.2" x2="160.4" y2="196" stroke="rgb(85,85,85)" stroke-width="1.5"/>
<line x1="197.1" y1="-58.2" x2="190.1" y2="192.4" stroke="rgb(153,153,153)" stroke-width="0.9"/>
<line x1="193.2" y1="-85" x2="195.1" y2="197.9" stroke="rgb(79,79,79)" stroke-width="1.2"/>
<line x1="185.7" y1="-76.3" x2="204" y2="134.2" stroke="rgb(56,56,56)" stroke-width="1.2"/>
<line x1="197.2" y1="-111.9" x2="194.5" y2="206.7" stroke="rgb(113,113,113)" stroke-width="1.3"/>
<line x1="197.7" y1="-69.1" x2="195.6" y2="102.9" stroke="rgb(72,72,72)" stroke-width="1.2"/>
<line x1="218.1" y1="-65.7" x2="176.9" y2="125.2" stroke="rgb(83,83,83)" stroke-width="0.8"/>
<line x1="202.7" y1="0.8" x2="194.6" y2="223" stroke="rgb(79,79,79)" stroke-width="0.9"/>
<line x1="220.7" y1="-70" x2="179" y2="93.9" stroke="rgb(139,139,139)" stroke-width="1.3"/>
<line x1="206.4" y1="-85.1" x2="194.5" y2="120" stroke="rgb(90,90,90)" stroke-width="1.3"/>
<line x1="201.1" y1="13.6" x2="202.1" y2="153.6" stroke="rgb(124,124,124)" stroke-width="1.2"/>
<line x1="223.9" y1="-114.7" x2="180.1" y2="131.3" stroke="rgb(136,136,136)" stroke-width="0.8"/>
<line x1="203.5" y1="-112.8" x2="202.4" y2="167.1" stroke="rgb(69,69,69)" stroke-width="0.9"/>
<line x1="213.6" y1="-121.9" x2="194.4" y2="197.5" stroke="rgb(102,102,102)" stroke-width="0.8"/>
<line x1="203.7" y1="-44.5" x2="206.7" y2="168" stroke="rgb(130,130,130)" stroke-width="1.5"/>
<line x1="219" y1="21.6" x2="193.5" y2="163.4" stroke="rgb(158,158,158)" stroke-width="1.2"/>
<line x1="211.2" y1="-57.8" x2="202.5" y2="140.3" stroke="rgb(141,141,141)" stroke-width="0.9"/>
<line x1="227.5" y1="-84.7" x2="188.8" y2="85.5" stroke="rgb(147,147,147)" stroke-width="1.0"/>
<line x1="222.9" y1="-75.2" x2="194.2" y2="158.8" stroke="rgb(160,160,160)" stroke-width="1.3"/>
<line x1="220.1" y1="-88.1" x2="199.4" y2="138.9" stroke="rgb(61,61,61)" stroke-width="0.8"/>
<line x1="213.8" y1="39.5" x2="207.1" y2="199.1" stroke="rgb(119,119,119)" stroke-width="1.0"/>
<line x1="235.5" y1="-10" x2="187.6" y2="192.7" stroke="rgb(148,148,148)" stroke-width="1.2"/>
<line x1="234.8" y1="-122.9" x2="189.6" y2="182.2" stroke="rgb(74,74,74)" stroke-width="0.9"/>
<line x1="235.6" y1="-27.8" x2="191" y2="217.8" stroke="rgb(136,136,136)" stroke-width="0.8"/>
<line x1="218.8" y1="-13" x2="210.1" y2="197.4" stroke="rgb(157,157,157)" stroke-width="1.5"/>
<line x1="230.9" y1="-48.5" x2="199.1" y2="191.9" stroke="rgb(100,100,100)" stroke-width="1.0"/>
<line x1="233.5" y1="-61.3" x2="197.9" y2="135.3" stroke="rgb(69,69,69)" stroke-width="1.2"/>
<line x1="219" y1="-112.8" x2="215.3" y2="215.3" stroke="rgb(128,128,128)" stroke-width="1.4"/>
<line x1="221.8" y1="-16.7" x2="212.9" y2="236.9" stroke="rgb(107,107,107)" stroke-width="1.1"/>
<line x1="218.2" y1="-43" x2="218.4" y2="138.8" stroke="rgb(117,117,117)" stroke-width="1.3"/>
<line x1="230.1" y1="-124.2" x2="208.2" y2="174.4" stroke="rgb(154,154,154)" stroke-width="1.1"/>
</g>
<line x1="43.2" y1="-62.3" x2="-5.5" y2="233.8" stroke="rgb(228,228,228)" stroke-width="0.9"/>
<line x1="160.8" y1="-77.8" x2="157.8" y2="222.2" stroke="rgb(218,218,218)" stroke-width="1.1"/>
<line x1="235.5" y1="-46.8" x2="190.5" y2="249.8" stroke="rgb(227,227,227)" stroke-width="1.0"/>
<line x1="48" y1="-149.7" x2="42" y2="150.2" stroke="rgb(233,233,233)" stroke-width="1.0"/>
<line x1="130.4" y1="-23.7" x2="113.2" y2="275.9" stroke="rgb(219,219,219)" stroke-width="1.2"/>
<line x1="55.7" y1="-95.3" x2="56.4" y2="204.7" stroke="rgb(202,202,202)" stroke-width="1.3"/>
<line x1="171.1" y1="-142" x2="205.8" y2="156" stroke="rgb(187,187,187)" stroke-width="1.0"/>
<line x1="85.6" y1="-43.4" x2="22.7" y2="249.9" stroke="rgb(187,187,187)" stroke-width="1.1"/>
<line x1="78.4" y1="-19.7" x2="-19.4" y2="263.9" stroke="rgb(194,194,194)" stroke-width="0.8"/>
<line x1="201.2" y1="-34.1" x2="166" y2="263.9" stroke="rgb(182,182,182)" stroke-width="0.9"/>
<line x1="60" y1="-39.1" x2="13.5" y2="257.3" stroke="rgb(205,205,205)" stroke-width="0.9"/>
<line x1="101.4" y1="-77.4" x2="129.4" y2="221.3" stroke="rgb(230,230,230)" stroke-width="1.3"/>
<line x1="183.8" y1="-47.5" x2="178.2" y2="252.4" stroke="rgb(183,183,183)" stroke-width="1.0"/>
<line x1="49.7" y1="-19" x2="23.8" y2="279.8" stroke="rgb(206,206,206)" stroke-width="0.9"/>
<line x1="155.2" y1="-85.6" x2="70.8" y2="202.3" stroke="rgb(235,235,235)" stroke-width="0.9"/>
<line x1="124.7" y1="-77.9" x2="68.5" y2="216.8" stroke="rgb(227,227,227)" stroke-width="1.2"/>
<line x1="-15.5" y1="-102.2" x2="18.2" y2="195.9" stroke="rgb(186,186,186)" stroke-width="1.2"/>
<line x1="74.7" y1="-138.1" x2="12.3" y2="155.3" stroke="rgb(195,195,195)" stroke-width="1.0"/>
<line x1="51.3" y1="-35.9" x2="-0.9" y2="259.5" stroke="rgb(203,203,203)" stroke-width="0.8"/>
<line x1="143.3" y1="-141.7" x2="145.3" y2="158.3" stroke="rgb(232,232,232)" stroke-width="0.9"/>
<line x1="215.8" y1="-90.9" x2="185.9" y2="207.6" stroke="rgb(190,190,190)" stroke-width="1.2"/>
<line x1="117.6" y1="-99.8" x2="54.2" y2="193.4" stroke="rgb(224,224,224)" stroke-width="1.0"/>
<line x1="48.1" y1="-127.3" x2="23.1" y2="171.6" stroke="rgb(189,189,189)" stroke-width="1.0"/>
<line x1="128.5" y1="-95.7" x2="120.9" y2="204.2" stroke="rgb(227,227,227)" stroke-width="1.2"/>
<line x1="86.8" y1="-38.5" x2="53.8" y2="259.7" stroke="rgb(229,229,229)" stroke-width="1.2"/>
<line x1="209.1" y1="-64.5" x2="137.4" y2="226.8" stroke="rgb(237,237,237)" stroke-width="1.0"/>
<line x1="89.9" y1="-28.5" x2="80.3" y2="271.4" stroke="rgb(223,223,223)" stroke-width="0.8"/>
<line x1="83.1" y1="-78.1" x2="15" y2="214.1" stroke="rgb(234,234,234)" stroke-width="1.2"/>
<line x1="203.4" y1="-125.8" x2="117.4" y2="161.6" stroke="rgb(239,239,239)" stroke-width="0.9"/>
<line x1="-4.1" y1="-82.5" x2="-2.3" y2="217.5" stroke="rgb(240,240,240)" stroke-width="1.2"/>
<line x1="53" y1="1" x2="205" y2="120" stroke="rgb(220,220,220)" stroke-width="1.1"/>
<line x1="30" y1="0" x2="137.7" y2="131" stroke="rgb(200,200,200)" stroke-width="1.0"/>
<line x1="-1" y1="36.5" x2="98.5" y2="0" stroke="rgb(200,200,200)" stroke-width="1.0"/>
<line x1="173.3" y1="0.8" x2="205" y2="21.5" stroke="rgb(230,230,230)" stroke-width="1.2"/>
<line x1="112.7" y1="48.8" x2="141.4" y2="1.6" stroke="rgb(200,200,200)" stroke-width="1.0"/>
<line x1="154" y1="66" x2="200.8" y2="0" stroke="rgb(200,200,200)" stroke-width="1.0"/>
<line x1="13.5" y1="50" x2="24.4" y2="0" stroke="rgb(220,220,220)" stroke-width="1.4"/>
<line x1="-1" y1="30" x2="6.2" y2="0" stroke="rgb(215,215,215)" stroke-width="1.3"/>
<line x1="26" y1="63" x2="9" y2="131" stroke="rgb(230,230,230)" stroke-width="1.6"/><rect x="5.3" y="120.6" width="18.6" height="5.4" rx="1" fill="#fff" stroke="#5a6a90" stroke-width="0.8"/></svg>
<svg style="position:absolute;left:0;top:0" width="533" height="414" viewBox="0 0 533 414"><defs><pattern id="stp" patternUnits="userSpaceOnUse" width="3.3" height="10"><rect width="3.3" height="10" fill="#0000ff"/><rect x="1.9999999999999998" width="1.3" height="10" fill="#5050ff"/></pattern></defs><path d="M282.40 101.9h1.32v20.2h-1.32zM283.72 103.6h1.32v18.5h-1.32zM285.04 103.0h1.32v19.1h-1.32zM286.35 102.5h1.32v19.6h-1.32zM287.67 102.5h1.32v19.6h-1.32zM288.99 105.3h1.32v16.8h-1.32zM290.31 109.2h1.32v12.9h-1.32zM291.62 111.0h1.32v11.1h-1.32zM292.94 111.0h1.32v11.1h-1.32zM294.26 112.0h1.32v10.1h-1.32zM295.58 112.0h1.32v10.1h-1.32zM296.90 112.0h1.32v10.1h-1.32zM298.21 112.0h1.32v10.1h-1.32zM299.53 111.0h1.32v11.1h-1.32zM300.85 111.0h1.32v11.1h-1.32zM302.17 111.0h1.32v11.1h-1.32zM303.48 109.2h1.32v12.9h-1.32zM304.80 109.2h1.32v12.9h-1.32zM306.12 109.2h1.32v12.9h-1.32zM307.44 62.6h1.32v59.5h-1.32zM308.76 78.0h1.32v44.1h-1.32zM310.07 101.3h1.32v20.8h-1.32zM311.39 101.3h1.32v20.8h-1.32zM312.71 107.0h1.32v15.1h-1.32zM314.03 107.0h1.32v15.1h-1.32zM315.34 107.5h1.32v14.6h-1.32zM316.66 105.8h1.32v16.3h-1.32zM317.98 105.8h1.32v16.3h-1.32zM319.30 103.6h1.32v18.5h-1.32zM320.62 106.4h1.32v15.7h-1.32zM321.93 106.4h1.32v15.7h-1.32zM323.25 109.2h1.32v12.9h-1.32zM324.57 107.5h1.32v14.6h-1.32zM325.89 107.5h1.32v14.6h-1.32zM327.20 107.5h1.32v14.6h-1.32zM328.52 103.6h1.32v18.5h-1.32zM329.84 103.6h1.32v18.5h-1.32zM331.16 101.9h1.32v20.2h-1.32zM332.48 101.9h1.32v20.2h-1.32zM333.79 101.9h1.32v20.2h-1.32zM335.11 101.6h1.32v20.5h-1.32zM336.43 101.6h1.32v20.5h-1.32zM337.75 100.0h1.32v22.1h-1.32zM339.06 96.1h1.32v26.0h-1.32zM340.38 85.1h1.32v37.0h-1.32zM341.70 79.6h1.32v42.5h-1.32zM343.02 82.0h1.32v40.1h-1.32zM344.34 82.0h1.32v40.1h-1.32zM345.65 85.9h1.32v36.2h-1.32zM346.97 64.7h1.32v57.4h-1.32zM348.29 55.0h1.32v67.1h-1.32zM349.61 76.5h1.32v45.6h-1.32zM350.92 89.8h1.32v32.3h-1.32zM352.24 95.3h1.32v26.8h-1.32zM353.56 95.3h1.32v26.8h-1.32zM354.88 97.7h1.32v24.4h-1.32zM356.20 97.7h1.32v24.4h-1.32zM357.51 95.3h1.32v26.8h-1.32zM358.83 93.8h1.32v28.3h-1.32zM360.15 93.8h1.32v28.3h-1.32zM361.47 92.2h1.32v29.9h-1.32zM362.78 88.3h1.32v33.8h-1.32zM364.10 88.3h1.32v33.8h-1.32zM365.42 81.2h1.32v40.9h-1.32zM366.74 77.3h1.32v44.8h-1.32zM368.06 77.3h1.32v44.8h-1.32zM369.37 73.3h1.32v48.8h-1.32zM370.69 87.5h1.32v34.6h-1.32zM372.01 93.0h1.32v29.1h-1.32zM373.33 82.0h1.32v40.1h-1.32zM374.64 71.8h1.32v50.3h-1.32zM375.96 75.7h1.32v46.4h-1.32zM377.28 75.7h1.32v46.4h-1.32zM378.60 80.4h1.32v41.7h-1.32zM379.92 74.9h1.32v47.2h-1.32zM381.23 74.9h1.32v47.2h-1.32zM382.55 59.5h1.32v62.6h-1.32zM383.87 52.3h1.32v69.8h-1.32zM385.19 7.7h1.32v114.4h-1.32zM386.50 16.5h1.32v105.6h-1.32zM387.82 47.0h1.32v75.1h-1.32zM389.14 66.7h1.32v55.4h-1.32zM390.46 85.0h1.32v37.1h-1.32zM391.78 87.0h1.32v35.1h-1.32zM393.09 87.0h1.32v35.1h-1.32zM394.41 87.0h1.32v35.1h-1.32zM395.73 60.8h1.32v61.3h-1.32zM397.05 63.7h1.32v58.4h-1.32zM398.36 75.0h1.32v47.1h-1.32zM399.68 75.0h1.32v47.1h-1.32zM401.00 89.0h1.32v33.1h-1.32zM402.32 89.0h1.32v33.1h-1.32zM403.64 89.0h1.32v33.1h-1.32zM404.95 52.0h1.32v70.1h-1.32zM406.27 52.0h1.32v70.1h-1.32zM407.59 58.0h1.32v64.1h-1.32zM408.91 77.0h1.32v45.1h-1.32zM410.22 70.5h1.32v51.6h-1.32zM411.54 85.0h1.32v37.1h-1.32zM412.86 85.0h1.32v37.1h-1.32zM414.18 91.3h1.32v30.8h-1.32zM415.50 88.3h1.32v33.8h-1.32zM416.81 88.3h1.32v33.8h-1.32zM418.13 93.4h1.32v28.7h-1.32zM419.45 93.4h1.32v28.7h-1.32zM420.77 75.0h1.32v47.1h-1.32zM422.08 75.0h1.32v47.1h-1.32zM423.40 84.0h1.32v38.1h-1.32zM424.72 81.0h1.32v41.1h-1.32zM426.04 81.0h1.32v41.1h-1.32zM427.36 81.0h1.32v41.1h-1.32zM428.67 93.4h1.32v28.7h-1.32zM429.99 93.4h1.32v28.7h-1.32zM431.31 86.0h1.32v36.1h-1.32zM432.63 86.0h1.32v36.1h-1.32zM433.94 79.0h1.32v43.1h-1.32zM435.26 79.6h1.32v42.5h-1.32zM436.58 96.0h1.32v26.1h-1.32zM437.90 100.8h1.32v21.3h-1.32zM439.22 100.0h1.32v22.1h-1.32zM440.53 100.0h1.32v22.1h-1.32zM441.85 88.3h1.32v33.8h-1.32zM443.17 82.0h1.32v40.1h-1.32zM444.49 82.0h1.32v40.1h-1.32zM445.80 83.5h1.32v38.6h-1.32zM447.12 94.5h1.32v27.6h-1.32zM448.44 94.5h1.32v27.6h-1.32zM449.76 97.0h1.32v25.1h-1.32zM451.08 97.0h1.32v25.1h-1.32zM452.39 97.0h1.32v25.1h-1.32zM453.71 92.2h1.32v29.9h-1.32zM455.03 97.7h1.32v24.4h-1.32zM456.35 97.7h1.32v24.4h-1.32zM457.66 97.7h1.32v24.4h-1.32zM458.98 93.8h1.32v28.3h-1.32zM460.30 97.7h1.32v24.4h-1.32zM461.62 97.7h1.32v24.4h-1.32zM462.94 95.3h1.32v26.8h-1.32zM464.25 98.5h1.32v23.6h-1.32zM465.57 98.5h1.32v23.6h-1.32zM466.89 100.8h1.32v21.3h-1.32zM468.21 98.5h1.32v23.6h-1.32zM469.52 98.5h1.32v23.6h-1.32zM470.84 98.5h1.32v23.6h-1.32zM472.16 95.3h1.32v26.8h-1.32zM473.48 95.3h1.32v26.8h-1.32zM474.80 99.2h1.32v22.9h-1.32zM476.11 104.7h1.32v17.4h-1.32zM477.43 104.7h1.32v17.4h-1.32zM478.75 104.7h1.32v17.4h-1.32zM480.07 96.0h1.32v26.1h-1.32zM481.38 88.3h1.32v33.8h-1.32zM482.70 72.6h1.32v49.5h-1.32zM484.02 72.6h1.32v49.5h-1.32zM485.34 88.3h1.32v33.8h-1.32zM486.66 94.5h1.32v27.6h-1.32zM487.97 94.5h1.32v27.6h-1.32zM489.29 89.8h1.32v32.3h-1.32zM490.61 89.8h1.32v32.3h-1.32zM491.93 82.0h1.32v40.1h-1.32zM493.24 86.0h1.32v36.1h-1.32zM494.56 86.0h1.32v36.1h-1.32zM495.88 93.0h1.32v29.1h-1.32zM497.20 91.4h1.32v30.7h-1.32zM498.52 96.0h1.32v26.1h-1.32zM499.83 96.0h1.32v26.1h-1.32zM501.15 100.0h1.32v22.1h-1.32zM502.47 100.8h1.32v21.3h-1.32zM503.79 100.8h1.32v21.3h-1.32zM505.10 98.5h1.32v23.6h-1.32zM506.42 98.5h1.32v23.6h-1.32zM507.74 98.5h1.32v23.6h-1.32zM509.06 93.8h1.32v28.3h-1.32zM510.38 97.7h1.32v24.4h-1.32zM511.69 97.7h1.32v24.4h-1.32zM513.01 103.0h1.32v19.1h-1.32zM514.33 103.0h1.32v19.1h-1.32zM515.65 105.5h1.32v16.6h-1.32zM516.96 105.5h1.32v16.6h-1.32zM518.28 102.4h1.32v19.7h-1.32z" fill="url(#stp)"/><polyline points="282.4,99.1 283.7,99.1 285.0,99.1 286.4,99.1 287.7,99.1 289.0,99.1 290.3,99.1 291.6,99.1 292.9,99.1 294.3,99.1 295.6,99.1 296.9,99.1 298.2,99.1 299.5,99.1 300.8,99.1 302.2,99.1 303.5,99.1 304.8,99.0 306.1,99.0 307.4,99.0 308.8,99.0 310.1,99.0 311.4,99.0 312.7,98.9 314.0,98.9 315.3,98.9 316.7,98.8 318.0,98.8 319.3,98.7 320.6,98.6 321.9,98.6 323.3,98.5 324.6,98.4 325.9,98.2 327.2,98.1 328.5,98.0 329.8,97.8 331.2,97.6 332.5,97.4 333.8,97.2 335.1,96.9 336.4,96.6 337.7,96.3 339.1,96.0 340.4,95.6 341.7,95.2 343.0,94.7 344.3,94.2 345.7,93.7 347.0,93.1 348.3,92.5 349.6,91.9 350.9,91.2 352.2,90.4 353.6,89.7 354.9,88.8 356.2,88.0 357.5,87.1 358.8,86.2 360.1,85.2 361.5,84.2 362.8,83.2 364.1,82.2 365.4,81.2 366.7,80.1 368.1,79.1 369.4,78.0 370.7,77.0 372.0,75.9 373.3,74.9 374.6,74.0 376.0,73.0 377.3,72.1 378.6,71.3 379.9,70.5 381.2,69.7 382.6,69.0 383.9,68.4 385.2,67.9 386.5,67.5 387.8,67.1 389.1,66.9 390.5,66.7 391.8,66.6 393.1,66.6 394.4,66.7 395.7,66.9 397.0,67.2 398.4,67.6 399.7,68.0 401.0,68.6 402.3,69.2 403.6,69.9 405.0,70.6 406.3,71.4 407.6,72.3 408.9,73.2 410.2,74.2 411.5,75.1 412.9,76.1 414.2,77.2 415.5,78.2 416.8,79.3 418.1,80.3 419.4,81.4 420.8,82.4 422.1,83.4 423.4,84.4 424.7,85.4 426.0,86.4 427.4,87.3 428.7,88.2 430.0,89.0 431.3,89.8 432.6,90.6 433.9,91.3 435.3,92.0 436.6,92.6 437.9,93.2 439.2,93.8 440.5,94.3 441.9,94.8 443.2,95.2 444.5,95.6 445.8,96.0 447.1,96.4 448.4,96.7 449.8,97.0 451.1,97.2 452.4,97.4 453.7,97.6 455.0,97.8 456.3,98.0 457.7,98.1 459.0,98.3 460.3,98.4 461.6,98.5 462.9,98.6 464.3,98.6 465.6,98.7 466.9,98.8 468.2,98.8 469.5,98.9 470.8,98.9 472.2,98.9 473.5,99.0 474.8,99.0 476.1,99.0 477.4,99.0 478.7,99.0 480.1,99.0 481.4,99.1 482.7,99.1 484.0,99.1 485.3,99.1 486.7,99.1 488.0,99.1 489.3,99.1 490.6,99.1 491.9,99.1 493.2,99.1 494.6,99.1 495.9,99.1 497.2,99.1 498.5,99.1 499.8,99.1 501.2,99.1 502.5,99.1 503.8,99.1 505.1,99.1 506.4,99.1 507.7,99.1 509.1,99.1 510.4,99.1 511.7,99.1 513.0,99.1 514.3,99.1 515.6,99.1 517.0,99.1 518.3,99.1 519.6,99.1" fill="none" stroke="#ff00ff" stroke-width="1.9"/><rect x="270.8" y="2.1" width="260.59999999999997" height="120.0" fill="none" stroke="#bcbcbc" stroke-width="1.35"/><path d="M281.00 205.5h1.32v55.0h-1.32zM282.32 225.0h1.32v35.5h-1.32zM283.64 207.8h1.32v52.7h-1.32zM284.97 186.0h1.32v74.5h-1.32zM286.29 181.5h1.32v79.0h-1.32zM287.61 190.6h1.32v69.9h-1.32zM288.93 197.5h1.32v63.0h-1.32zM290.26 218.0h1.32v42.5h-1.32zM291.58 213.6h1.32v46.9h-1.32zM292.90 219.3h1.32v41.2h-1.32zM294.22 211.3h1.32v49.2h-1.32zM295.54 215.9h1.32v44.6h-1.32zM296.87 234.2h1.32v26.3h-1.32zM298.19 244.5h1.32v16.0h-1.32zM299.51 243.4h1.32v17.1h-1.32zM300.83 219.3h1.32v41.2h-1.32zM302.16 198.7h1.32v61.8h-1.32zM303.48 219.3h1.32v41.2h-1.32zM304.80 227.3h1.32v33.2h-1.32zM306.12 245.7h1.32v14.8h-1.32zM307.44 245.7h1.32v14.8h-1.32zM308.77 249.1h1.32v11.4h-1.32zM310.09 241.1h1.32v19.4h-1.32zM311.41 223.9h1.32v36.6h-1.32zM312.73 223.9h1.32v36.6h-1.32zM314.06 251.4h1.32v9.1h-1.32zM315.38 251.4h1.32v9.1h-1.32zM316.70 251.4h1.32v9.1h-1.32zM318.02 251.4h1.32v9.1h-1.32zM319.34 249.1h1.32v11.4h-1.32zM320.67 249.1h1.32v11.4h-1.32zM321.99 256.0h1.32v4.5h-1.32zM323.31 257.5h1.32v3.0h-1.32zM324.63 257.5h1.32v3.0h-1.32zM325.96 257.5h1.32v3.0h-1.32zM327.28 257.5h1.32v3.0h-1.32zM328.60 257.5h1.32v3.0h-1.32zM329.92 251.8h1.32v8.7h-1.32zM331.24 251.8h1.32v8.7h-1.32zM332.57 253.2h1.32v7.3h-1.32zM333.89 253.2h1.32v7.3h-1.32zM335.21 253.2h1.32v7.3h-1.32zM336.53 253.2h1.32v7.3h-1.32zM337.86 253.2h1.32v7.3h-1.32zM339.18 253.2h1.32v7.3h-1.32zM340.50 255.3h1.32v5.2h-1.32zM341.82 255.3h1.32v5.2h-1.32zM343.14 251.0h1.32v9.5h-1.32zM344.47 251.0h1.32v9.5h-1.32zM345.79 256.7h1.32v3.8h-1.32zM347.11 256.7h1.32v3.8h-1.32zM348.43 258.8h1.32v1.7h-1.32zM349.76 258.8h1.32v1.7h-1.32zM351.08 258.8h1.32v1.7h-1.32zM352.40 258.8h1.32v1.7h-1.32zM353.72 258.8h1.32v1.7h-1.32zM355.04 258.8h1.32v1.7h-1.32zM356.37 258.8h1.32v1.7h-1.32zM357.69 252.5h1.32v8.0h-1.32zM359.01 256.7h1.32v3.8h-1.32zM360.33 256.7h1.32v3.8h-1.32zM361.66 258.8h1.32v1.7h-1.32zM362.98 258.8h1.32v1.7h-1.32zM364.30 258.8h1.32v1.7h-1.32zM365.62 256.7h1.32v3.8h-1.32zM366.94 256.7h1.32v3.8h-1.32zM368.27 256.7h1.32v3.8h-1.32zM369.59 244.7h1.32v15.8h-1.32zM370.91 254.6h1.32v5.9h-1.32zM372.23 254.6h1.32v5.9h-1.32zM373.56 258.8h1.32v1.7h-1.32zM374.88 258.8h1.32v1.7h-1.32zM376.20 258.8h1.32v1.7h-1.32zM377.52 258.8h1.32v1.7h-1.32zM378.84 258.8h1.32v1.7h-1.32zM380.17 258.8h1.32v1.7h-1.32zM381.49 258.8h1.32v1.7h-1.32zM382.81 258.8h1.32v1.7h-1.32zM384.13 253.2h1.32v7.3h-1.32zM385.46 249.0h1.32v11.5h-1.32zM386.78 253.2h1.32v7.3h-1.32zM388.10 253.2h1.32v7.3h-1.32zM389.42 257.4h1.32v3.1h-1.32zM390.74 259.5h1.32v1.0h-1.32zM392.07 259.5h1.32v1.0h-1.32zM393.39 259.5h1.32v1.0h-1.32zM394.71 259.5h1.32v1.0h-1.32zM396.03 259.5h1.32v1.0h-1.32zM397.36 258.5h1.32v2.0h-1.32zM398.68 258.5h1.32v2.0h-1.32zM400.00 258.5h1.32v2.0h-1.32zM401.32 259.8h1.32v0.7h-1.32zM402.64 259.8h1.32v0.7h-1.32zM403.97 259.8h1.32v0.7h-1.32zM405.29 259.8h1.32v0.7h-1.32zM406.61 259.8h1.32v0.7h-1.32zM407.93 259.8h1.32v0.7h-1.32zM409.26 259.8h1.32v0.7h-1.32zM410.58 259.8h1.32v0.7h-1.32zM411.90 259.8h1.32v0.7h-1.32zM413.22 259.8h1.32v0.7h-1.32zM414.54 258.8h1.32v1.7h-1.32zM415.87 258.8h1.32v1.7h-1.32zM417.19 258.8h1.32v1.7h-1.32zM418.51 258.8h1.32v1.7h-1.32zM419.83 258.8h1.32v1.7h-1.32zM421.16 258.8h1.32v1.7h-1.32zM422.48 258.8h1.32v1.7h-1.32zM423.80 258.8h1.32v1.7h-1.32zM425.12 257.7h1.32v2.8h-1.32zM426.44 257.7h1.32v2.8h-1.32zM427.77 256.9h1.32v3.6h-1.32zM429.09 256.9h1.32v3.6h-1.32zM430.41 256.9h1.32v3.6h-1.32zM431.73 256.9h1.32v3.6h-1.32zM433.06 256.9h1.32v3.6h-1.32zM434.38 256.9h1.32v3.6h-1.32zM435.70 258.5h1.32v2.0h-1.32zM437.02 258.5h1.32v2.0h-1.32zM438.34 258.5h1.32v2.0h-1.32zM439.67 259.3h1.32v1.2h-1.32zM440.99 259.3h1.32v1.2h-1.32zM442.31 259.3h1.32v1.2h-1.32zM443.63 259.3h1.32v1.2h-1.32zM444.96 259.3h1.32v1.2h-1.32zM446.28 259.3h1.32v1.2h-1.32zM447.60 259.3h1.32v1.2h-1.32zM448.92 259.3h1.32v1.2h-1.32zM450.24 259.3h1.32v1.2h-1.32zM451.57 259.3h1.32v1.2h-1.32zM452.89 259.3h1.32v1.2h-1.32zM454.21 259.3h1.32v1.2h-1.32zM455.53 259.3h1.32v1.2h-1.32zM456.86 259.3h1.32v1.2h-1.32zM458.18 259.3h1.32v1.2h-1.32zM459.50 259.3h1.32v1.2h-1.32zM460.82 259.3h1.32v1.2h-1.32zM462.14 257.7h1.32v2.8h-1.32zM463.47 257.7h1.32v2.8h-1.32zM464.79 257.7h1.32v2.8h-1.32zM466.11 257.7h1.32v2.8h-1.32zM467.43 257.7h1.32v2.8h-1.32zM468.76 256.1h1.32v4.4h-1.32zM470.08 256.1h1.32v4.4h-1.32zM471.40 250.5h1.32v10.0h-1.32zM472.72 237.8h1.32v22.7h-1.32zM474.04 234.6h1.32v25.9h-1.32zM475.37 241.0h1.32v19.5h-1.32zM476.69 247.3h1.32v13.2h-1.32zM478.01 255.3h1.32v5.2h-1.32zM479.33 255.3h1.32v5.2h-1.32zM480.66 252.1h1.32v8.4h-1.32zM481.98 236.5h1.32v24.0h-1.32zM483.30 249.0h1.32v11.5h-1.32zM484.62 249.0h1.32v11.5h-1.32zM485.94 251.4h1.32v9.1h-1.32zM487.27 251.4h1.32v9.1h-1.32zM488.59 249.0h1.32v11.5h-1.32zM489.91 249.0h1.32v11.5h-1.32zM491.23 245.7h1.32v14.8h-1.32zM492.56 245.7h1.32v14.8h-1.32zM493.88 238.8h1.32v21.7h-1.32zM495.20 238.8h1.32v21.7h-1.32zM496.52 229.6h1.32v30.9h-1.32zM497.84 215.9h1.32v44.6h-1.32zM499.17 215.9h1.32v44.6h-1.32zM500.49 209.0h1.32v51.5h-1.32zM501.81 202.0h1.32v58.5h-1.32zM503.13 189.5h1.32v71.0h-1.32zM504.46 189.5h1.32v71.0h-1.32zM505.78 193.0h1.32v67.5h-1.32zM507.10 178.0h1.32v82.5h-1.32zM508.42 178.0h1.32v82.5h-1.32zM509.74 147.2h1.32v113.3h-1.32zM511.07 191.8h1.32v68.7h-1.32zM512.39 206.7h1.32v53.8h-1.32zM513.71 226.2h1.32v34.3h-1.32zM515.03 204.4h1.32v56.1h-1.32zM516.36 204.4h1.32v56.1h-1.32zM517.68 206.7h1.32v53.8h-1.32z" fill="url(#stp)"/><polyline points="281.0,249.8 282.3,249.8 283.6,249.8 285.0,249.8 286.3,249.8 287.6,249.8 288.9,249.8 290.3,249.8 291.6,249.8 292.9,249.8 294.2,249.8 295.5,249.8 296.9,249.8 298.2,249.8 299.5,249.8 300.8,249.8 302.2,249.8 303.5,249.8 304.8,249.8 306.1,249.8 307.4,249.8 308.8,249.8 310.1,249.8 311.4,249.8 312.7,249.8 314.1,249.8 315.4,249.8 316.7,249.8 318.0,249.8 319.3,249.8 320.7,249.8 322.0,249.8 323.3,249.8 324.6,249.8 326.0,249.8 327.3,249.8 328.6,249.8 329.9,249.8 331.2,249.8 332.6,249.8 333.9,249.8 335.2,249.8 336.5,249.8 337.9,249.8 339.2,249.8 340.5,249.8 341.8,249.8 343.1,249.8 344.5,249.8 345.8,249.8 347.1,249.8 348.4,249.8 349.8,249.8 351.1,249.8 352.4,249.8 353.7,249.8 355.0,249.8 356.4,249.8 357.7,249.8 359.0,249.8 360.3,249.8 361.7,249.8 363.0,249.8 364.3,249.8 365.6,249.8 366.9,249.8 368.3,249.8 369.6,249.8 370.9,249.8 372.2,249.8 373.6,249.8 374.9,249.8 376.2,249.8 377.5,249.8 378.8,249.8 380.2,249.8 381.5,249.8 382.8,249.8 384.1,249.8 385.5,249.8 386.8,249.8 388.1,249.8 389.4,249.8 390.7,249.8 392.1,249.8 393.4,249.8 394.7,249.8 396.0,249.8 397.4,249.8 398.7,249.8 400.0,249.8 401.3,249.8 402.6,249.8 404.0,249.8 405.3,249.8 406.6,249.8 407.9,249.8 409.3,249.8 410.6,249.8 411.9,249.8 413.2,249.8 414.5,249.8 415.9,249.8 417.2,249.8 418.5,249.8 419.8,249.8 421.2,249.8 422.5,249.8 423.8,249.8 425.1,249.8 426.4,249.8 427.8,249.8 429.1,249.8 430.4,249.8 431.7,249.8 433.1,249.8 434.4,249.8 435.7,249.8 437.0,249.8 438.3,249.8 439.7,249.8 441.0,249.8 442.3,249.8 443.6,249.8 445.0,249.8 446.3,249.8 447.6,249.8 448.9,249.8 450.2,249.8 451.6,249.8 452.9,249.8 454.2,249.8 455.5,249.8 456.9,249.8 458.2,249.8 459.5,249.8 460.8,249.8 462.1,249.8 463.5,249.8 464.8,249.8 466.1,249.8 467.4,249.8 468.8,249.8 470.1,249.8 471.4,249.8 472.7,249.8 474.0,249.8 475.4,249.8 476.7,249.8 478.0,249.8 479.3,249.8 480.7,249.7 482.0,249.6 483.3,249.4 484.6,249.1 485.9,248.6 487.3,247.8 488.6,246.8 489.9,245.3 491.2,243.3 492.6,240.7 493.9,237.3 495.2,233.2 496.5,228.4 497.8,222.9 499.2,216.9 500.5,210.7 501.8,204.6 503.1,199.0 504.5,194.3 505.8,190.8 507.1,188.8 508.4,188.4 509.7,189.8 511.1,192.7 512.4,197.0 513.7,202.3 515.0,208.2 516.4,214.4 517.7,220.5 519.0,226.2" fill="none" stroke="#ff00ff" stroke-width="1.9"/><rect x="269.5" y="141.5" width="261.0" height="119.0" fill="none" stroke="#bcbcbc" stroke-width="1.35"/><path d="M281.00 395.8h1.32v0.2h-1.32zM282.32 395.8h1.32v0.2h-1.32zM283.64 395.8h1.32v0.2h-1.32zM284.97 395.8h1.32v0.2h-1.32zM286.29 395.8h1.32v0.2h-1.32zM287.61 395.8h1.32v0.2h-1.32zM288.93 395.8h1.32v0.2h-1.32zM290.26 395.8h1.32v0.2h-1.32zM291.58 395.8h1.32v0.2h-1.32zM292.90 395.8h1.32v0.2h-1.32zM294.22 395.8h1.32v0.2h-1.32zM295.54 395.8h1.32v0.2h-1.32zM296.87 395.8h1.32v0.2h-1.32zM298.19 395.8h1.32v0.2h-1.32zM299.51 395.2h1.32v0.8h-1.32zM300.83 395.2h1.32v0.8h-1.32zM302.16 395.2h1.32v0.8h-1.32zM303.48 395.2h1.32v0.8h-1.32zM304.80 395.2h1.32v0.8h-1.32zM306.12 395.2h1.32v0.8h-1.32zM307.44 395.2h1.32v0.8h-1.32zM308.77 395.2h1.32v0.8h-1.32zM310.09 395.2h1.32v0.8h-1.32zM311.41 395.2h1.32v0.8h-1.32zM312.73 395.2h1.32v0.8h-1.32zM314.06 395.2h1.32v0.8h-1.32zM315.38 395.2h1.32v0.8h-1.32zM316.70 395.2h1.32v0.8h-1.32zM318.02 395.2h1.32v0.8h-1.32zM319.34 395.2h1.32v0.8h-1.32zM320.67 395.2h1.32v0.8h-1.32zM321.99 395.2h1.32v0.8h-1.32zM323.31 395.2h1.32v0.8h-1.32zM324.63 395.2h1.32v0.8h-1.32zM325.96 395.2h1.32v0.8h-1.32zM327.28 395.2h1.32v0.8h-1.32zM328.60 395.2h1.32v0.8h-1.32zM329.92 395.2h1.32v0.8h-1.32zM331.24 395.2h1.32v0.8h-1.32zM332.57 395.2h1.32v0.8h-1.32zM333.89 395.2h1.32v0.8h-1.32zM335.21 395.2h1.32v0.8h-1.32zM336.53 395.2h1.32v0.8h-1.32zM337.86 395.2h1.32v0.8h-1.32zM339.18 395.2h1.32v0.8h-1.32zM340.50 395.2h1.32v0.8h-1.32zM341.82 395.2h1.32v0.8h-1.32zM343.14 395.2h1.32v0.8h-1.32zM344.47 395.2h1.32v0.8h-1.32zM345.79 395.2h1.32v0.8h-1.32zM347.11 395.2h1.32v0.8h-1.32zM348.43 395.2h1.32v0.8h-1.32zM349.76 395.2h1.32v0.8h-1.32zM351.08 395.2h1.32v0.8h-1.32zM352.40 395.2h1.32v0.8h-1.32zM353.72 395.2h1.32v0.8h-1.32zM355.04 395.2h1.32v0.8h-1.32zM356.37 395.2h1.32v0.8h-1.32zM357.69 395.2h1.32v0.8h-1.32zM359.01 395.2h1.32v0.8h-1.32zM360.33 395.2h1.32v0.8h-1.32zM361.66 395.2h1.32v0.8h-1.32zM362.98 395.2h1.32v0.8h-1.32zM364.30 395.2h1.32v0.8h-1.32zM365.62 395.2h1.32v0.8h-1.32zM366.94 365.3h1.32v30.7h-1.32zM368.27 365.3h1.32v30.7h-1.32zM369.59 385.8h1.32v10.2h-1.32zM370.91 371.9h1.32v24.1h-1.32zM372.23 372.7h1.32v23.3h-1.32zM373.56 372.7h1.32v23.3h-1.32zM374.88 357.9h1.32v38.1h-1.32zM376.20 367.8h1.32v28.2h-1.32zM377.52 371.0h1.32v25.0h-1.32zM378.84 371.0h1.32v25.0h-1.32zM380.17 368.6h1.32v27.4h-1.32zM381.49 328.7h1.32v67.3h-1.32zM382.81 330.0h1.32v66.0h-1.32zM384.13 310.6h1.32v85.4h-1.32zM385.46 291.8h1.32v104.2h-1.32zM386.78 284.7h1.32v111.3h-1.32zM388.10 284.7h1.32v111.3h-1.32zM389.42 294.9h1.32v101.1h-1.32zM390.74 310.0h1.32v86.0h-1.32zM392.07 330.8h1.32v65.2h-1.32zM393.39 311.8h1.32v84.2h-1.32zM394.71 311.8h1.32v84.2h-1.32zM396.03 308.3h1.32v87.7h-1.32zM397.36 333.2h1.32v62.8h-1.32zM398.68 333.2h1.32v62.8h-1.32zM400.00 343.8h1.32v52.2h-1.32zM401.32 343.8h1.32v52.2h-1.32zM402.64 347.4h1.32v48.6h-1.32zM403.97 368.7h1.32v27.3h-1.32zM405.29 379.4h1.32v16.6h-1.32zM406.61 379.4h1.32v16.6h-1.32zM407.93 384.1h1.32v11.9h-1.32zM409.26 386.5h1.32v9.5h-1.32zM410.58 386.5h1.32v9.5h-1.32zM411.90 386.5h1.32v9.5h-1.32zM413.22 373.5h1.32v22.5h-1.32zM414.54 355.7h1.32v40.3h-1.32zM415.87 375.8h1.32v20.2h-1.32zM417.19 387.7h1.32v8.3h-1.32zM418.51 387.7h1.32v8.3h-1.32zM419.83 393.6h1.32v2.4h-1.32zM421.16 393.6h1.32v2.4h-1.32zM422.48 393.6h1.32v2.4h-1.32zM423.80 393.6h1.32v2.4h-1.32zM425.12 393.6h1.32v2.4h-1.32zM426.44 393.6h1.32v2.4h-1.32zM427.77 393.6h1.32v2.4h-1.32zM429.09 393.6h1.32v2.4h-1.32zM430.41 393.6h1.32v2.4h-1.32zM431.73 393.6h1.32v2.4h-1.32zM433.06 393.6h1.32v2.4h-1.32zM434.38 393.6h1.32v2.4h-1.32zM435.70 393.6h1.32v2.4h-1.32zM437.02 393.6h1.32v2.4h-1.32zM438.34 393.6h1.32v2.4h-1.32zM439.67 393.6h1.32v2.4h-1.32zM440.99 393.6h1.32v2.4h-1.32zM442.31 393.6h1.32v2.4h-1.32zM443.63 393.6h1.32v2.4h-1.32zM444.96 393.6h1.32v2.4h-1.32zM446.28 393.6h1.32v2.4h-1.32zM447.60 393.6h1.32v2.4h-1.32zM448.92 393.6h1.32v2.4h-1.32zM450.24 390.4h1.32v5.6h-1.32zM451.57 390.4h1.32v5.6h-1.32zM452.89 384.8h1.32v11.2h-1.32zM454.21 394.5h1.32v1.5h-1.32zM455.53 394.5h1.32v1.5h-1.32zM456.86 394.5h1.32v1.5h-1.32zM458.18 394.5h1.32v1.5h-1.32zM459.50 394.5h1.32v1.5h-1.32zM460.82 394.5h1.32v1.5h-1.32zM462.14 394.5h1.32v1.5h-1.32zM463.47 387.0h1.32v9.0h-1.32zM464.79 380.8h1.32v15.2h-1.32zM466.11 380.8h1.32v15.2h-1.32zM467.43 387.0h1.32v9.0h-1.32zM468.76 394.5h1.32v1.5h-1.32zM470.08 394.5h1.32v1.5h-1.32zM471.40 395.6h1.32v0.4h-1.32zM472.72 395.6h1.32v0.4h-1.32zM474.04 395.6h1.32v0.4h-1.32zM475.37 395.6h1.32v0.4h-1.32zM476.69 395.6h1.32v0.4h-1.32zM478.01 395.6h1.32v0.4h-1.32zM479.33 395.6h1.32v0.4h-1.32zM480.66 395.6h1.32v0.4h-1.32zM481.98 395.6h1.32v0.4h-1.32zM483.30 395.6h1.32v0.4h-1.32zM484.62 395.6h1.32v0.4h-1.32zM485.94 395.6h1.32v0.4h-1.32zM487.27 395.6h1.32v0.4h-1.32zM488.59 395.6h1.32v0.4h-1.32zM489.91 395.6h1.32v0.4h-1.32zM491.23 395.6h1.32v0.4h-1.32zM492.56 395.6h1.32v0.4h-1.32zM493.88 395.6h1.32v0.4h-1.32zM495.20 395.6h1.32v0.4h-1.32zM496.52 395.6h1.32v0.4h-1.32zM497.84 395.6h1.32v0.4h-1.32zM499.17 395.6h1.32v0.4h-1.32zM500.49 395.6h1.32v0.4h-1.32zM501.81 395.6h1.32v0.4h-1.32zM503.13 395.6h1.32v0.4h-1.32zM504.46 395.6h1.32v0.4h-1.32zM505.78 395.6h1.32v0.4h-1.32zM507.10 395.6h1.32v0.4h-1.32zM508.42 395.6h1.32v0.4h-1.32zM509.74 395.6h1.32v0.4h-1.32zM511.07 395.6h1.32v0.4h-1.32zM512.39 395.6h1.32v0.4h-1.32zM513.71 395.6h1.32v0.4h-1.32zM515.03 395.6h1.32v0.4h-1.32zM516.36 395.6h1.32v0.4h-1.32zM517.68 395.6h1.32v0.4h-1.32z" fill="url(#stp)"/><polyline points="281.0,394.0 282.3,394.0 283.6,394.0 285.0,394.0 286.3,394.0 287.6,394.0 288.9,394.0 290.3,394.0 291.6,394.0 292.9,394.0 294.2,394.0 295.5,394.0 296.9,394.0 298.2,394.0 299.5,394.0 300.8,394.0 302.2,394.0 303.5,394.0 304.8,394.0 306.1,394.0 307.4,394.0 308.8,394.0 310.1,394.0 311.4,394.0 312.7,394.0 314.1,394.0 315.4,394.0 316.7,394.0 318.0,394.0 319.3,394.0 320.7,394.0 322.0,394.0 323.3,394.0 324.6,394.0 326.0,394.0 327.3,394.0 328.6,394.0 329.9,394.0 331.2,394.0 332.6,394.0 333.9,394.0 335.2,394.0 336.5,394.0 337.9,394.0 339.2,394.0 340.5,394.0 341.8,394.0 343.1,394.0 344.5,394.0 345.8,394.0 347.1,394.0 348.4,394.0 349.8,394.0 351.1,394.0 352.4,394.0 353.7,393.9 355.0,393.9 356.4,393.8 357.7,393.7 359.0,393.6 360.3,393.4 361.7,393.0 363.0,392.5 364.3,391.9 365.6,390.9 366.9,389.7 368.3,388.0 369.6,385.8 370.9,383.1 372.2,379.7 373.6,375.7 374.9,370.8 376.2,365.3 377.5,359.1 378.8,352.3 380.2,345.1 381.5,337.7 382.8,330.3 384.1,323.4 385.5,317.1 386.8,311.8 388.1,307.7 389.4,305.2 390.7,304.2 392.1,304.8 393.4,307.1 394.7,310.9 396.0,316.0 397.4,322.1 398.7,328.9 400.0,336.2 401.3,343.6 402.6,350.8 404.0,357.7 405.3,364.1 406.6,369.8 407.9,374.7 409.3,379.0 410.6,382.5 411.9,385.4 413.2,387.6 414.5,389.4 415.9,390.7 417.2,391.7 418.5,392.4 419.8,392.9 421.2,393.3 422.5,393.6 423.8,393.7 425.1,393.8 426.4,393.9 427.8,393.9 429.1,394.0 430.4,394.0 431.7,394.0 433.1,394.0 434.4,394.0 435.7,394.0 437.0,394.0 438.3,394.0 439.7,394.0 441.0,394.0 442.3,394.0 443.6,394.0 445.0,394.0 446.3,394.0 447.6,394.0 448.9,394.0 450.2,394.0 451.6,394.0 452.9,394.0 454.2,394.0 455.5,394.0 456.9,394.0 458.2,394.0 459.5,394.0 460.8,394.0 462.1,394.0 463.5,394.0 464.8,394.0 466.1,394.0 467.4,394.0 468.8,394.0 470.1,394.0 471.4,394.0 472.7,394.0 474.0,394.0 475.4,394.0 476.7,394.0 478.0,394.0 479.3,394.0 480.7,394.0 482.0,394.0 483.3,394.0 484.6,394.0 485.9,394.0 487.3,394.0 488.6,394.0 489.9,394.0 491.2,394.0 492.6,394.0 493.9,394.0 495.2,394.0 496.5,394.0 497.8,394.0 499.2,394.0 500.5,394.0 501.8,394.0 503.1,394.0 504.5,394.0 505.8,394.0 507.1,394.0 508.4,394.0 509.7,394.0 511.1,394.0 512.4,394.0 513.7,394.0 515.0,394.0 516.4,394.0 517.7,394.0 519.0,394.0" fill="none" stroke="#ff00ff" stroke-width="1.9"/><rect x="269.5" y="279" width="261.0" height="117" fill="none" stroke="#bcbcbc" stroke-width="1.35"/><g font-family='"Liberation Sans", sans-serif' fill="#000" stroke="#000" stroke-width="0.05" style="opacity:0.999"><text x="247.8" y="11.9" font-size="8.5" textLength="20.3" lengthAdjust="spacingAndGlyphs">0.018</text><line x1="269.0" y1="9.2" x2="271.4" y2="9.2" stroke="#999" stroke-width="0.7"/><text x="247.8" y="62.0" font-size="8.5" textLength="20.3" lengthAdjust="spacingAndGlyphs">0.010</text><line x1="269.0" y1="59.3" x2="271.4" y2="59.3" stroke="#999" stroke-width="0.7"/><text x="247.8" y="112.3" font-size="8.5" textLength="20.3" lengthAdjust="spacingAndGlyphs">0.002</text><line x1="269.0" y1="109.6" x2="271.4" y2="109.6" stroke="#999" stroke-width="0.7"/><text x="242.3" y="149.4" font-size="8.5" textLength="24.5" lengthAdjust="spacingAndGlyphs">0.0390</text><line x1="267.7" y1="146.7" x2="270.1" y2="146.7" stroke="#999" stroke-width="0.7"/><text x="242.2" y="206.7" font-size="8.5" textLength="24.6" lengthAdjust="spacingAndGlyphs">0.0195</text><line x1="267.7" y1="204.0" x2="270.1" y2="204.0" stroke="#999" stroke-width="0.7"/><text x="242.2" y="263.6" font-size="8.5" textLength="24.6" lengthAdjust="spacingAndGlyphs">0.0000</text><line x1="267.7" y1="260.9" x2="270.1" y2="260.9" stroke="#999" stroke-width="0.7"/><text x="242.4" y="287.8" font-size="8.5" textLength="24.5" lengthAdjust="spacingAndGlyphs">0.0490</text><line x1="267.8" y1="285.1" x2="270.2" y2="285.1" stroke="#999" stroke-width="0.7"/><text x="242.3" y="343.6" font-size="8.5" textLength="24.6" lengthAdjust="spacingAndGlyphs">0.0245</text><line x1="267.8" y1="340.9" x2="270.2" y2="340.9" stroke="#999" stroke-width="0.7"/><text x="242.3" y="399.0" font-size="8.5" textLength="24.6" lengthAdjust="spacingAndGlyphs">0.0000</text><line x1="267.8" y1="396.3" x2="270.2" y2="396.3" stroke="#999" stroke-width="0.7"/><text x="280.9" y="130.0" font-size="8.5" textLength="4.1" lengthAdjust="spacingAndGlyphs">0</text><text x="338.0" y="130.0" font-size="8.5" textLength="8.2" lengthAdjust="spacingAndGlyphs">45</text><text x="397.0" y="130.0" font-size="8.5" textLength="8.2" lengthAdjust="spacingAndGlyphs">90</text><text x="454.1" y="130.0" font-size="8.5" textLength="12.3" lengthAdjust="spacingAndGlyphs">135</text><text x="513.1" y="130.0" font-size="8.5" textLength="12.3" lengthAdjust="spacingAndGlyphs">180</text><text x="279.8" y="268.5" font-size="8.5" textLength="4.1" lengthAdjust="spacingAndGlyphs">0</text><text x="337.1" y="268.5" font-size="8.5" textLength="8.2" lengthAdjust="spacingAndGlyphs">45</text><text x="396.3" y="268.5" font-size="8.5" textLength="8.2" lengthAdjust="spacingAndGlyphs">90</text><text x="453.6" y="268.5" font-size="8.5" textLength="12.3" lengthAdjust="spacingAndGlyphs">135</text><text x="512.9" y="268.5" font-size="8.5" textLength="12.3" lengthAdjust="spacingAndGlyphs">180</text><text x="279.8" y="403.8" font-size="8.5" textLength="4.1" lengthAdjust="spacingAndGlyphs">0</text><text x="337.0" y="403.8" font-size="8.5" textLength="8.2" lengthAdjust="spacingAndGlyphs">45</text><text x="396.2" y="403.8" font-size="8.5" textLength="8.2" lengthAdjust="spacingAndGlyphs">90</text><text x="453.4" y="403.8" font-size="8.5" textLength="12.3" lengthAdjust="spacingAndGlyphs">135</text><text x="512.6" y="403.8" font-size="8.5" textLength="12.3" lengthAdjust="spacingAndGlyphs">180</text><text x="375.4" y="138.2" font-size="8.6" textLength="51.4" lengthAdjust="spacingAndGlyphs">Direction (&#176;)</text><text x="-15.6" y="0" font-size="8.6" textLength="31.2" lengthAdjust="spacingAndGlyphs" transform="translate(245.3,62.5) rotate(-90)">Amount</text><text x="375.4" y="276.7" font-size="8.6" textLength="51.4" lengthAdjust="spacingAndGlyphs">Direction (&#176;)</text><text x="-15.4" y="0" font-size="8.6" textLength="30.8" lengthAdjust="spacingAndGlyphs" transform="translate(239.5,201.3) rotate(-90)">Amount</text><text x="375.4" y="411.8" font-size="8.6" textLength="51.4" lengthAdjust="spacingAndGlyphs">Direction (&#176;)</text><text x="-15.2" y="0" font-size="8.6" textLength="30.4" lengthAdjust="spacingAndGlyphs" transform="translate(239.2,337.7) rotate(-90)">Amount</text><text x="1.7" y="74.6" font-size="13" stroke-width="0.3">a</text><text x="2.7" y="213.8" font-size="14" stroke-width="0.2">b</text><text x="2.3" y="350.6" font-size="13" font-weight="bold" stroke-width="0">c</text></g></svg>
</body></html>
